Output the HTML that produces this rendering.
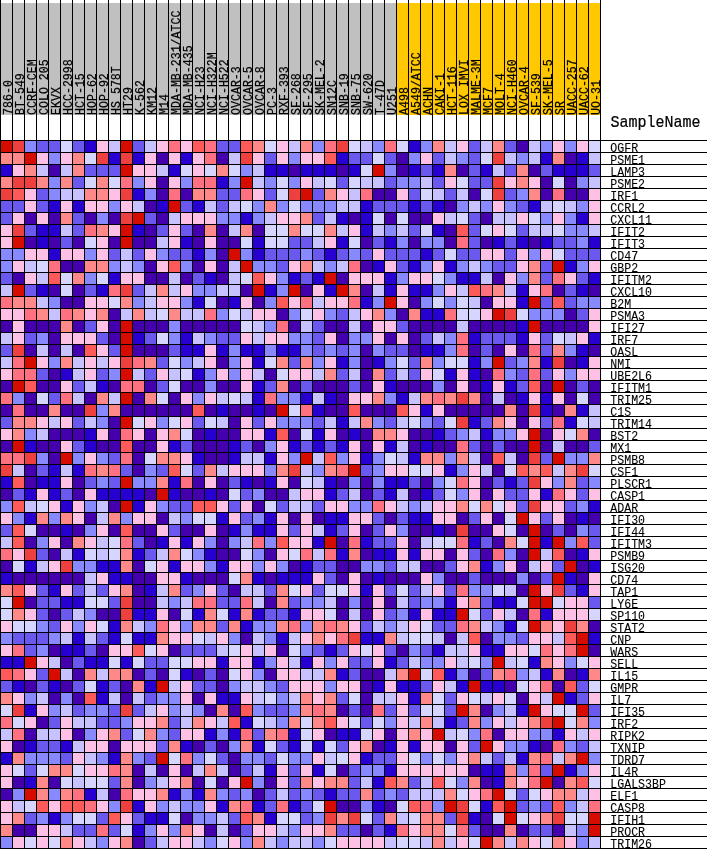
<!DOCTYPE html><html><head><meta charset="utf-8"><style>html,body{margin:0;padding:0;background:#fff;}svg{display:block;will-change:transform}text{font-family:"Liberation Mono",monospace;}</style></head><body>
<svg width="707" height="849" viewBox="0 0 707 849" shape-rendering="crispEdges">
<rect x="0" y="0" width="707" height="849" fill="#fff"/>
<rect x="0" y="3" width="396" height="112" fill="#C0C0C0"/>
<rect x="396" y="3" width="204" height="112" fill="#FFC800"/>
<rect x="1" y="141" width="11" height="11" fill="#D60C00"/>
<rect x="13" y="141" width="11" height="11" fill="#EF4040"/>
<rect x="25" y="141" width="11" height="11" fill="#8888FF"/>
<rect x="37" y="141" width="11" height="11" fill="#6B58EF"/>
<rect x="49" y="141" width="11" height="11" fill="#6B58EF"/>
<rect x="61" y="141" width="11" height="11" fill="#D5D5FF"/>
<rect x="73" y="141" width="11" height="11" fill="#6B58EF"/>
<rect x="85" y="141" width="11" height="11" fill="#2700D1"/>
<rect x="97" y="141" width="11" height="11" fill="#FFC0E5"/>
<rect x="109" y="141" width="11" height="11" fill="#C7C1FF"/>
<rect x="121" y="141" width="11" height="11" fill="#D60C00"/>
<rect x="133" y="141" width="11" height="11" fill="#6B58EF"/>
<rect x="145" y="141" width="11" height="11" fill="#C7C1FF"/>
<rect x="157" y="141" width="11" height="11" fill="#FFC0E5"/>
<rect x="169" y="141" width="11" height="11" fill="#FF7080"/>
<rect x="181" y="141" width="11" height="11" fill="#FFC0E5"/>
<rect x="193" y="141" width="11" height="11" fill="#FF5A5A"/>
<rect x="205" y="141" width="11" height="11" fill="#FF7080"/>
<rect x="217" y="141" width="11" height="11" fill="#6B58EF"/>
<rect x="229" y="141" width="11" height="11" fill="#6B58EF"/>
<rect x="241" y="141" width="11" height="11" fill="#FF5A5A"/>
<rect x="253" y="141" width="11" height="11" fill="#FF8888"/>
<rect x="265" y="141" width="11" height="11" fill="#D5D5FF"/>
<rect x="277" y="141" width="11" height="11" fill="#FFC0E5"/>
<rect x="289" y="141" width="11" height="11" fill="#C7C1FF"/>
<rect x="301" y="141" width="11" height="11" fill="#FF8888"/>
<rect x="313" y="141" width="11" height="11" fill="#8888FF"/>
<rect x="325" y="141" width="11" height="11" fill="#FF7080"/>
<rect x="337" y="141" width="11" height="11" fill="#EF4040"/>
<rect x="349" y="141" width="11" height="11" fill="#D5D5FF"/>
<rect x="361" y="141" width="11" height="11" fill="#C7C1FF"/>
<rect x="373" y="141" width="11" height="11" fill="#8888FF"/>
<rect x="385" y="141" width="11" height="11" fill="#FF7080"/>
<rect x="397" y="141" width="11" height="11" fill="#D5D5FF"/>
<rect x="409" y="141" width="11" height="11" fill="#2700D1"/>
<rect x="421" y="141" width="11" height="11" fill="#8888FF"/>
<rect x="433" y="141" width="11" height="11" fill="#FF8888"/>
<rect x="445" y="141" width="11" height="11" fill="#C7C1FF"/>
<rect x="457" y="141" width="11" height="11" fill="#FFC0E5"/>
<rect x="469" y="141" width="11" height="11" fill="#6B58EF"/>
<rect x="481" y="141" width="11" height="11" fill="#C7C1FF"/>
<rect x="493" y="141" width="11" height="11" fill="#FF8888"/>
<rect x="505" y="141" width="11" height="11" fill="#6B58EF"/>
<rect x="517" y="141" width="11" height="11" fill="#4500AD"/>
<rect x="529" y="141" width="11" height="11" fill="#C7C1FF"/>
<rect x="541" y="141" width="11" height="11" fill="#8888FF"/>
<rect x="553" y="141" width="11" height="11" fill="#FFC0E5"/>
<rect x="565" y="141" width="11" height="11" fill="#8888FF"/>
<rect x="577" y="141" width="11" height="11" fill="#FFC0E5"/>
<rect x="589" y="141" width="11" height="11" fill="#D5D5FF"/>
<rect x="1" y="153" width="11" height="11" fill="#FF8888"/>
<rect x="13" y="153" width="11" height="11" fill="#FF8888"/>
<rect x="25" y="153" width="11" height="11" fill="#D60C00"/>
<rect x="37" y="153" width="11" height="11" fill="#FFC0E5"/>
<rect x="49" y="153" width="11" height="11" fill="#8888FF"/>
<rect x="61" y="153" width="11" height="11" fill="#FFC0E5"/>
<rect x="73" y="153" width="11" height="11" fill="#FF8888"/>
<rect x="85" y="153" width="11" height="11" fill="#D5D5FF"/>
<rect x="97" y="153" width="11" height="11" fill="#EF4040"/>
<rect x="109" y="153" width="11" height="11" fill="#2700D1"/>
<rect x="121" y="153" width="11" height="11" fill="#EF4040"/>
<rect x="133" y="153" width="11" height="11" fill="#2700D1"/>
<rect x="145" y="153" width="11" height="11" fill="#FFC0E5"/>
<rect x="157" y="153" width="11" height="11" fill="#4500AD"/>
<rect x="169" y="153" width="11" height="11" fill="#FFC0E5"/>
<rect x="181" y="153" width="11" height="11" fill="#2700D1"/>
<rect x="193" y="153" width="11" height="11" fill="#FFC0E5"/>
<rect x="205" y="153" width="11" height="11" fill="#FF7080"/>
<rect x="217" y="153" width="11" height="11" fill="#4500AD"/>
<rect x="229" y="153" width="11" height="11" fill="#C7C1FF"/>
<rect x="241" y="153" width="11" height="11" fill="#EF4040"/>
<rect x="253" y="153" width="11" height="11" fill="#FFC0E5"/>
<rect x="265" y="153" width="11" height="11" fill="#6B58EF"/>
<rect x="277" y="153" width="11" height="11" fill="#FFC0E5"/>
<rect x="289" y="153" width="11" height="11" fill="#8888FF"/>
<rect x="301" y="153" width="11" height="11" fill="#FFC0E5"/>
<rect x="313" y="153" width="11" height="11" fill="#FFC0E5"/>
<rect x="325" y="153" width="11" height="11" fill="#FF5A5A"/>
<rect x="337" y="153" width="11" height="11" fill="#2700D1"/>
<rect x="349" y="153" width="11" height="11" fill="#6B58EF"/>
<rect x="361" y="153" width="11" height="11" fill="#6B58EF"/>
<rect x="373" y="153" width="11" height="11" fill="#D5D5FF"/>
<rect x="385" y="153" width="11" height="11" fill="#6B58EF"/>
<rect x="397" y="153" width="11" height="11" fill="#4500AD"/>
<rect x="409" y="153" width="11" height="11" fill="#8888FF"/>
<rect x="421" y="153" width="11" height="11" fill="#FFC0E5"/>
<rect x="433" y="153" width="11" height="11" fill="#6B58EF"/>
<rect x="445" y="153" width="11" height="11" fill="#C7C1FF"/>
<rect x="457" y="153" width="11" height="11" fill="#8888FF"/>
<rect x="469" y="153" width="11" height="11" fill="#6B58EF"/>
<rect x="481" y="153" width="11" height="11" fill="#D5D5FF"/>
<rect x="493" y="153" width="11" height="11" fill="#EF4040"/>
<rect x="505" y="153" width="11" height="11" fill="#C7C1FF"/>
<rect x="517" y="153" width="11" height="11" fill="#8888FF"/>
<rect x="529" y="153" width="11" height="11" fill="#C7C1FF"/>
<rect x="541" y="153" width="11" height="11" fill="#2700D1"/>
<rect x="553" y="153" width="11" height="11" fill="#FF8888"/>
<rect x="565" y="153" width="11" height="11" fill="#4500AD"/>
<rect x="577" y="153" width="11" height="11" fill="#2700D1"/>
<rect x="589" y="153" width="11" height="11" fill="#C7C1FF"/>
<rect x="1" y="165" width="11" height="11" fill="#2700D1"/>
<rect x="13" y="165" width="11" height="11" fill="#FFC0E5"/>
<rect x="25" y="165" width="11" height="11" fill="#FF8888"/>
<rect x="37" y="165" width="11" height="11" fill="#C7C1FF"/>
<rect x="49" y="165" width="11" height="11" fill="#4500AD"/>
<rect x="61" y="165" width="11" height="11" fill="#C7C1FF"/>
<rect x="73" y="165" width="11" height="11" fill="#FF8888"/>
<rect x="85" y="165" width="11" height="11" fill="#6B58EF"/>
<rect x="97" y="165" width="11" height="11" fill="#6B58EF"/>
<rect x="109" y="165" width="11" height="11" fill="#6B58EF"/>
<rect x="121" y="165" width="11" height="11" fill="#D60C00"/>
<rect x="133" y="165" width="11" height="11" fill="#FFC0E5"/>
<rect x="145" y="165" width="11" height="11" fill="#FFC0E5"/>
<rect x="157" y="165" width="11" height="11" fill="#C7C1FF"/>
<rect x="169" y="165" width="11" height="11" fill="#2700D1"/>
<rect x="181" y="165" width="11" height="11" fill="#D5D5FF"/>
<rect x="193" y="165" width="11" height="11" fill="#FFC0E5"/>
<rect x="205" y="165" width="11" height="11" fill="#D5D5FF"/>
<rect x="217" y="165" width="11" height="11" fill="#FF8888"/>
<rect x="229" y="165" width="11" height="11" fill="#D5D5FF"/>
<rect x="241" y="165" width="11" height="11" fill="#8888FF"/>
<rect x="253" y="165" width="11" height="11" fill="#C7C1FF"/>
<rect x="265" y="165" width="11" height="11" fill="#2700D1"/>
<rect x="277" y="165" width="11" height="11" fill="#2700D1"/>
<rect x="289" y="165" width="11" height="11" fill="#4500AD"/>
<rect x="301" y="165" width="11" height="11" fill="#2700D1"/>
<rect x="313" y="165" width="11" height="11" fill="#2700D1"/>
<rect x="325" y="165" width="11" height="11" fill="#2700D1"/>
<rect x="337" y="165" width="11" height="11" fill="#4500AD"/>
<rect x="349" y="165" width="11" height="11" fill="#2700D1"/>
<rect x="361" y="165" width="11" height="11" fill="#D5D5FF"/>
<rect x="373" y="165" width="11" height="11" fill="#D60C00"/>
<rect x="385" y="165" width="11" height="11" fill="#8888FF"/>
<rect x="397" y="165" width="11" height="11" fill="#4500AD"/>
<rect x="409" y="165" width="11" height="11" fill="#2700D1"/>
<rect x="421" y="165" width="11" height="11" fill="#6B58EF"/>
<rect x="433" y="165" width="11" height="11" fill="#2700D1"/>
<rect x="445" y="165" width="11" height="11" fill="#FF8888"/>
<rect x="457" y="165" width="11" height="11" fill="#4500AD"/>
<rect x="469" y="165" width="11" height="11" fill="#6B58EF"/>
<rect x="481" y="165" width="11" height="11" fill="#2700D1"/>
<rect x="493" y="165" width="11" height="11" fill="#C7C1FF"/>
<rect x="505" y="165" width="11" height="11" fill="#6B58EF"/>
<rect x="517" y="165" width="11" height="11" fill="#FF8888"/>
<rect x="529" y="165" width="11" height="11" fill="#4500AD"/>
<rect x="541" y="165" width="11" height="11" fill="#6B58EF"/>
<rect x="553" y="165" width="11" height="11" fill="#2700D1"/>
<rect x="565" y="165" width="11" height="11" fill="#2700D1"/>
<rect x="577" y="165" width="11" height="11" fill="#2700D1"/>
<rect x="589" y="165" width="11" height="11" fill="#6B58EF"/>
<rect x="1" y="177" width="11" height="11" fill="#FF8888"/>
<rect x="13" y="177" width="11" height="11" fill="#EF4040"/>
<rect x="25" y="177" width="11" height="11" fill="#EF4040"/>
<rect x="37" y="177" width="11" height="11" fill="#FF8888"/>
<rect x="49" y="177" width="11" height="11" fill="#8888FF"/>
<rect x="61" y="177" width="11" height="11" fill="#FF8888"/>
<rect x="73" y="177" width="11" height="11" fill="#6B58EF"/>
<rect x="85" y="177" width="11" height="11" fill="#D5D5FF"/>
<rect x="97" y="177" width="11" height="11" fill="#FF8888"/>
<rect x="109" y="177" width="11" height="11" fill="#D5D5FF"/>
<rect x="121" y="177" width="11" height="11" fill="#FF7080"/>
<rect x="133" y="177" width="11" height="11" fill="#8888FF"/>
<rect x="145" y="177" width="11" height="11" fill="#FFC0E5"/>
<rect x="157" y="177" width="11" height="11" fill="#4500AD"/>
<rect x="169" y="177" width="11" height="11" fill="#FFC0E5"/>
<rect x="181" y="177" width="11" height="11" fill="#8888FF"/>
<rect x="193" y="177" width="11" height="11" fill="#FF7080"/>
<rect x="205" y="177" width="11" height="11" fill="#FF7080"/>
<rect x="217" y="177" width="11" height="11" fill="#2700D1"/>
<rect x="229" y="177" width="11" height="11" fill="#8888FF"/>
<rect x="241" y="177" width="11" height="11" fill="#D60C00"/>
<rect x="253" y="177" width="11" height="11" fill="#C7C1FF"/>
<rect x="265" y="177" width="11" height="11" fill="#8888FF"/>
<rect x="277" y="177" width="11" height="11" fill="#D5D5FF"/>
<rect x="289" y="177" width="11" height="11" fill="#8888FF"/>
<rect x="301" y="177" width="11" height="11" fill="#FFC0E5"/>
<rect x="313" y="177" width="11" height="11" fill="#C7C1FF"/>
<rect x="325" y="177" width="11" height="11" fill="#D5D5FF"/>
<rect x="337" y="177" width="11" height="11" fill="#6B58EF"/>
<rect x="349" y="177" width="11" height="11" fill="#D5D5FF"/>
<rect x="361" y="177" width="11" height="11" fill="#C7C1FF"/>
<rect x="373" y="177" width="11" height="11" fill="#C7C1FF"/>
<rect x="385" y="177" width="11" height="11" fill="#6B58EF"/>
<rect x="397" y="177" width="11" height="11" fill="#8888FF"/>
<rect x="409" y="177" width="11" height="11" fill="#8888FF"/>
<rect x="421" y="177" width="11" height="11" fill="#C7C1FF"/>
<rect x="433" y="177" width="11" height="11" fill="#6B58EF"/>
<rect x="445" y="177" width="11" height="11" fill="#FFC0E5"/>
<rect x="457" y="177" width="11" height="11" fill="#D5D5FF"/>
<rect x="469" y="177" width="11" height="11" fill="#6B58EF"/>
<rect x="481" y="177" width="11" height="11" fill="#6B58EF"/>
<rect x="493" y="177" width="11" height="11" fill="#EF4040"/>
<rect x="505" y="177" width="11" height="11" fill="#FFC0E5"/>
<rect x="517" y="177" width="11" height="11" fill="#FF8888"/>
<rect x="529" y="177" width="11" height="11" fill="#FFC0E5"/>
<rect x="541" y="177" width="11" height="11" fill="#4500AD"/>
<rect x="553" y="177" width="11" height="11" fill="#D5D5FF"/>
<rect x="565" y="177" width="11" height="11" fill="#4500AD"/>
<rect x="577" y="177" width="11" height="11" fill="#8888FF"/>
<rect x="589" y="177" width="11" height="11" fill="#C7C1FF"/>
<rect x="1" y="189" width="11" height="11" fill="#EF4040"/>
<rect x="13" y="189" width="11" height="11" fill="#FF5A5A"/>
<rect x="25" y="189" width="11" height="11" fill="#FFC0E5"/>
<rect x="37" y="189" width="11" height="11" fill="#6B58EF"/>
<rect x="49" y="189" width="11" height="11" fill="#8888FF"/>
<rect x="61" y="189" width="11" height="11" fill="#C7C1FF"/>
<rect x="73" y="189" width="11" height="11" fill="#C7C1FF"/>
<rect x="85" y="189" width="11" height="11" fill="#FF8888"/>
<rect x="97" y="189" width="11" height="11" fill="#FF8888"/>
<rect x="109" y="189" width="11" height="11" fill="#FFC0E5"/>
<rect x="121" y="189" width="11" height="11" fill="#EF4040"/>
<rect x="133" y="189" width="11" height="11" fill="#2700D1"/>
<rect x="145" y="189" width="11" height="11" fill="#8888FF"/>
<rect x="157" y="189" width="11" height="11" fill="#4500AD"/>
<rect x="169" y="189" width="11" height="11" fill="#FF7080"/>
<rect x="181" y="189" width="11" height="11" fill="#4500AD"/>
<rect x="193" y="189" width="11" height="11" fill="#FF8888"/>
<rect x="205" y="189" width="11" height="11" fill="#FF8888"/>
<rect x="217" y="189" width="11" height="11" fill="#6B58EF"/>
<rect x="229" y="189" width="11" height="11" fill="#6B58EF"/>
<rect x="241" y="189" width="11" height="11" fill="#FF7080"/>
<rect x="253" y="189" width="11" height="11" fill="#FFC0E5"/>
<rect x="265" y="189" width="11" height="11" fill="#6B58EF"/>
<rect x="277" y="189" width="11" height="11" fill="#D5D5FF"/>
<rect x="289" y="189" width="11" height="11" fill="#EF4040"/>
<rect x="301" y="189" width="11" height="11" fill="#D60C00"/>
<rect x="313" y="189" width="11" height="11" fill="#6B58EF"/>
<rect x="325" y="189" width="11" height="11" fill="#FF8888"/>
<rect x="337" y="189" width="11" height="11" fill="#FFC0E5"/>
<rect x="349" y="189" width="11" height="11" fill="#C7C1FF"/>
<rect x="361" y="189" width="11" height="11" fill="#FF7080"/>
<rect x="373" y="189" width="11" height="11" fill="#4500AD"/>
<rect x="385" y="189" width="11" height="11" fill="#4500AD"/>
<rect x="397" y="189" width="11" height="11" fill="#FFC0E5"/>
<rect x="409" y="189" width="11" height="11" fill="#6B58EF"/>
<rect x="421" y="189" width="11" height="11" fill="#D5D5FF"/>
<rect x="433" y="189" width="11" height="11" fill="#C7C1FF"/>
<rect x="445" y="189" width="11" height="11" fill="#6B58EF"/>
<rect x="457" y="189" width="11" height="11" fill="#C7C1FF"/>
<rect x="469" y="189" width="11" height="11" fill="#4500AD"/>
<rect x="481" y="189" width="11" height="11" fill="#D5D5FF"/>
<rect x="493" y="189" width="11" height="11" fill="#EF4040"/>
<rect x="505" y="189" width="11" height="11" fill="#6B58EF"/>
<rect x="517" y="189" width="11" height="11" fill="#8888FF"/>
<rect x="529" y="189" width="11" height="11" fill="#FF8888"/>
<rect x="541" y="189" width="11" height="11" fill="#4500AD"/>
<rect x="553" y="189" width="11" height="11" fill="#FF7080"/>
<rect x="565" y="189" width="11" height="11" fill="#4500AD"/>
<rect x="577" y="189" width="11" height="11" fill="#4500AD"/>
<rect x="589" y="189" width="11" height="11" fill="#FFC0E5"/>
<rect x="1" y="201" width="11" height="11" fill="#6B58EF"/>
<rect x="13" y="201" width="11" height="11" fill="#6B58EF"/>
<rect x="25" y="201" width="11" height="11" fill="#FFC0E5"/>
<rect x="37" y="201" width="11" height="11" fill="#6B58EF"/>
<rect x="49" y="201" width="11" height="11" fill="#2700D1"/>
<rect x="61" y="201" width="11" height="11" fill="#FFC0E5"/>
<rect x="73" y="201" width="11" height="11" fill="#2700D1"/>
<rect x="85" y="201" width="11" height="11" fill="#FFC0E5"/>
<rect x="97" y="201" width="11" height="11" fill="#FFC0E5"/>
<rect x="109" y="201" width="11" height="11" fill="#8888FF"/>
<rect x="121" y="201" width="11" height="11" fill="#FFC0E5"/>
<rect x="133" y="201" width="11" height="11" fill="#C7C1FF"/>
<rect x="145" y="201" width="11" height="11" fill="#4500AD"/>
<rect x="157" y="201" width="11" height="11" fill="#2700D1"/>
<rect x="169" y="201" width="11" height="11" fill="#D60C00"/>
<rect x="181" y="201" width="11" height="11" fill="#6B58EF"/>
<rect x="193" y="201" width="11" height="11" fill="#2700D1"/>
<rect x="205" y="201" width="11" height="11" fill="#C7C1FF"/>
<rect x="217" y="201" width="11" height="11" fill="#6B58EF"/>
<rect x="229" y="201" width="11" height="11" fill="#C7C1FF"/>
<rect x="241" y="201" width="11" height="11" fill="#D5D5FF"/>
<rect x="253" y="201" width="11" height="11" fill="#8888FF"/>
<rect x="265" y="201" width="11" height="11" fill="#FF8888"/>
<rect x="277" y="201" width="11" height="11" fill="#8888FF"/>
<rect x="289" y="201" width="11" height="11" fill="#D5D5FF"/>
<rect x="301" y="201" width="11" height="11" fill="#8888FF"/>
<rect x="313" y="201" width="11" height="11" fill="#8888FF"/>
<rect x="325" y="201" width="11" height="11" fill="#8888FF"/>
<rect x="337" y="201" width="11" height="11" fill="#C7C1FF"/>
<rect x="349" y="201" width="11" height="11" fill="#C7C1FF"/>
<rect x="361" y="201" width="11" height="11" fill="#2700D1"/>
<rect x="373" y="201" width="11" height="11" fill="#6B58EF"/>
<rect x="385" y="201" width="11" height="11" fill="#6B58EF"/>
<rect x="397" y="201" width="11" height="11" fill="#6B58EF"/>
<rect x="409" y="201" width="11" height="11" fill="#2700D1"/>
<rect x="421" y="201" width="11" height="11" fill="#6B58EF"/>
<rect x="433" y="201" width="11" height="11" fill="#2700D1"/>
<rect x="445" y="201" width="11" height="11" fill="#4500AD"/>
<rect x="457" y="201" width="11" height="11" fill="#8888FF"/>
<rect x="469" y="201" width="11" height="11" fill="#C7C1FF"/>
<rect x="481" y="201" width="11" height="11" fill="#8888FF"/>
<rect x="493" y="201" width="11" height="11" fill="#FFC0E5"/>
<rect x="505" y="201" width="11" height="11" fill="#8888FF"/>
<rect x="517" y="201" width="11" height="11" fill="#6B58EF"/>
<rect x="529" y="201" width="11" height="11" fill="#2700D1"/>
<rect x="541" y="201" width="11" height="11" fill="#C7C1FF"/>
<rect x="553" y="201" width="11" height="11" fill="#D5D5FF"/>
<rect x="565" y="201" width="11" height="11" fill="#C7C1FF"/>
<rect x="577" y="201" width="11" height="11" fill="#8888FF"/>
<rect x="589" y="201" width="11" height="11" fill="#FFC0E5"/>
<rect x="1" y="213" width="11" height="11" fill="#6B58EF"/>
<rect x="13" y="213" width="11" height="11" fill="#FFC0E5"/>
<rect x="25" y="213" width="11" height="11" fill="#4500AD"/>
<rect x="37" y="213" width="11" height="11" fill="#FFC0E5"/>
<rect x="49" y="213" width="11" height="11" fill="#4500AD"/>
<rect x="61" y="213" width="11" height="11" fill="#FF8888"/>
<rect x="73" y="213" width="11" height="11" fill="#6B58EF"/>
<rect x="85" y="213" width="11" height="11" fill="#4500AD"/>
<rect x="97" y="213" width="11" height="11" fill="#8888FF"/>
<rect x="109" y="213" width="11" height="11" fill="#4500AD"/>
<rect x="121" y="213" width="11" height="11" fill="#EF4040"/>
<rect x="133" y="213" width="11" height="11" fill="#D60C00"/>
<rect x="145" y="213" width="11" height="11" fill="#6B58EF"/>
<rect x="157" y="213" width="11" height="11" fill="#4500AD"/>
<rect x="169" y="213" width="11" height="11" fill="#C7C1FF"/>
<rect x="181" y="213" width="11" height="11" fill="#FFC0E5"/>
<rect x="193" y="213" width="11" height="11" fill="#FFC0E5"/>
<rect x="205" y="213" width="11" height="11" fill="#FFC0E5"/>
<rect x="217" y="213" width="11" height="11" fill="#8888FF"/>
<rect x="229" y="213" width="11" height="11" fill="#8888FF"/>
<rect x="241" y="213" width="11" height="11" fill="#2700D1"/>
<rect x="253" y="213" width="11" height="11" fill="#8888FF"/>
<rect x="265" y="213" width="11" height="11" fill="#C7C1FF"/>
<rect x="277" y="213" width="11" height="11" fill="#FFC0E5"/>
<rect x="289" y="213" width="11" height="11" fill="#FFC0E5"/>
<rect x="301" y="213" width="11" height="11" fill="#FF8888"/>
<rect x="313" y="213" width="11" height="11" fill="#6B58EF"/>
<rect x="325" y="213" width="11" height="11" fill="#C7C1FF"/>
<rect x="337" y="213" width="11" height="11" fill="#2700D1"/>
<rect x="349" y="213" width="11" height="11" fill="#4500AD"/>
<rect x="361" y="213" width="11" height="11" fill="#2700D1"/>
<rect x="373" y="213" width="11" height="11" fill="#D5D5FF"/>
<rect x="385" y="213" width="11" height="11" fill="#4500AD"/>
<rect x="397" y="213" width="11" height="11" fill="#D5D5FF"/>
<rect x="409" y="213" width="11" height="11" fill="#4500AD"/>
<rect x="421" y="213" width="11" height="11" fill="#4500AD"/>
<rect x="433" y="213" width="11" height="11" fill="#FFC0E5"/>
<rect x="445" y="213" width="11" height="11" fill="#C7C1FF"/>
<rect x="457" y="213" width="11" height="11" fill="#D5D5FF"/>
<rect x="469" y="213" width="11" height="11" fill="#6B58EF"/>
<rect x="481" y="213" width="11" height="11" fill="#4500AD"/>
<rect x="493" y="213" width="11" height="11" fill="#C7C1FF"/>
<rect x="505" y="213" width="11" height="11" fill="#C7C1FF"/>
<rect x="517" y="213" width="11" height="11" fill="#FFC0E5"/>
<rect x="529" y="213" width="11" height="11" fill="#D5D5FF"/>
<rect x="541" y="213" width="11" height="11" fill="#8888FF"/>
<rect x="553" y="213" width="11" height="11" fill="#FFC0E5"/>
<rect x="565" y="213" width="11" height="11" fill="#8888FF"/>
<rect x="577" y="213" width="11" height="11" fill="#2700D1"/>
<rect x="589" y="213" width="11" height="11" fill="#FFC0E5"/>
<rect x="1" y="225" width="11" height="11" fill="#FFC0E5"/>
<rect x="13" y="225" width="11" height="11" fill="#EF4040"/>
<rect x="25" y="225" width="11" height="11" fill="#6B58EF"/>
<rect x="37" y="225" width="11" height="11" fill="#2700D1"/>
<rect x="49" y="225" width="11" height="11" fill="#2700D1"/>
<rect x="61" y="225" width="11" height="11" fill="#C7C1FF"/>
<rect x="73" y="225" width="11" height="11" fill="#6B58EF"/>
<rect x="85" y="225" width="11" height="11" fill="#FF7080"/>
<rect x="97" y="225" width="11" height="11" fill="#FF8888"/>
<rect x="109" y="225" width="11" height="11" fill="#FFC0E5"/>
<rect x="121" y="225" width="11" height="11" fill="#D60C00"/>
<rect x="133" y="225" width="11" height="11" fill="#2700D1"/>
<rect x="145" y="225" width="11" height="11" fill="#4500AD"/>
<rect x="157" y="225" width="11" height="11" fill="#6B58EF"/>
<rect x="169" y="225" width="11" height="11" fill="#FFC0E5"/>
<rect x="181" y="225" width="11" height="11" fill="#6B58EF"/>
<rect x="193" y="225" width="11" height="11" fill="#4500AD"/>
<rect x="205" y="225" width="11" height="11" fill="#FF8888"/>
<rect x="217" y="225" width="11" height="11" fill="#4500AD"/>
<rect x="229" y="225" width="11" height="11" fill="#C7C1FF"/>
<rect x="241" y="225" width="11" height="11" fill="#FF8888"/>
<rect x="253" y="225" width="11" height="11" fill="#4500AD"/>
<rect x="265" y="225" width="11" height="11" fill="#D5D5FF"/>
<rect x="277" y="225" width="11" height="11" fill="#D5D5FF"/>
<rect x="289" y="225" width="11" height="11" fill="#FF8888"/>
<rect x="301" y="225" width="11" height="11" fill="#D5D5FF"/>
<rect x="313" y="225" width="11" height="11" fill="#D5D5FF"/>
<rect x="325" y="225" width="11" height="11" fill="#FF8888"/>
<rect x="337" y="225" width="11" height="11" fill="#C7C1FF"/>
<rect x="349" y="225" width="11" height="11" fill="#FFC0E5"/>
<rect x="361" y="225" width="11" height="11" fill="#2700D1"/>
<rect x="373" y="225" width="11" height="11" fill="#C7C1FF"/>
<rect x="385" y="225" width="11" height="11" fill="#8888FF"/>
<rect x="397" y="225" width="11" height="11" fill="#C7C1FF"/>
<rect x="409" y="225" width="11" height="11" fill="#6B58EF"/>
<rect x="421" y="225" width="11" height="11" fill="#D5D5FF"/>
<rect x="433" y="225" width="11" height="11" fill="#2700D1"/>
<rect x="445" y="225" width="11" height="11" fill="#4500AD"/>
<rect x="457" y="225" width="11" height="11" fill="#FF5A5A"/>
<rect x="469" y="225" width="11" height="11" fill="#6B58EF"/>
<rect x="481" y="225" width="11" height="11" fill="#D5D5FF"/>
<rect x="493" y="225" width="11" height="11" fill="#FFC0E5"/>
<rect x="505" y="225" width="11" height="11" fill="#D5D5FF"/>
<rect x="517" y="225" width="11" height="11" fill="#6B58EF"/>
<rect x="529" y="225" width="11" height="11" fill="#C7C1FF"/>
<rect x="541" y="225" width="11" height="11" fill="#C7C1FF"/>
<rect x="553" y="225" width="11" height="11" fill="#D5D5FF"/>
<rect x="565" y="225" width="11" height="11" fill="#8888FF"/>
<rect x="577" y="225" width="11" height="11" fill="#8888FF"/>
<rect x="589" y="225" width="11" height="11" fill="#C7C1FF"/>
<rect x="1" y="237" width="11" height="11" fill="#FFC0E5"/>
<rect x="13" y="237" width="11" height="11" fill="#D60C00"/>
<rect x="25" y="237" width="11" height="11" fill="#4500AD"/>
<rect x="37" y="237" width="11" height="11" fill="#2700D1"/>
<rect x="49" y="237" width="11" height="11" fill="#4500AD"/>
<rect x="61" y="237" width="11" height="11" fill="#6B58EF"/>
<rect x="73" y="237" width="11" height="11" fill="#4500AD"/>
<rect x="85" y="237" width="11" height="11" fill="#D5D5FF"/>
<rect x="97" y="237" width="11" height="11" fill="#FFC0E5"/>
<rect x="109" y="237" width="11" height="11" fill="#4500AD"/>
<rect x="121" y="237" width="11" height="11" fill="#D60C00"/>
<rect x="133" y="237" width="11" height="11" fill="#4500AD"/>
<rect x="145" y="237" width="11" height="11" fill="#4500AD"/>
<rect x="157" y="237" width="11" height="11" fill="#C7C1FF"/>
<rect x="169" y="237" width="11" height="11" fill="#FFC0E5"/>
<rect x="181" y="237" width="11" height="11" fill="#2700D1"/>
<rect x="193" y="237" width="11" height="11" fill="#4500AD"/>
<rect x="205" y="237" width="11" height="11" fill="#FFC0E5"/>
<rect x="217" y="237" width="11" height="11" fill="#4500AD"/>
<rect x="229" y="237" width="11" height="11" fill="#4500AD"/>
<rect x="241" y="237" width="11" height="11" fill="#D5D5FF"/>
<rect x="253" y="237" width="11" height="11" fill="#2700D1"/>
<rect x="265" y="237" width="11" height="11" fill="#D5D5FF"/>
<rect x="277" y="237" width="11" height="11" fill="#D5D5FF"/>
<rect x="289" y="237" width="11" height="11" fill="#6B58EF"/>
<rect x="301" y="237" width="11" height="11" fill="#6B58EF"/>
<rect x="313" y="237" width="11" height="11" fill="#C7C1FF"/>
<rect x="325" y="237" width="11" height="11" fill="#FFC0E5"/>
<rect x="337" y="237" width="11" height="11" fill="#2700D1"/>
<rect x="349" y="237" width="11" height="11" fill="#D5D5FF"/>
<rect x="361" y="237" width="11" height="11" fill="#4500AD"/>
<rect x="373" y="237" width="11" height="11" fill="#6B58EF"/>
<rect x="385" y="237" width="11" height="11" fill="#2700D1"/>
<rect x="397" y="237" width="11" height="11" fill="#8888FF"/>
<rect x="409" y="237" width="11" height="11" fill="#4500AD"/>
<rect x="421" y="237" width="11" height="11" fill="#8888FF"/>
<rect x="433" y="237" width="11" height="11" fill="#8888FF"/>
<rect x="445" y="237" width="11" height="11" fill="#4500AD"/>
<rect x="457" y="237" width="11" height="11" fill="#FF7080"/>
<rect x="469" y="237" width="11" height="11" fill="#6B58EF"/>
<rect x="481" y="237" width="11" height="11" fill="#4500AD"/>
<rect x="493" y="237" width="11" height="11" fill="#2700D1"/>
<rect x="505" y="237" width="11" height="11" fill="#6B58EF"/>
<rect x="517" y="237" width="11" height="11" fill="#2700D1"/>
<rect x="529" y="237" width="11" height="11" fill="#4500AD"/>
<rect x="541" y="237" width="11" height="11" fill="#2700D1"/>
<rect x="553" y="237" width="11" height="11" fill="#6B58EF"/>
<rect x="565" y="237" width="11" height="11" fill="#6B58EF"/>
<rect x="577" y="237" width="11" height="11" fill="#8888FF"/>
<rect x="589" y="237" width="11" height="11" fill="#2700D1"/>
<rect x="1" y="249" width="11" height="11" fill="#8888FF"/>
<rect x="13" y="249" width="11" height="11" fill="#8888FF"/>
<rect x="25" y="249" width="11" height="11" fill="#FFC0E5"/>
<rect x="37" y="249" width="11" height="11" fill="#FFC0E5"/>
<rect x="49" y="249" width="11" height="11" fill="#2700D1"/>
<rect x="61" y="249" width="11" height="11" fill="#FFC0E5"/>
<rect x="73" y="249" width="11" height="11" fill="#FFC0E5"/>
<rect x="85" y="249" width="11" height="11" fill="#8888FF"/>
<rect x="97" y="249" width="11" height="11" fill="#FFC0E5"/>
<rect x="109" y="249" width="11" height="11" fill="#6B58EF"/>
<rect x="121" y="249" width="11" height="11" fill="#C7C1FF"/>
<rect x="133" y="249" width="11" height="11" fill="#6B58EF"/>
<rect x="145" y="249" width="11" height="11" fill="#FFC0E5"/>
<rect x="157" y="249" width="11" height="11" fill="#8888FF"/>
<rect x="169" y="249" width="11" height="11" fill="#6B58EF"/>
<rect x="181" y="249" width="11" height="11" fill="#6B58EF"/>
<rect x="193" y="249" width="11" height="11" fill="#2700D1"/>
<rect x="205" y="249" width="11" height="11" fill="#8888FF"/>
<rect x="217" y="249" width="11" height="11" fill="#4500AD"/>
<rect x="229" y="249" width="11" height="11" fill="#D60C00"/>
<rect x="241" y="249" width="11" height="11" fill="#8888FF"/>
<rect x="253" y="249" width="11" height="11" fill="#2700D1"/>
<rect x="265" y="249" width="11" height="11" fill="#6B58EF"/>
<rect x="277" y="249" width="11" height="11" fill="#6B58EF"/>
<rect x="289" y="249" width="11" height="11" fill="#6B58EF"/>
<rect x="301" y="249" width="11" height="11" fill="#8888FF"/>
<rect x="313" y="249" width="11" height="11" fill="#6B58EF"/>
<rect x="325" y="249" width="11" height="11" fill="#2700D1"/>
<rect x="337" y="249" width="11" height="11" fill="#6B58EF"/>
<rect x="349" y="249" width="11" height="11" fill="#8888FF"/>
<rect x="361" y="249" width="11" height="11" fill="#6B58EF"/>
<rect x="373" y="249" width="11" height="11" fill="#FFC0E5"/>
<rect x="385" y="249" width="11" height="11" fill="#6B58EF"/>
<rect x="397" y="249" width="11" height="11" fill="#6B58EF"/>
<rect x="409" y="249" width="11" height="11" fill="#6B58EF"/>
<rect x="421" y="249" width="11" height="11" fill="#2700D1"/>
<rect x="433" y="249" width="11" height="11" fill="#6B58EF"/>
<rect x="445" y="249" width="11" height="11" fill="#D5D5FF"/>
<rect x="457" y="249" width="11" height="11" fill="#6B58EF"/>
<rect x="469" y="249" width="11" height="11" fill="#6B58EF"/>
<rect x="481" y="249" width="11" height="11" fill="#FFC0E5"/>
<rect x="493" y="249" width="11" height="11" fill="#FFC0E5"/>
<rect x="505" y="249" width="11" height="11" fill="#6B58EF"/>
<rect x="517" y="249" width="11" height="11" fill="#FFC0E5"/>
<rect x="529" y="249" width="11" height="11" fill="#8888FF"/>
<rect x="541" y="249" width="11" height="11" fill="#FFC0E5"/>
<rect x="553" y="249" width="11" height="11" fill="#D5D5FF"/>
<rect x="565" y="249" width="11" height="11" fill="#6B58EF"/>
<rect x="577" y="249" width="11" height="11" fill="#6B58EF"/>
<rect x="589" y="249" width="11" height="11" fill="#6B58EF"/>
<rect x="1" y="261" width="11" height="11" fill="#8888FF"/>
<rect x="13" y="261" width="11" height="11" fill="#FFC0E5"/>
<rect x="25" y="261" width="11" height="11" fill="#C7C1FF"/>
<rect x="37" y="261" width="11" height="11" fill="#D5D5FF"/>
<rect x="49" y="261" width="11" height="11" fill="#FF7080"/>
<rect x="61" y="261" width="11" height="11" fill="#4500AD"/>
<rect x="73" y="261" width="11" height="11" fill="#4500AD"/>
<rect x="85" y="261" width="11" height="11" fill="#FF8888"/>
<rect x="97" y="261" width="11" height="11" fill="#FF8888"/>
<rect x="109" y="261" width="11" height="11" fill="#8888FF"/>
<rect x="121" y="261" width="11" height="11" fill="#C7C1FF"/>
<rect x="133" y="261" width="11" height="11" fill="#8888FF"/>
<rect x="145" y="261" width="11" height="11" fill="#4500AD"/>
<rect x="157" y="261" width="11" height="11" fill="#FFC0E5"/>
<rect x="169" y="261" width="11" height="11" fill="#FF5A5A"/>
<rect x="181" y="261" width="11" height="11" fill="#8888FF"/>
<rect x="193" y="261" width="11" height="11" fill="#4500AD"/>
<rect x="205" y="261" width="11" height="11" fill="#FFC0E5"/>
<rect x="217" y="261" width="11" height="11" fill="#4500AD"/>
<rect x="229" y="261" width="11" height="11" fill="#C7C1FF"/>
<rect x="241" y="261" width="11" height="11" fill="#D60C00"/>
<rect x="253" y="261" width="11" height="11" fill="#8888FF"/>
<rect x="265" y="261" width="11" height="11" fill="#8888FF"/>
<rect x="277" y="261" width="11" height="11" fill="#6B58EF"/>
<rect x="289" y="261" width="11" height="11" fill="#FFC0E5"/>
<rect x="301" y="261" width="11" height="11" fill="#FF8888"/>
<rect x="313" y="261" width="11" height="11" fill="#C7C1FF"/>
<rect x="325" y="261" width="11" height="11" fill="#8888FF"/>
<rect x="337" y="261" width="11" height="11" fill="#C7C1FF"/>
<rect x="349" y="261" width="11" height="11" fill="#FF7080"/>
<rect x="361" y="261" width="11" height="11" fill="#4500AD"/>
<rect x="373" y="261" width="11" height="11" fill="#2700D1"/>
<rect x="385" y="261" width="11" height="11" fill="#FFC0E5"/>
<rect x="397" y="261" width="11" height="11" fill="#6B58EF"/>
<rect x="409" y="261" width="11" height="11" fill="#2700D1"/>
<rect x="421" y="261" width="11" height="11" fill="#8888FF"/>
<rect x="433" y="261" width="11" height="11" fill="#FFC0E5"/>
<rect x="445" y="261" width="11" height="11" fill="#2700D1"/>
<rect x="457" y="261" width="11" height="11" fill="#8888FF"/>
<rect x="469" y="261" width="11" height="11" fill="#C7C1FF"/>
<rect x="481" y="261" width="11" height="11" fill="#8888FF"/>
<rect x="493" y="261" width="11" height="11" fill="#6B58EF"/>
<rect x="505" y="261" width="11" height="11" fill="#6B58EF"/>
<rect x="517" y="261" width="11" height="11" fill="#FFC0E5"/>
<rect x="529" y="261" width="11" height="11" fill="#FF8888"/>
<rect x="541" y="261" width="11" height="11" fill="#6B58EF"/>
<rect x="553" y="261" width="11" height="11" fill="#D60C00"/>
<rect x="565" y="261" width="11" height="11" fill="#2700D1"/>
<rect x="577" y="261" width="11" height="11" fill="#8888FF"/>
<rect x="589" y="261" width="11" height="11" fill="#FFC0E5"/>
<rect x="1" y="273" width="11" height="11" fill="#6B58EF"/>
<rect x="13" y="273" width="11" height="11" fill="#4500AD"/>
<rect x="25" y="273" width="11" height="11" fill="#FFC0E5"/>
<rect x="37" y="273" width="11" height="11" fill="#C7C1FF"/>
<rect x="49" y="273" width="11" height="11" fill="#FF5A5A"/>
<rect x="61" y="273" width="11" height="11" fill="#D5D5FF"/>
<rect x="73" y="273" width="11" height="11" fill="#FF8888"/>
<rect x="85" y="273" width="11" height="11" fill="#8888FF"/>
<rect x="97" y="273" width="11" height="11" fill="#D5D5FF"/>
<rect x="109" y="273" width="11" height="11" fill="#2700D1"/>
<rect x="121" y="273" width="11" height="11" fill="#FFC0E5"/>
<rect x="133" y="273" width="11" height="11" fill="#FFC0E5"/>
<rect x="145" y="273" width="11" height="11" fill="#4500AD"/>
<rect x="157" y="273" width="11" height="11" fill="#4500AD"/>
<rect x="169" y="273" width="11" height="11" fill="#C7C1FF"/>
<rect x="181" y="273" width="11" height="11" fill="#4500AD"/>
<rect x="193" y="273" width="11" height="11" fill="#6B58EF"/>
<rect x="205" y="273" width="11" height="11" fill="#2700D1"/>
<rect x="217" y="273" width="11" height="11" fill="#4500AD"/>
<rect x="229" y="273" width="11" height="11" fill="#C7C1FF"/>
<rect x="241" y="273" width="11" height="11" fill="#D5D5FF"/>
<rect x="253" y="273" width="11" height="11" fill="#FF5A5A"/>
<rect x="265" y="273" width="11" height="11" fill="#FFC0E5"/>
<rect x="277" y="273" width="11" height="11" fill="#8888FF"/>
<rect x="289" y="273" width="11" height="11" fill="#2700D1"/>
<rect x="301" y="273" width="11" height="11" fill="#6B58EF"/>
<rect x="313" y="273" width="11" height="11" fill="#2700D1"/>
<rect x="325" y="273" width="11" height="11" fill="#D60C00"/>
<rect x="337" y="273" width="11" height="11" fill="#4500AD"/>
<rect x="349" y="273" width="11" height="11" fill="#FFC0E5"/>
<rect x="361" y="273" width="11" height="11" fill="#FFC0E5"/>
<rect x="373" y="273" width="11" height="11" fill="#FFC0E5"/>
<rect x="385" y="273" width="11" height="11" fill="#2700D1"/>
<rect x="397" y="273" width="11" height="11" fill="#8888FF"/>
<rect x="409" y="273" width="11" height="11" fill="#FFC0E5"/>
<rect x="421" y="273" width="11" height="11" fill="#FFC0E5"/>
<rect x="433" y="273" width="11" height="11" fill="#D5D5FF"/>
<rect x="445" y="273" width="11" height="11" fill="#8888FF"/>
<rect x="457" y="273" width="11" height="11" fill="#2700D1"/>
<rect x="469" y="273" width="11" height="11" fill="#2700D1"/>
<rect x="481" y="273" width="11" height="11" fill="#C7C1FF"/>
<rect x="493" y="273" width="11" height="11" fill="#4500AD"/>
<rect x="505" y="273" width="11" height="11" fill="#FFC0E5"/>
<rect x="517" y="273" width="11" height="11" fill="#8888FF"/>
<rect x="529" y="273" width="11" height="11" fill="#FF8888"/>
<rect x="541" y="273" width="11" height="11" fill="#6B58EF"/>
<rect x="553" y="273" width="11" height="11" fill="#FF7080"/>
<rect x="565" y="273" width="11" height="11" fill="#FFC0E5"/>
<rect x="577" y="273" width="11" height="11" fill="#6B58EF"/>
<rect x="589" y="273" width="11" height="11" fill="#2700D1"/>
<rect x="1" y="285" width="11" height="11" fill="#C7C1FF"/>
<rect x="13" y="285" width="11" height="11" fill="#D60C00"/>
<rect x="25" y="285" width="11" height="11" fill="#6B58EF"/>
<rect x="37" y="285" width="11" height="11" fill="#2700D1"/>
<rect x="49" y="285" width="11" height="11" fill="#4500AD"/>
<rect x="61" y="285" width="11" height="11" fill="#D5D5FF"/>
<rect x="73" y="285" width="11" height="11" fill="#4500AD"/>
<rect x="85" y="285" width="11" height="11" fill="#6B58EF"/>
<rect x="97" y="285" width="11" height="11" fill="#2700D1"/>
<rect x="109" y="285" width="11" height="11" fill="#FF7080"/>
<rect x="121" y="285" width="11" height="11" fill="#EF4040"/>
<rect x="133" y="285" width="11" height="11" fill="#6B58EF"/>
<rect x="145" y="285" width="11" height="11" fill="#C7C1FF"/>
<rect x="157" y="285" width="11" height="11" fill="#FF8888"/>
<rect x="169" y="285" width="11" height="11" fill="#C7C1FF"/>
<rect x="181" y="285" width="11" height="11" fill="#FFC0E5"/>
<rect x="193" y="285" width="11" height="11" fill="#8888FF"/>
<rect x="205" y="285" width="11" height="11" fill="#8888FF"/>
<rect x="217" y="285" width="11" height="11" fill="#C7C1FF"/>
<rect x="229" y="285" width="11" height="11" fill="#C7C1FF"/>
<rect x="241" y="285" width="11" height="11" fill="#4500AD"/>
<rect x="253" y="285" width="11" height="11" fill="#D60C00"/>
<rect x="265" y="285" width="11" height="11" fill="#2700D1"/>
<rect x="277" y="285" width="11" height="11" fill="#8888FF"/>
<rect x="289" y="285" width="11" height="11" fill="#D60C00"/>
<rect x="301" y="285" width="11" height="11" fill="#4500AD"/>
<rect x="313" y="285" width="11" height="11" fill="#FFC0E5"/>
<rect x="325" y="285" width="11" height="11" fill="#2700D1"/>
<rect x="337" y="285" width="11" height="11" fill="#D60C00"/>
<rect x="349" y="285" width="11" height="11" fill="#FF8888"/>
<rect x="361" y="285" width="11" height="11" fill="#4500AD"/>
<rect x="373" y="285" width="11" height="11" fill="#C7C1FF"/>
<rect x="385" y="285" width="11" height="11" fill="#2700D1"/>
<rect x="397" y="285" width="11" height="11" fill="#FFC0E5"/>
<rect x="409" y="285" width="11" height="11" fill="#2700D1"/>
<rect x="421" y="285" width="11" height="11" fill="#2700D1"/>
<rect x="433" y="285" width="11" height="11" fill="#8888FF"/>
<rect x="445" y="285" width="11" height="11" fill="#FFC0E5"/>
<rect x="457" y="285" width="11" height="11" fill="#C7C1FF"/>
<rect x="469" y="285" width="11" height="11" fill="#FF5A5A"/>
<rect x="481" y="285" width="11" height="11" fill="#FF7080"/>
<rect x="493" y="285" width="11" height="11" fill="#FF8888"/>
<rect x="505" y="285" width="11" height="11" fill="#C7C1FF"/>
<rect x="517" y="285" width="11" height="11" fill="#2700D1"/>
<rect x="529" y="285" width="11" height="11" fill="#FFC0E5"/>
<rect x="541" y="285" width="11" height="11" fill="#FF7080"/>
<rect x="553" y="285" width="11" height="11" fill="#4500AD"/>
<rect x="565" y="285" width="11" height="11" fill="#6B58EF"/>
<rect x="577" y="285" width="11" height="11" fill="#2700D1"/>
<rect x="589" y="285" width="11" height="11" fill="#4500AD"/>
<rect x="1" y="297" width="11" height="11" fill="#FF7080"/>
<rect x="13" y="297" width="11" height="11" fill="#FF8888"/>
<rect x="25" y="297" width="11" height="11" fill="#FF8888"/>
<rect x="37" y="297" width="11" height="11" fill="#C7C1FF"/>
<rect x="49" y="297" width="11" height="11" fill="#8888FF"/>
<rect x="61" y="297" width="11" height="11" fill="#4500AD"/>
<rect x="73" y="297" width="11" height="11" fill="#4500AD"/>
<rect x="85" y="297" width="11" height="11" fill="#FFC0E5"/>
<rect x="97" y="297" width="11" height="11" fill="#FFC0E5"/>
<rect x="109" y="297" width="11" height="11" fill="#D5D5FF"/>
<rect x="121" y="297" width="11" height="11" fill="#FF8888"/>
<rect x="133" y="297" width="11" height="11" fill="#8888FF"/>
<rect x="145" y="297" width="11" height="11" fill="#C7C1FF"/>
<rect x="157" y="297" width="11" height="11" fill="#FFC0E5"/>
<rect x="169" y="297" width="11" height="11" fill="#FFC0E5"/>
<rect x="181" y="297" width="11" height="11" fill="#8888FF"/>
<rect x="193" y="297" width="11" height="11" fill="#2700D1"/>
<rect x="205" y="297" width="11" height="11" fill="#D5D5FF"/>
<rect x="217" y="297" width="11" height="11" fill="#4500AD"/>
<rect x="229" y="297" width="11" height="11" fill="#2700D1"/>
<rect x="241" y="297" width="11" height="11" fill="#FFC0E5"/>
<rect x="253" y="297" width="11" height="11" fill="#4500AD"/>
<rect x="265" y="297" width="11" height="11" fill="#8888FF"/>
<rect x="277" y="297" width="11" height="11" fill="#FF5A5A"/>
<rect x="289" y="297" width="11" height="11" fill="#FFC0E5"/>
<rect x="301" y="297" width="11" height="11" fill="#FF7080"/>
<rect x="313" y="297" width="11" height="11" fill="#C7C1FF"/>
<rect x="325" y="297" width="11" height="11" fill="#FFC0E5"/>
<rect x="337" y="297" width="11" height="11" fill="#FFC0E5"/>
<rect x="349" y="297" width="11" height="11" fill="#FF7080"/>
<rect x="361" y="297" width="11" height="11" fill="#2700D1"/>
<rect x="373" y="297" width="11" height="11" fill="#8888FF"/>
<rect x="385" y="297" width="11" height="11" fill="#D60C00"/>
<rect x="397" y="297" width="11" height="11" fill="#FFC0E5"/>
<rect x="409" y="297" width="11" height="11" fill="#4500AD"/>
<rect x="421" y="297" width="11" height="11" fill="#8888FF"/>
<rect x="433" y="297" width="11" height="11" fill="#D5D5FF"/>
<rect x="445" y="297" width="11" height="11" fill="#8888FF"/>
<rect x="457" y="297" width="11" height="11" fill="#D5D5FF"/>
<rect x="469" y="297" width="11" height="11" fill="#C7C1FF"/>
<rect x="481" y="297" width="11" height="11" fill="#4500AD"/>
<rect x="493" y="297" width="11" height="11" fill="#FFC0E5"/>
<rect x="505" y="297" width="11" height="11" fill="#FFC0E5"/>
<rect x="517" y="297" width="11" height="11" fill="#2700D1"/>
<rect x="529" y="297" width="11" height="11" fill="#D60C00"/>
<rect x="541" y="297" width="11" height="11" fill="#6B58EF"/>
<rect x="553" y="297" width="11" height="11" fill="#FF5A5A"/>
<rect x="565" y="297" width="11" height="11" fill="#6B58EF"/>
<rect x="577" y="297" width="11" height="11" fill="#8888FF"/>
<rect x="589" y="297" width="11" height="11" fill="#8888FF"/>
<rect x="1" y="309" width="11" height="11" fill="#FFC0E5"/>
<rect x="13" y="309" width="11" height="11" fill="#FFC0E5"/>
<rect x="25" y="309" width="11" height="11" fill="#FF7080"/>
<rect x="37" y="309" width="11" height="11" fill="#FF8888"/>
<rect x="49" y="309" width="11" height="11" fill="#C7C1FF"/>
<rect x="61" y="309" width="11" height="11" fill="#FF7080"/>
<rect x="73" y="309" width="11" height="11" fill="#FF8888"/>
<rect x="85" y="309" width="11" height="11" fill="#FFC0E5"/>
<rect x="97" y="309" width="11" height="11" fill="#FF8888"/>
<rect x="109" y="309" width="11" height="11" fill="#4500AD"/>
<rect x="121" y="309" width="11" height="11" fill="#C7C1FF"/>
<rect x="133" y="309" width="11" height="11" fill="#FF8888"/>
<rect x="145" y="309" width="11" height="11" fill="#C7C1FF"/>
<rect x="157" y="309" width="11" height="11" fill="#D5D5FF"/>
<rect x="169" y="309" width="11" height="11" fill="#FF8888"/>
<rect x="181" y="309" width="11" height="11" fill="#C7C1FF"/>
<rect x="193" y="309" width="11" height="11" fill="#C7C1FF"/>
<rect x="205" y="309" width="11" height="11" fill="#FF7080"/>
<rect x="217" y="309" width="11" height="11" fill="#8888FF"/>
<rect x="229" y="309" width="11" height="11" fill="#D5D5FF"/>
<rect x="241" y="309" width="11" height="11" fill="#C7C1FF"/>
<rect x="253" y="309" width="11" height="11" fill="#FFC0E5"/>
<rect x="265" y="309" width="11" height="11" fill="#FFC0E5"/>
<rect x="277" y="309" width="11" height="11" fill="#4500AD"/>
<rect x="289" y="309" width="11" height="11" fill="#8888FF"/>
<rect x="301" y="309" width="11" height="11" fill="#D5D5FF"/>
<rect x="313" y="309" width="11" height="11" fill="#FFC0E5"/>
<rect x="325" y="309" width="11" height="11" fill="#8888FF"/>
<rect x="337" y="309" width="11" height="11" fill="#6B58EF"/>
<rect x="349" y="309" width="11" height="11" fill="#C7C1FF"/>
<rect x="361" y="309" width="11" height="11" fill="#FFC0E5"/>
<rect x="373" y="309" width="11" height="11" fill="#FF8888"/>
<rect x="385" y="309" width="11" height="11" fill="#8888FF"/>
<rect x="397" y="309" width="11" height="11" fill="#4500AD"/>
<rect x="409" y="309" width="11" height="11" fill="#FF8888"/>
<rect x="421" y="309" width="11" height="11" fill="#2700D1"/>
<rect x="433" y="309" width="11" height="11" fill="#2700D1"/>
<rect x="445" y="309" width="11" height="11" fill="#FF7080"/>
<rect x="457" y="309" width="11" height="11" fill="#D5D5FF"/>
<rect x="469" y="309" width="11" height="11" fill="#D5D5FF"/>
<rect x="481" y="309" width="11" height="11" fill="#FFC0E5"/>
<rect x="493" y="309" width="11" height="11" fill="#D60C00"/>
<rect x="505" y="309" width="11" height="11" fill="#EF4040"/>
<rect x="517" y="309" width="11" height="11" fill="#D5D5FF"/>
<rect x="529" y="309" width="11" height="11" fill="#8888FF"/>
<rect x="541" y="309" width="11" height="11" fill="#8888FF"/>
<rect x="553" y="309" width="11" height="11" fill="#8888FF"/>
<rect x="565" y="309" width="11" height="11" fill="#4500AD"/>
<rect x="577" y="309" width="11" height="11" fill="#6B58EF"/>
<rect x="589" y="309" width="11" height="11" fill="#FFC0E5"/>
<rect x="1" y="321" width="11" height="11" fill="#4500AD"/>
<rect x="13" y="321" width="11" height="11" fill="#FFC0E5"/>
<rect x="25" y="321" width="11" height="11" fill="#4500AD"/>
<rect x="37" y="321" width="11" height="11" fill="#4500AD"/>
<rect x="49" y="321" width="11" height="11" fill="#4500AD"/>
<rect x="61" y="321" width="11" height="11" fill="#FF8888"/>
<rect x="73" y="321" width="11" height="11" fill="#4500AD"/>
<rect x="85" y="321" width="11" height="11" fill="#6B58EF"/>
<rect x="97" y="321" width="11" height="11" fill="#FFC0E5"/>
<rect x="109" y="321" width="11" height="11" fill="#4500AD"/>
<rect x="121" y="321" width="11" height="11" fill="#D60C00"/>
<rect x="133" y="321" width="11" height="11" fill="#4500AD"/>
<rect x="145" y="321" width="11" height="11" fill="#4500AD"/>
<rect x="157" y="321" width="11" height="11" fill="#4500AD"/>
<rect x="169" y="321" width="11" height="11" fill="#8888FF"/>
<rect x="181" y="321" width="11" height="11" fill="#4500AD"/>
<rect x="193" y="321" width="11" height="11" fill="#4500AD"/>
<rect x="205" y="321" width="11" height="11" fill="#4500AD"/>
<rect x="217" y="321" width="11" height="11" fill="#4500AD"/>
<rect x="229" y="321" width="11" height="11" fill="#4500AD"/>
<rect x="241" y="321" width="11" height="11" fill="#D5D5FF"/>
<rect x="253" y="321" width="11" height="11" fill="#C7C1FF"/>
<rect x="265" y="321" width="11" height="11" fill="#8888FF"/>
<rect x="277" y="321" width="11" height="11" fill="#FF7080"/>
<rect x="289" y="321" width="11" height="11" fill="#4500AD"/>
<rect x="301" y="321" width="11" height="11" fill="#C7C1FF"/>
<rect x="313" y="321" width="11" height="11" fill="#6B58EF"/>
<rect x="325" y="321" width="11" height="11" fill="#4500AD"/>
<rect x="337" y="321" width="11" height="11" fill="#4500AD"/>
<rect x="349" y="321" width="11" height="11" fill="#C7C1FF"/>
<rect x="361" y="321" width="11" height="11" fill="#4500AD"/>
<rect x="373" y="321" width="11" height="11" fill="#FFC0E5"/>
<rect x="385" y="321" width="11" height="11" fill="#FFC0E5"/>
<rect x="397" y="321" width="11" height="11" fill="#6B58EF"/>
<rect x="409" y="321" width="11" height="11" fill="#4500AD"/>
<rect x="421" y="321" width="11" height="11" fill="#4500AD"/>
<rect x="433" y="321" width="11" height="11" fill="#4500AD"/>
<rect x="445" y="321" width="11" height="11" fill="#4500AD"/>
<rect x="457" y="321" width="11" height="11" fill="#C7C1FF"/>
<rect x="469" y="321" width="11" height="11" fill="#4500AD"/>
<rect x="481" y="321" width="11" height="11" fill="#4500AD"/>
<rect x="493" y="321" width="11" height="11" fill="#4500AD"/>
<rect x="505" y="321" width="11" height="11" fill="#4500AD"/>
<rect x="517" y="321" width="11" height="11" fill="#2700D1"/>
<rect x="529" y="321" width="11" height="11" fill="#D60C00"/>
<rect x="541" y="321" width="11" height="11" fill="#4500AD"/>
<rect x="553" y="321" width="11" height="11" fill="#4500AD"/>
<rect x="565" y="321" width="11" height="11" fill="#4500AD"/>
<rect x="577" y="321" width="11" height="11" fill="#4500AD"/>
<rect x="589" y="321" width="11" height="11" fill="#FFC0E5"/>
<rect x="1" y="333" width="11" height="11" fill="#C7C1FF"/>
<rect x="13" y="333" width="11" height="11" fill="#FFC0E5"/>
<rect x="25" y="333" width="11" height="11" fill="#6B58EF"/>
<rect x="37" y="333" width="11" height="11" fill="#8888FF"/>
<rect x="49" y="333" width="11" height="11" fill="#4500AD"/>
<rect x="61" y="333" width="11" height="11" fill="#FFC0E5"/>
<rect x="73" y="333" width="11" height="11" fill="#FFC0E5"/>
<rect x="85" y="333" width="11" height="11" fill="#FFC0E5"/>
<rect x="97" y="333" width="11" height="11" fill="#6B58EF"/>
<rect x="109" y="333" width="11" height="11" fill="#4500AD"/>
<rect x="121" y="333" width="11" height="11" fill="#D60C00"/>
<rect x="133" y="333" width="11" height="11" fill="#2700D1"/>
<rect x="145" y="333" width="11" height="11" fill="#6B58EF"/>
<rect x="157" y="333" width="11" height="11" fill="#D5D5FF"/>
<rect x="169" y="333" width="11" height="11" fill="#8888FF"/>
<rect x="181" y="333" width="11" height="11" fill="#2700D1"/>
<rect x="193" y="333" width="11" height="11" fill="#C7C1FF"/>
<rect x="205" y="333" width="11" height="11" fill="#8888FF"/>
<rect x="217" y="333" width="11" height="11" fill="#6B58EF"/>
<rect x="229" y="333" width="11" height="11" fill="#6B58EF"/>
<rect x="241" y="333" width="11" height="11" fill="#FFC0E5"/>
<rect x="253" y="333" width="11" height="11" fill="#C7C1FF"/>
<rect x="265" y="333" width="11" height="11" fill="#FFC0E5"/>
<rect x="277" y="333" width="11" height="11" fill="#FFC0E5"/>
<rect x="289" y="333" width="11" height="11" fill="#8888FF"/>
<rect x="301" y="333" width="11" height="11" fill="#8888FF"/>
<rect x="313" y="333" width="11" height="11" fill="#6B58EF"/>
<rect x="325" y="333" width="11" height="11" fill="#FFC0E5"/>
<rect x="337" y="333" width="11" height="11" fill="#4500AD"/>
<rect x="349" y="333" width="11" height="11" fill="#8888FF"/>
<rect x="361" y="333" width="11" height="11" fill="#8888FF"/>
<rect x="373" y="333" width="11" height="11" fill="#FFC0E5"/>
<rect x="385" y="333" width="11" height="11" fill="#4500AD"/>
<rect x="397" y="333" width="11" height="11" fill="#FFC0E5"/>
<rect x="409" y="333" width="11" height="11" fill="#4500AD"/>
<rect x="421" y="333" width="11" height="11" fill="#6B58EF"/>
<rect x="433" y="333" width="11" height="11" fill="#C7C1FF"/>
<rect x="445" y="333" width="11" height="11" fill="#8888FF"/>
<rect x="457" y="333" width="11" height="11" fill="#FF7080"/>
<rect x="469" y="333" width="11" height="11" fill="#2700D1"/>
<rect x="481" y="333" width="11" height="11" fill="#6B58EF"/>
<rect x="493" y="333" width="11" height="11" fill="#6B58EF"/>
<rect x="505" y="333" width="11" height="11" fill="#6B58EF"/>
<rect x="517" y="333" width="11" height="11" fill="#2700D1"/>
<rect x="529" y="333" width="11" height="11" fill="#FFC0E5"/>
<rect x="541" y="333" width="11" height="11" fill="#6B58EF"/>
<rect x="553" y="333" width="11" height="11" fill="#D5D5FF"/>
<rect x="565" y="333" width="11" height="11" fill="#C7C1FF"/>
<rect x="577" y="333" width="11" height="11" fill="#FFC0E5"/>
<rect x="589" y="333" width="11" height="11" fill="#2700D1"/>
<rect x="1" y="345" width="11" height="11" fill="#6B58EF"/>
<rect x="13" y="345" width="11" height="11" fill="#EF4040"/>
<rect x="25" y="345" width="11" height="11" fill="#4500AD"/>
<rect x="37" y="345" width="11" height="11" fill="#C7C1FF"/>
<rect x="49" y="345" width="11" height="11" fill="#4500AD"/>
<rect x="61" y="345" width="11" height="11" fill="#C7C1FF"/>
<rect x="73" y="345" width="11" height="11" fill="#4500AD"/>
<rect x="85" y="345" width="11" height="11" fill="#FF5A5A"/>
<rect x="97" y="345" width="11" height="11" fill="#FFC0E5"/>
<rect x="109" y="345" width="11" height="11" fill="#6B58EF"/>
<rect x="121" y="345" width="11" height="11" fill="#D60C00"/>
<rect x="133" y="345" width="11" height="11" fill="#4500AD"/>
<rect x="145" y="345" width="11" height="11" fill="#4500AD"/>
<rect x="157" y="345" width="11" height="11" fill="#4500AD"/>
<rect x="169" y="345" width="11" height="11" fill="#6B58EF"/>
<rect x="181" y="345" width="11" height="11" fill="#2700D1"/>
<rect x="193" y="345" width="11" height="11" fill="#2700D1"/>
<rect x="205" y="345" width="11" height="11" fill="#FFC0E5"/>
<rect x="217" y="345" width="11" height="11" fill="#2700D1"/>
<rect x="229" y="345" width="11" height="11" fill="#8888FF"/>
<rect x="241" y="345" width="11" height="11" fill="#2700D1"/>
<rect x="253" y="345" width="11" height="11" fill="#2700D1"/>
<rect x="265" y="345" width="11" height="11" fill="#8888FF"/>
<rect x="277" y="345" width="11" height="11" fill="#2700D1"/>
<rect x="289" y="345" width="11" height="11" fill="#2700D1"/>
<rect x="301" y="345" width="11" height="11" fill="#8888FF"/>
<rect x="313" y="345" width="11" height="11" fill="#6B58EF"/>
<rect x="325" y="345" width="11" height="11" fill="#8888FF"/>
<rect x="337" y="345" width="11" height="11" fill="#6B58EF"/>
<rect x="349" y="345" width="11" height="11" fill="#8888FF"/>
<rect x="361" y="345" width="11" height="11" fill="#4500AD"/>
<rect x="373" y="345" width="11" height="11" fill="#8888FF"/>
<rect x="385" y="345" width="11" height="11" fill="#6B58EF"/>
<rect x="397" y="345" width="11" height="11" fill="#6B58EF"/>
<rect x="409" y="345" width="11" height="11" fill="#4500AD"/>
<rect x="421" y="345" width="11" height="11" fill="#2700D1"/>
<rect x="433" y="345" width="11" height="11" fill="#2700D1"/>
<rect x="445" y="345" width="11" height="11" fill="#8888FF"/>
<rect x="457" y="345" width="11" height="11" fill="#FF7080"/>
<rect x="469" y="345" width="11" height="11" fill="#4500AD"/>
<rect x="481" y="345" width="11" height="11" fill="#6B58EF"/>
<rect x="493" y="345" width="11" height="11" fill="#4500AD"/>
<rect x="505" y="345" width="11" height="11" fill="#FFC0E5"/>
<rect x="517" y="345" width="11" height="11" fill="#4500AD"/>
<rect x="529" y="345" width="11" height="11" fill="#FF7080"/>
<rect x="541" y="345" width="11" height="11" fill="#6B58EF"/>
<rect x="553" y="345" width="11" height="11" fill="#FF8888"/>
<rect x="565" y="345" width="11" height="11" fill="#8888FF"/>
<rect x="577" y="345" width="11" height="11" fill="#2700D1"/>
<rect x="589" y="345" width="11" height="11" fill="#4500AD"/>
<rect x="1" y="357" width="11" height="11" fill="#C7C1FF"/>
<rect x="13" y="357" width="11" height="11" fill="#FF7080"/>
<rect x="25" y="357" width="11" height="11" fill="#D60C00"/>
<rect x="37" y="357" width="11" height="11" fill="#FFC0E5"/>
<rect x="49" y="357" width="11" height="11" fill="#8888FF"/>
<rect x="61" y="357" width="11" height="11" fill="#FF8888"/>
<rect x="73" y="357" width="11" height="11" fill="#C7C1FF"/>
<rect x="85" y="357" width="11" height="11" fill="#FFC0E5"/>
<rect x="97" y="357" width="11" height="11" fill="#C7C1FF"/>
<rect x="109" y="357" width="11" height="11" fill="#FFC0E5"/>
<rect x="121" y="357" width="11" height="11" fill="#EF4040"/>
<rect x="133" y="357" width="11" height="11" fill="#FF7080"/>
<rect x="145" y="357" width="11" height="11" fill="#FF8888"/>
<rect x="157" y="357" width="11" height="11" fill="#6B58EF"/>
<rect x="169" y="357" width="11" height="11" fill="#D5D5FF"/>
<rect x="181" y="357" width="11" height="11" fill="#8888FF"/>
<rect x="193" y="357" width="11" height="11" fill="#C7C1FF"/>
<rect x="205" y="357" width="11" height="11" fill="#FFC0E5"/>
<rect x="217" y="357" width="11" height="11" fill="#4500AD"/>
<rect x="229" y="357" width="11" height="11" fill="#8888FF"/>
<rect x="241" y="357" width="11" height="11" fill="#FFC0E5"/>
<rect x="253" y="357" width="11" height="11" fill="#2700D1"/>
<rect x="265" y="357" width="11" height="11" fill="#D5D5FF"/>
<rect x="277" y="357" width="11" height="11" fill="#FF8888"/>
<rect x="289" y="357" width="11" height="11" fill="#6B58EF"/>
<rect x="301" y="357" width="11" height="11" fill="#FF8888"/>
<rect x="313" y="357" width="11" height="11" fill="#8888FF"/>
<rect x="325" y="357" width="11" height="11" fill="#FFC0E5"/>
<rect x="337" y="357" width="11" height="11" fill="#2700D1"/>
<rect x="349" y="357" width="11" height="11" fill="#8888FF"/>
<rect x="361" y="357" width="11" height="11" fill="#4500AD"/>
<rect x="373" y="357" width="11" height="11" fill="#2700D1"/>
<rect x="385" y="357" width="11" height="11" fill="#8888FF"/>
<rect x="397" y="357" width="11" height="11" fill="#D5D5FF"/>
<rect x="409" y="357" width="11" height="11" fill="#6B58EF"/>
<rect x="421" y="357" width="11" height="11" fill="#FF8888"/>
<rect x="433" y="357" width="11" height="11" fill="#8888FF"/>
<rect x="445" y="357" width="11" height="11" fill="#D5D5FF"/>
<rect x="457" y="357" width="11" height="11" fill="#D5D5FF"/>
<rect x="469" y="357" width="11" height="11" fill="#2700D1"/>
<rect x="481" y="357" width="11" height="11" fill="#8888FF"/>
<rect x="493" y="357" width="11" height="11" fill="#D60C00"/>
<rect x="505" y="357" width="11" height="11" fill="#6B58EF"/>
<rect x="517" y="357" width="11" height="11" fill="#8888FF"/>
<rect x="529" y="357" width="11" height="11" fill="#FF8888"/>
<rect x="541" y="357" width="11" height="11" fill="#2700D1"/>
<rect x="553" y="357" width="11" height="11" fill="#EF4040"/>
<rect x="565" y="357" width="11" height="11" fill="#4500AD"/>
<rect x="577" y="357" width="11" height="11" fill="#2700D1"/>
<rect x="589" y="357" width="11" height="11" fill="#FFC0E5"/>
<rect x="1" y="369" width="11" height="11" fill="#FFC0E5"/>
<rect x="13" y="369" width="11" height="11" fill="#FF7080"/>
<rect x="25" y="369" width="11" height="11" fill="#FF7080"/>
<rect x="37" y="369" width="11" height="11" fill="#6B58EF"/>
<rect x="49" y="369" width="11" height="11" fill="#4500AD"/>
<rect x="61" y="369" width="11" height="11" fill="#2700D1"/>
<rect x="73" y="369" width="11" height="11" fill="#C7C1FF"/>
<rect x="85" y="369" width="11" height="11" fill="#FFC0E5"/>
<rect x="97" y="369" width="11" height="11" fill="#6B58EF"/>
<rect x="109" y="369" width="11" height="11" fill="#8888FF"/>
<rect x="121" y="369" width="11" height="11" fill="#D60C00"/>
<rect x="133" y="369" width="11" height="11" fill="#C7C1FF"/>
<rect x="145" y="369" width="11" height="11" fill="#6B58EF"/>
<rect x="157" y="369" width="11" height="11" fill="#FFC0E5"/>
<rect x="169" y="369" width="11" height="11" fill="#C7C1FF"/>
<rect x="181" y="369" width="11" height="11" fill="#D5D5FF"/>
<rect x="193" y="369" width="11" height="11" fill="#2700D1"/>
<rect x="205" y="369" width="11" height="11" fill="#8888FF"/>
<rect x="217" y="369" width="11" height="11" fill="#FFC0E5"/>
<rect x="229" y="369" width="11" height="11" fill="#8888FF"/>
<rect x="241" y="369" width="11" height="11" fill="#FFC0E5"/>
<rect x="253" y="369" width="11" height="11" fill="#C7C1FF"/>
<rect x="265" y="369" width="11" height="11" fill="#4500AD"/>
<rect x="277" y="369" width="11" height="11" fill="#D5D5FF"/>
<rect x="289" y="369" width="11" height="11" fill="#FFC0E5"/>
<rect x="301" y="369" width="11" height="11" fill="#FFC0E5"/>
<rect x="313" y="369" width="11" height="11" fill="#C7C1FF"/>
<rect x="325" y="369" width="11" height="11" fill="#FF8888"/>
<rect x="337" y="369" width="11" height="11" fill="#6B58EF"/>
<rect x="349" y="369" width="11" height="11" fill="#C7C1FF"/>
<rect x="361" y="369" width="11" height="11" fill="#4500AD"/>
<rect x="373" y="369" width="11" height="11" fill="#FF8888"/>
<rect x="385" y="369" width="11" height="11" fill="#6B58EF"/>
<rect x="397" y="369" width="11" height="11" fill="#C7C1FF"/>
<rect x="409" y="369" width="11" height="11" fill="#6B58EF"/>
<rect x="421" y="369" width="11" height="11" fill="#FFC0E5"/>
<rect x="433" y="369" width="11" height="11" fill="#D5D5FF"/>
<rect x="445" y="369" width="11" height="11" fill="#2700D1"/>
<rect x="457" y="369" width="11" height="11" fill="#FFC0E5"/>
<rect x="469" y="369" width="11" height="11" fill="#2700D1"/>
<rect x="481" y="369" width="11" height="11" fill="#4500AD"/>
<rect x="493" y="369" width="11" height="11" fill="#FF7080"/>
<rect x="505" y="369" width="11" height="11" fill="#8888FF"/>
<rect x="517" y="369" width="11" height="11" fill="#6B58EF"/>
<rect x="529" y="369" width="11" height="11" fill="#FF7080"/>
<rect x="541" y="369" width="11" height="11" fill="#6B58EF"/>
<rect x="553" y="369" width="11" height="11" fill="#FFC0E5"/>
<rect x="565" y="369" width="11" height="11" fill="#8888FF"/>
<rect x="577" y="369" width="11" height="11" fill="#FFC0E5"/>
<rect x="589" y="369" width="11" height="11" fill="#FFC0E5"/>
<rect x="1" y="381" width="11" height="11" fill="#4500AD"/>
<rect x="13" y="381" width="11" height="11" fill="#D60C00"/>
<rect x="25" y="381" width="11" height="11" fill="#FF5A5A"/>
<rect x="37" y="381" width="11" height="11" fill="#4500AD"/>
<rect x="49" y="381" width="11" height="11" fill="#4500AD"/>
<rect x="61" y="381" width="11" height="11" fill="#FFC0E5"/>
<rect x="73" y="381" width="11" height="11" fill="#6B58EF"/>
<rect x="85" y="381" width="11" height="11" fill="#C7C1FF"/>
<rect x="97" y="381" width="11" height="11" fill="#2700D1"/>
<rect x="109" y="381" width="11" height="11" fill="#4500AD"/>
<rect x="121" y="381" width="11" height="11" fill="#FF7080"/>
<rect x="133" y="381" width="11" height="11" fill="#FF7080"/>
<rect x="145" y="381" width="11" height="11" fill="#4500AD"/>
<rect x="157" y="381" width="11" height="11" fill="#6B58EF"/>
<rect x="169" y="381" width="11" height="11" fill="#D5D5FF"/>
<rect x="181" y="381" width="11" height="11" fill="#4500AD"/>
<rect x="193" y="381" width="11" height="11" fill="#4500AD"/>
<rect x="205" y="381" width="11" height="11" fill="#8888FF"/>
<rect x="217" y="381" width="11" height="11" fill="#4500AD"/>
<rect x="229" y="381" width="11" height="11" fill="#4500AD"/>
<rect x="241" y="381" width="11" height="11" fill="#FFC0E5"/>
<rect x="253" y="381" width="11" height="11" fill="#2700D1"/>
<rect x="265" y="381" width="11" height="11" fill="#6B58EF"/>
<rect x="277" y="381" width="11" height="11" fill="#FF8888"/>
<rect x="289" y="381" width="11" height="11" fill="#4500AD"/>
<rect x="301" y="381" width="11" height="11" fill="#6B58EF"/>
<rect x="313" y="381" width="11" height="11" fill="#4500AD"/>
<rect x="325" y="381" width="11" height="11" fill="#4500AD"/>
<rect x="337" y="381" width="11" height="11" fill="#4500AD"/>
<rect x="349" y="381" width="11" height="11" fill="#6B58EF"/>
<rect x="361" y="381" width="11" height="11" fill="#4500AD"/>
<rect x="373" y="381" width="11" height="11" fill="#FFC0E5"/>
<rect x="385" y="381" width="11" height="11" fill="#2700D1"/>
<rect x="397" y="381" width="11" height="11" fill="#4500AD"/>
<rect x="409" y="381" width="11" height="11" fill="#4500AD"/>
<rect x="421" y="381" width="11" height="11" fill="#4500AD"/>
<rect x="433" y="381" width="11" height="11" fill="#8888FF"/>
<rect x="445" y="381" width="11" height="11" fill="#4500AD"/>
<rect x="457" y="381" width="11" height="11" fill="#FFC0E5"/>
<rect x="469" y="381" width="11" height="11" fill="#4500AD"/>
<rect x="481" y="381" width="11" height="11" fill="#2700D1"/>
<rect x="493" y="381" width="11" height="11" fill="#FFC0E5"/>
<rect x="505" y="381" width="11" height="11" fill="#2700D1"/>
<rect x="517" y="381" width="11" height="11" fill="#6B58EF"/>
<rect x="529" y="381" width="11" height="11" fill="#FF5A5A"/>
<rect x="541" y="381" width="11" height="11" fill="#4500AD"/>
<rect x="553" y="381" width="11" height="11" fill="#D60C00"/>
<rect x="565" y="381" width="11" height="11" fill="#4500AD"/>
<rect x="577" y="381" width="11" height="11" fill="#6B58EF"/>
<rect x="589" y="381" width="11" height="11" fill="#4500AD"/>
<rect x="1" y="393" width="11" height="11" fill="#FF7080"/>
<rect x="13" y="393" width="11" height="11" fill="#8888FF"/>
<rect x="25" y="393" width="11" height="11" fill="#4500AD"/>
<rect x="37" y="393" width="11" height="11" fill="#D5D5FF"/>
<rect x="49" y="393" width="11" height="11" fill="#6B58EF"/>
<rect x="61" y="393" width="11" height="11" fill="#FF7080"/>
<rect x="73" y="393" width="11" height="11" fill="#C7C1FF"/>
<rect x="85" y="393" width="11" height="11" fill="#4500AD"/>
<rect x="97" y="393" width="11" height="11" fill="#FF8888"/>
<rect x="109" y="393" width="11" height="11" fill="#C7C1FF"/>
<rect x="121" y="393" width="11" height="11" fill="#D60C00"/>
<rect x="133" y="393" width="11" height="11" fill="#4500AD"/>
<rect x="145" y="393" width="11" height="11" fill="#FF8888"/>
<rect x="157" y="393" width="11" height="11" fill="#D5D5FF"/>
<rect x="169" y="393" width="11" height="11" fill="#4500AD"/>
<rect x="181" y="393" width="11" height="11" fill="#FFC0E5"/>
<rect x="193" y="393" width="11" height="11" fill="#8888FF"/>
<rect x="205" y="393" width="11" height="11" fill="#FFC0E5"/>
<rect x="217" y="393" width="11" height="11" fill="#C7C1FF"/>
<rect x="229" y="393" width="11" height="11" fill="#D5D5FF"/>
<rect x="241" y="393" width="11" height="11" fill="#C7C1FF"/>
<rect x="253" y="393" width="11" height="11" fill="#2700D1"/>
<rect x="265" y="393" width="11" height="11" fill="#FF7080"/>
<rect x="277" y="393" width="11" height="11" fill="#8888FF"/>
<rect x="289" y="393" width="11" height="11" fill="#8888FF"/>
<rect x="301" y="393" width="11" height="11" fill="#2700D1"/>
<rect x="313" y="393" width="11" height="11" fill="#C7C1FF"/>
<rect x="325" y="393" width="11" height="11" fill="#2700D1"/>
<rect x="337" y="393" width="11" height="11" fill="#4500AD"/>
<rect x="349" y="393" width="11" height="11" fill="#FFC0E5"/>
<rect x="361" y="393" width="11" height="11" fill="#FFC0E5"/>
<rect x="373" y="393" width="11" height="11" fill="#FF8888"/>
<rect x="385" y="393" width="11" height="11" fill="#8888FF"/>
<rect x="397" y="393" width="11" height="11" fill="#2700D1"/>
<rect x="409" y="393" width="11" height="11" fill="#C7C1FF"/>
<rect x="421" y="393" width="11" height="11" fill="#FF8888"/>
<rect x="433" y="393" width="11" height="11" fill="#FF7080"/>
<rect x="445" y="393" width="11" height="11" fill="#FF8888"/>
<rect x="457" y="393" width="11" height="11" fill="#EF4040"/>
<rect x="469" y="393" width="11" height="11" fill="#FF8888"/>
<rect x="481" y="393" width="11" height="11" fill="#4500AD"/>
<rect x="493" y="393" width="11" height="11" fill="#C7C1FF"/>
<rect x="505" y="393" width="11" height="11" fill="#4500AD"/>
<rect x="517" y="393" width="11" height="11" fill="#2700D1"/>
<rect x="529" y="393" width="11" height="11" fill="#FFC0E5"/>
<rect x="541" y="393" width="11" height="11" fill="#2700D1"/>
<rect x="553" y="393" width="11" height="11" fill="#FFC0E5"/>
<rect x="565" y="393" width="11" height="11" fill="#4500AD"/>
<rect x="577" y="393" width="11" height="11" fill="#D5D5FF"/>
<rect x="589" y="393" width="11" height="11" fill="#4500AD"/>
<rect x="1" y="405" width="11" height="11" fill="#4500AD"/>
<rect x="13" y="405" width="11" height="11" fill="#FF7080"/>
<rect x="25" y="405" width="11" height="11" fill="#4500AD"/>
<rect x="37" y="405" width="11" height="11" fill="#4500AD"/>
<rect x="49" y="405" width="11" height="11" fill="#FF8888"/>
<rect x="61" y="405" width="11" height="11" fill="#4500AD"/>
<rect x="73" y="405" width="11" height="11" fill="#4500AD"/>
<rect x="85" y="405" width="11" height="11" fill="#EF4040"/>
<rect x="97" y="405" width="11" height="11" fill="#8888FF"/>
<rect x="109" y="405" width="11" height="11" fill="#FF8888"/>
<rect x="121" y="405" width="11" height="11" fill="#4500AD"/>
<rect x="133" y="405" width="11" height="11" fill="#4500AD"/>
<rect x="145" y="405" width="11" height="11" fill="#4500AD"/>
<rect x="157" y="405" width="11" height="11" fill="#4500AD"/>
<rect x="169" y="405" width="11" height="11" fill="#4500AD"/>
<rect x="181" y="405" width="11" height="11" fill="#4500AD"/>
<rect x="193" y="405" width="11" height="11" fill="#FF5A5A"/>
<rect x="205" y="405" width="11" height="11" fill="#4500AD"/>
<rect x="217" y="405" width="11" height="11" fill="#2700D1"/>
<rect x="229" y="405" width="11" height="11" fill="#4500AD"/>
<rect x="241" y="405" width="11" height="11" fill="#4500AD"/>
<rect x="253" y="405" width="11" height="11" fill="#2700D1"/>
<rect x="265" y="405" width="11" height="11" fill="#4500AD"/>
<rect x="277" y="405" width="11" height="11" fill="#D60C00"/>
<rect x="289" y="405" width="11" height="11" fill="#D5D5FF"/>
<rect x="301" y="405" width="11" height="11" fill="#FF7080"/>
<rect x="313" y="405" width="11" height="11" fill="#2700D1"/>
<rect x="325" y="405" width="11" height="11" fill="#4500AD"/>
<rect x="337" y="405" width="11" height="11" fill="#4500AD"/>
<rect x="349" y="405" width="11" height="11" fill="#FF5A5A"/>
<rect x="361" y="405" width="11" height="11" fill="#4500AD"/>
<rect x="373" y="405" width="11" height="11" fill="#4500AD"/>
<rect x="385" y="405" width="11" height="11" fill="#4500AD"/>
<rect x="397" y="405" width="11" height="11" fill="#FF5A5A"/>
<rect x="409" y="405" width="11" height="11" fill="#FFC0E5"/>
<rect x="421" y="405" width="11" height="11" fill="#2700D1"/>
<rect x="433" y="405" width="11" height="11" fill="#FFC0E5"/>
<rect x="445" y="405" width="11" height="11" fill="#4500AD"/>
<rect x="457" y="405" width="11" height="11" fill="#4500AD"/>
<rect x="469" y="405" width="11" height="11" fill="#4500AD"/>
<rect x="481" y="405" width="11" height="11" fill="#4500AD"/>
<rect x="493" y="405" width="11" height="11" fill="#4500AD"/>
<rect x="505" y="405" width="11" height="11" fill="#FF8888"/>
<rect x="517" y="405" width="11" height="11" fill="#4500AD"/>
<rect x="529" y="405" width="11" height="11" fill="#EF4040"/>
<rect x="541" y="405" width="11" height="11" fill="#2700D1"/>
<rect x="553" y="405" width="11" height="11" fill="#4500AD"/>
<rect x="565" y="405" width="11" height="11" fill="#FF8888"/>
<rect x="577" y="405" width="11" height="11" fill="#2700D1"/>
<rect x="589" y="405" width="11" height="11" fill="#C7C1FF"/>
<rect x="1" y="417" width="11" height="11" fill="#6B58EF"/>
<rect x="13" y="417" width="11" height="11" fill="#FF8888"/>
<rect x="25" y="417" width="11" height="11" fill="#FF8888"/>
<rect x="37" y="417" width="11" height="11" fill="#FFC0E5"/>
<rect x="49" y="417" width="11" height="11" fill="#C7C1FF"/>
<rect x="61" y="417" width="11" height="11" fill="#FFC0E5"/>
<rect x="73" y="417" width="11" height="11" fill="#6B58EF"/>
<rect x="85" y="417" width="11" height="11" fill="#C7C1FF"/>
<rect x="97" y="417" width="11" height="11" fill="#8888FF"/>
<rect x="109" y="417" width="11" height="11" fill="#4500AD"/>
<rect x="121" y="417" width="11" height="11" fill="#D60C00"/>
<rect x="133" y="417" width="11" height="11" fill="#D5D5FF"/>
<rect x="145" y="417" width="11" height="11" fill="#FFC0E5"/>
<rect x="157" y="417" width="11" height="11" fill="#8888FF"/>
<rect x="169" y="417" width="11" height="11" fill="#D5D5FF"/>
<rect x="181" y="417" width="11" height="11" fill="#FFC0E5"/>
<rect x="193" y="417" width="11" height="11" fill="#6B58EF"/>
<rect x="205" y="417" width="11" height="11" fill="#D5D5FF"/>
<rect x="217" y="417" width="11" height="11" fill="#C7C1FF"/>
<rect x="229" y="417" width="11" height="11" fill="#4500AD"/>
<rect x="241" y="417" width="11" height="11" fill="#FFC0E5"/>
<rect x="253" y="417" width="11" height="11" fill="#6B58EF"/>
<rect x="265" y="417" width="11" height="11" fill="#FFC0E5"/>
<rect x="277" y="417" width="11" height="11" fill="#8888FF"/>
<rect x="289" y="417" width="11" height="11" fill="#8888FF"/>
<rect x="301" y="417" width="11" height="11" fill="#8888FF"/>
<rect x="313" y="417" width="11" height="11" fill="#6B58EF"/>
<rect x="325" y="417" width="11" height="11" fill="#C7C1FF"/>
<rect x="337" y="417" width="11" height="11" fill="#2700D1"/>
<rect x="349" y="417" width="11" height="11" fill="#C7C1FF"/>
<rect x="361" y="417" width="11" height="11" fill="#FF8888"/>
<rect x="373" y="417" width="11" height="11" fill="#8888FF"/>
<rect x="385" y="417" width="11" height="11" fill="#6B58EF"/>
<rect x="397" y="417" width="11" height="11" fill="#C7C1FF"/>
<rect x="409" y="417" width="11" height="11" fill="#D5D5FF"/>
<rect x="421" y="417" width="11" height="11" fill="#8888FF"/>
<rect x="433" y="417" width="11" height="11" fill="#6B58EF"/>
<rect x="445" y="417" width="11" height="11" fill="#D5D5FF"/>
<rect x="457" y="417" width="11" height="11" fill="#EF4040"/>
<rect x="469" y="417" width="11" height="11" fill="#2700D1"/>
<rect x="481" y="417" width="11" height="11" fill="#6B58EF"/>
<rect x="493" y="417" width="11" height="11" fill="#FF8888"/>
<rect x="505" y="417" width="11" height="11" fill="#FFC0E5"/>
<rect x="517" y="417" width="11" height="11" fill="#4500AD"/>
<rect x="529" y="417" width="11" height="11" fill="#FFC0E5"/>
<rect x="541" y="417" width="11" height="11" fill="#6B58EF"/>
<rect x="553" y="417" width="11" height="11" fill="#FF7080"/>
<rect x="565" y="417" width="11" height="11" fill="#2700D1"/>
<rect x="577" y="417" width="11" height="11" fill="#D5D5FF"/>
<rect x="589" y="417" width="11" height="11" fill="#C7C1FF"/>
<rect x="1" y="429" width="11" height="11" fill="#FFC0E5"/>
<rect x="13" y="429" width="11" height="11" fill="#FF8888"/>
<rect x="25" y="429" width="11" height="11" fill="#8888FF"/>
<rect x="37" y="429" width="11" height="11" fill="#C7C1FF"/>
<rect x="49" y="429" width="11" height="11" fill="#4500AD"/>
<rect x="61" y="429" width="11" height="11" fill="#4500AD"/>
<rect x="73" y="429" width="11" height="11" fill="#4500AD"/>
<rect x="85" y="429" width="11" height="11" fill="#2700D1"/>
<rect x="97" y="429" width="11" height="11" fill="#FFC0E5"/>
<rect x="109" y="429" width="11" height="11" fill="#4500AD"/>
<rect x="121" y="429" width="11" height="11" fill="#FF7080"/>
<rect x="133" y="429" width="11" height="11" fill="#FFC0E5"/>
<rect x="145" y="429" width="11" height="11" fill="#4500AD"/>
<rect x="157" y="429" width="11" height="11" fill="#FFC0E5"/>
<rect x="169" y="429" width="11" height="11" fill="#FF8888"/>
<rect x="181" y="429" width="11" height="11" fill="#D5D5FF"/>
<rect x="193" y="429" width="11" height="11" fill="#4500AD"/>
<rect x="205" y="429" width="11" height="11" fill="#2700D1"/>
<rect x="217" y="429" width="11" height="11" fill="#4500AD"/>
<rect x="229" y="429" width="11" height="11" fill="#4500AD"/>
<rect x="241" y="429" width="11" height="11" fill="#FFC0E5"/>
<rect x="253" y="429" width="11" height="11" fill="#FFC0E5"/>
<rect x="265" y="429" width="11" height="11" fill="#2700D1"/>
<rect x="277" y="429" width="11" height="11" fill="#FF5A5A"/>
<rect x="289" y="429" width="11" height="11" fill="#4500AD"/>
<rect x="301" y="429" width="11" height="11" fill="#D5D5FF"/>
<rect x="313" y="429" width="11" height="11" fill="#2700D1"/>
<rect x="325" y="429" width="11" height="11" fill="#FFC0E5"/>
<rect x="337" y="429" width="11" height="11" fill="#4500AD"/>
<rect x="349" y="429" width="11" height="11" fill="#2700D1"/>
<rect x="361" y="429" width="11" height="11" fill="#4500AD"/>
<rect x="373" y="429" width="11" height="11" fill="#FF8888"/>
<rect x="385" y="429" width="11" height="11" fill="#FF8888"/>
<rect x="397" y="429" width="11" height="11" fill="#FFC0E5"/>
<rect x="409" y="429" width="11" height="11" fill="#4500AD"/>
<rect x="421" y="429" width="11" height="11" fill="#4500AD"/>
<rect x="433" y="429" width="11" height="11" fill="#2700D1"/>
<rect x="445" y="429" width="11" height="11" fill="#6B58EF"/>
<rect x="457" y="429" width="11" height="11" fill="#8888FF"/>
<rect x="469" y="429" width="11" height="11" fill="#C7C1FF"/>
<rect x="481" y="429" width="11" height="11" fill="#2700D1"/>
<rect x="493" y="429" width="11" height="11" fill="#8888FF"/>
<rect x="505" y="429" width="11" height="11" fill="#8888FF"/>
<rect x="517" y="429" width="11" height="11" fill="#FFC0E5"/>
<rect x="529" y="429" width="11" height="11" fill="#D60C00"/>
<rect x="541" y="429" width="11" height="11" fill="#4500AD"/>
<rect x="553" y="429" width="11" height="11" fill="#FFC0E5"/>
<rect x="565" y="429" width="11" height="11" fill="#D5D5FF"/>
<rect x="577" y="429" width="11" height="11" fill="#FF8888"/>
<rect x="589" y="429" width="11" height="11" fill="#4500AD"/>
<rect x="1" y="441" width="11" height="11" fill="#4500AD"/>
<rect x="13" y="441" width="11" height="11" fill="#D60C00"/>
<rect x="25" y="441" width="11" height="11" fill="#2700D1"/>
<rect x="37" y="441" width="11" height="11" fill="#4500AD"/>
<rect x="49" y="441" width="11" height="11" fill="#4500AD"/>
<rect x="61" y="441" width="11" height="11" fill="#FFC0E5"/>
<rect x="73" y="441" width="11" height="11" fill="#6B58EF"/>
<rect x="85" y="441" width="11" height="11" fill="#2700D1"/>
<rect x="97" y="441" width="11" height="11" fill="#4500AD"/>
<rect x="109" y="441" width="11" height="11" fill="#4500AD"/>
<rect x="121" y="441" width="11" height="11" fill="#FF5A5A"/>
<rect x="133" y="441" width="11" height="11" fill="#4500AD"/>
<rect x="145" y="441" width="11" height="11" fill="#4500AD"/>
<rect x="157" y="441" width="11" height="11" fill="#FFC0E5"/>
<rect x="169" y="441" width="11" height="11" fill="#2700D1"/>
<rect x="181" y="441" width="11" height="11" fill="#6B58EF"/>
<rect x="193" y="441" width="11" height="11" fill="#4500AD"/>
<rect x="205" y="441" width="11" height="11" fill="#4500AD"/>
<rect x="217" y="441" width="11" height="11" fill="#4500AD"/>
<rect x="229" y="441" width="11" height="11" fill="#2700D1"/>
<rect x="241" y="441" width="11" height="11" fill="#6B58EF"/>
<rect x="253" y="441" width="11" height="11" fill="#4500AD"/>
<rect x="265" y="441" width="11" height="11" fill="#8888FF"/>
<rect x="277" y="441" width="11" height="11" fill="#FFC0E5"/>
<rect x="289" y="441" width="11" height="11" fill="#2700D1"/>
<rect x="301" y="441" width="11" height="11" fill="#6B58EF"/>
<rect x="313" y="441" width="11" height="11" fill="#2700D1"/>
<rect x="325" y="441" width="11" height="11" fill="#6B58EF"/>
<rect x="337" y="441" width="11" height="11" fill="#2700D1"/>
<rect x="349" y="441" width="11" height="11" fill="#FFC0E5"/>
<rect x="361" y="441" width="11" height="11" fill="#4500AD"/>
<rect x="373" y="441" width="11" height="11" fill="#FFC0E5"/>
<rect x="385" y="441" width="11" height="11" fill="#2700D1"/>
<rect x="397" y="441" width="11" height="11" fill="#C7C1FF"/>
<rect x="409" y="441" width="11" height="11" fill="#4500AD"/>
<rect x="421" y="441" width="11" height="11" fill="#2700D1"/>
<rect x="433" y="441" width="11" height="11" fill="#4500AD"/>
<rect x="445" y="441" width="11" height="11" fill="#4500AD"/>
<rect x="457" y="441" width="11" height="11" fill="#FF7080"/>
<rect x="469" y="441" width="11" height="11" fill="#6B58EF"/>
<rect x="481" y="441" width="11" height="11" fill="#4500AD"/>
<rect x="493" y="441" width="11" height="11" fill="#6B58EF"/>
<rect x="505" y="441" width="11" height="11" fill="#4500AD"/>
<rect x="517" y="441" width="11" height="11" fill="#4500AD"/>
<rect x="529" y="441" width="11" height="11" fill="#D60C00"/>
<rect x="541" y="441" width="11" height="11" fill="#4500AD"/>
<rect x="553" y="441" width="11" height="11" fill="#C7C1FF"/>
<rect x="565" y="441" width="11" height="11" fill="#4500AD"/>
<rect x="577" y="441" width="11" height="11" fill="#4500AD"/>
<rect x="589" y="441" width="11" height="11" fill="#6B58EF"/>
<rect x="1" y="453" width="11" height="11" fill="#FF7080"/>
<rect x="13" y="453" width="11" height="11" fill="#FF7080"/>
<rect x="25" y="453" width="11" height="11" fill="#EF4040"/>
<rect x="37" y="453" width="11" height="11" fill="#8888FF"/>
<rect x="49" y="453" width="11" height="11" fill="#4500AD"/>
<rect x="61" y="453" width="11" height="11" fill="#D60C00"/>
<rect x="73" y="453" width="11" height="11" fill="#8888FF"/>
<rect x="85" y="453" width="11" height="11" fill="#FFC0E5"/>
<rect x="97" y="453" width="11" height="11" fill="#8888FF"/>
<rect x="109" y="453" width="11" height="11" fill="#6B58EF"/>
<rect x="121" y="453" width="11" height="11" fill="#FF7080"/>
<rect x="133" y="453" width="11" height="11" fill="#4500AD"/>
<rect x="145" y="453" width="11" height="11" fill="#D5D5FF"/>
<rect x="157" y="453" width="11" height="11" fill="#FF8888"/>
<rect x="169" y="453" width="11" height="11" fill="#FF8888"/>
<rect x="181" y="453" width="11" height="11" fill="#FFC0E5"/>
<rect x="193" y="453" width="11" height="11" fill="#2700D1"/>
<rect x="205" y="453" width="11" height="11" fill="#4500AD"/>
<rect x="217" y="453" width="11" height="11" fill="#4500AD"/>
<rect x="229" y="453" width="11" height="11" fill="#2700D1"/>
<rect x="241" y="453" width="11" height="11" fill="#C7C1FF"/>
<rect x="253" y="453" width="11" height="11" fill="#C7C1FF"/>
<rect x="265" y="453" width="11" height="11" fill="#2700D1"/>
<rect x="277" y="453" width="11" height="11" fill="#FFC0E5"/>
<rect x="289" y="453" width="11" height="11" fill="#8888FF"/>
<rect x="301" y="453" width="11" height="11" fill="#D60C00"/>
<rect x="313" y="453" width="11" height="11" fill="#C7C1FF"/>
<rect x="325" y="453" width="11" height="11" fill="#FF5A5A"/>
<rect x="337" y="453" width="11" height="11" fill="#8888FF"/>
<rect x="349" y="453" width="11" height="11" fill="#FFC0E5"/>
<rect x="361" y="453" width="11" height="11" fill="#2700D1"/>
<rect x="373" y="453" width="11" height="11" fill="#8888FF"/>
<rect x="385" y="453" width="11" height="11" fill="#D5D5FF"/>
<rect x="397" y="453" width="11" height="11" fill="#C7C1FF"/>
<rect x="409" y="453" width="11" height="11" fill="#2700D1"/>
<rect x="421" y="453" width="11" height="11" fill="#FF8888"/>
<rect x="433" y="453" width="11" height="11" fill="#FF8888"/>
<rect x="445" y="453" width="11" height="11" fill="#8888FF"/>
<rect x="457" y="453" width="11" height="11" fill="#FF8888"/>
<rect x="469" y="453" width="11" height="11" fill="#C7C1FF"/>
<rect x="481" y="453" width="11" height="11" fill="#4500AD"/>
<rect x="493" y="453" width="11" height="11" fill="#FF5A5A"/>
<rect x="505" y="453" width="11" height="11" fill="#C7C1FF"/>
<rect x="517" y="453" width="11" height="11" fill="#4500AD"/>
<rect x="529" y="453" width="11" height="11" fill="#EF4040"/>
<rect x="541" y="453" width="11" height="11" fill="#6B58EF"/>
<rect x="553" y="453" width="11" height="11" fill="#D60C00"/>
<rect x="565" y="453" width="11" height="11" fill="#8888FF"/>
<rect x="577" y="453" width="11" height="11" fill="#8888FF"/>
<rect x="589" y="453" width="11" height="11" fill="#FF8888"/>
<rect x="1" y="465" width="11" height="11" fill="#EF4040"/>
<rect x="13" y="465" width="11" height="11" fill="#C7C1FF"/>
<rect x="25" y="465" width="11" height="11" fill="#4500AD"/>
<rect x="37" y="465" width="11" height="11" fill="#6B58EF"/>
<rect x="49" y="465" width="11" height="11" fill="#2700D1"/>
<rect x="61" y="465" width="11" height="11" fill="#C7C1FF"/>
<rect x="73" y="465" width="11" height="11" fill="#2700D1"/>
<rect x="85" y="465" width="11" height="11" fill="#FF7080"/>
<rect x="97" y="465" width="11" height="11" fill="#FF8888"/>
<rect x="109" y="465" width="11" height="11" fill="#FF7080"/>
<rect x="121" y="465" width="11" height="11" fill="#6B58EF"/>
<rect x="133" y="465" width="11" height="11" fill="#4500AD"/>
<rect x="145" y="465" width="11" height="11" fill="#8888FF"/>
<rect x="157" y="465" width="11" height="11" fill="#6B58EF"/>
<rect x="169" y="465" width="11" height="11" fill="#FF5A5A"/>
<rect x="181" y="465" width="11" height="11" fill="#D5D5FF"/>
<rect x="193" y="465" width="11" height="11" fill="#6B58EF"/>
<rect x="205" y="465" width="11" height="11" fill="#FF8888"/>
<rect x="217" y="465" width="11" height="11" fill="#C7C1FF"/>
<rect x="229" y="465" width="11" height="11" fill="#FFC0E5"/>
<rect x="241" y="465" width="11" height="11" fill="#FFC0E5"/>
<rect x="253" y="465" width="11" height="11" fill="#FFC0E5"/>
<rect x="265" y="465" width="11" height="11" fill="#8888FF"/>
<rect x="277" y="465" width="11" height="11" fill="#FF8888"/>
<rect x="289" y="465" width="11" height="11" fill="#EF4040"/>
<rect x="301" y="465" width="11" height="11" fill="#C7C1FF"/>
<rect x="313" y="465" width="11" height="11" fill="#8888FF"/>
<rect x="325" y="465" width="11" height="11" fill="#FF8888"/>
<rect x="337" y="465" width="11" height="11" fill="#FF7080"/>
<rect x="349" y="465" width="11" height="11" fill="#D60C00"/>
<rect x="361" y="465" width="11" height="11" fill="#6B58EF"/>
<rect x="373" y="465" width="11" height="11" fill="#8888FF"/>
<rect x="385" y="465" width="11" height="11" fill="#FFC0E5"/>
<rect x="397" y="465" width="11" height="11" fill="#FFC0E5"/>
<rect x="409" y="465" width="11" height="11" fill="#D5D5FF"/>
<rect x="421" y="465" width="11" height="11" fill="#D5D5FF"/>
<rect x="433" y="465" width="11" height="11" fill="#FFC0E5"/>
<rect x="445" y="465" width="11" height="11" fill="#2700D1"/>
<rect x="457" y="465" width="11" height="11" fill="#8888FF"/>
<rect x="469" y="465" width="11" height="11" fill="#FFC0E5"/>
<rect x="481" y="465" width="11" height="11" fill="#C7C1FF"/>
<rect x="493" y="465" width="11" height="11" fill="#4500AD"/>
<rect x="505" y="465" width="11" height="11" fill="#D5D5FF"/>
<rect x="517" y="465" width="11" height="11" fill="#FF5A5A"/>
<rect x="529" y="465" width="11" height="11" fill="#FF8888"/>
<rect x="541" y="465" width="11" height="11" fill="#FF5A5A"/>
<rect x="553" y="465" width="11" height="11" fill="#C7C1FF"/>
<rect x="565" y="465" width="11" height="11" fill="#FF8888"/>
<rect x="577" y="465" width="11" height="11" fill="#EF4040"/>
<rect x="589" y="465" width="11" height="11" fill="#D5D5FF"/>
<rect x="1" y="477" width="11" height="11" fill="#2700D1"/>
<rect x="13" y="477" width="11" height="11" fill="#FF5A5A"/>
<rect x="25" y="477" width="11" height="11" fill="#4500AD"/>
<rect x="37" y="477" width="11" height="11" fill="#2700D1"/>
<rect x="49" y="477" width="11" height="11" fill="#2700D1"/>
<rect x="61" y="477" width="11" height="11" fill="#FFC0E5"/>
<rect x="73" y="477" width="11" height="11" fill="#4500AD"/>
<rect x="85" y="477" width="11" height="11" fill="#6B58EF"/>
<rect x="97" y="477" width="11" height="11" fill="#8888FF"/>
<rect x="109" y="477" width="11" height="11" fill="#6B58EF"/>
<rect x="121" y="477" width="11" height="11" fill="#D60C00"/>
<rect x="133" y="477" width="11" height="11" fill="#8888FF"/>
<rect x="145" y="477" width="11" height="11" fill="#8888FF"/>
<rect x="157" y="477" width="11" height="11" fill="#FF8888"/>
<rect x="169" y="477" width="11" height="11" fill="#2700D1"/>
<rect x="181" y="477" width="11" height="11" fill="#FF7080"/>
<rect x="193" y="477" width="11" height="11" fill="#4500AD"/>
<rect x="205" y="477" width="11" height="11" fill="#FFC0E5"/>
<rect x="217" y="477" width="11" height="11" fill="#4500AD"/>
<rect x="229" y="477" width="11" height="11" fill="#6B58EF"/>
<rect x="241" y="477" width="11" height="11" fill="#2700D1"/>
<rect x="253" y="477" width="11" height="11" fill="#4500AD"/>
<rect x="265" y="477" width="11" height="11" fill="#2700D1"/>
<rect x="277" y="477" width="11" height="11" fill="#FFC0E5"/>
<rect x="289" y="477" width="11" height="11" fill="#4500AD"/>
<rect x="301" y="477" width="11" height="11" fill="#D5D5FF"/>
<rect x="313" y="477" width="11" height="11" fill="#C7C1FF"/>
<rect x="325" y="477" width="11" height="11" fill="#2700D1"/>
<rect x="337" y="477" width="11" height="11" fill="#4500AD"/>
<rect x="349" y="477" width="11" height="11" fill="#8888FF"/>
<rect x="361" y="477" width="11" height="11" fill="#4500AD"/>
<rect x="373" y="477" width="11" height="11" fill="#8888FF"/>
<rect x="385" y="477" width="11" height="11" fill="#2700D1"/>
<rect x="397" y="477" width="11" height="11" fill="#2700D1"/>
<rect x="409" y="477" width="11" height="11" fill="#6B58EF"/>
<rect x="421" y="477" width="11" height="11" fill="#4500AD"/>
<rect x="433" y="477" width="11" height="11" fill="#8888FF"/>
<rect x="445" y="477" width="11" height="11" fill="#D5D5FF"/>
<rect x="457" y="477" width="11" height="11" fill="#FF7080"/>
<rect x="469" y="477" width="11" height="11" fill="#FFC0E5"/>
<rect x="481" y="477" width="11" height="11" fill="#4500AD"/>
<rect x="493" y="477" width="11" height="11" fill="#6B58EF"/>
<rect x="505" y="477" width="11" height="11" fill="#2700D1"/>
<rect x="517" y="477" width="11" height="11" fill="#6B58EF"/>
<rect x="529" y="477" width="11" height="11" fill="#EF4040"/>
<rect x="541" y="477" width="11" height="11" fill="#FFC0E5"/>
<rect x="553" y="477" width="11" height="11" fill="#8888FF"/>
<rect x="565" y="477" width="11" height="11" fill="#FF8888"/>
<rect x="577" y="477" width="11" height="11" fill="#6B58EF"/>
<rect x="589" y="477" width="11" height="11" fill="#8888FF"/>
<rect x="1" y="489" width="11" height="11" fill="#4500AD"/>
<rect x="13" y="489" width="11" height="11" fill="#6B58EF"/>
<rect x="25" y="489" width="11" height="11" fill="#2700D1"/>
<rect x="37" y="489" width="11" height="11" fill="#FFC0E5"/>
<rect x="49" y="489" width="11" height="11" fill="#2700D1"/>
<rect x="61" y="489" width="11" height="11" fill="#6B58EF"/>
<rect x="73" y="489" width="11" height="11" fill="#4500AD"/>
<rect x="85" y="489" width="11" height="11" fill="#FFC0E5"/>
<rect x="97" y="489" width="11" height="11" fill="#2700D1"/>
<rect x="109" y="489" width="11" height="11" fill="#2700D1"/>
<rect x="121" y="489" width="11" height="11" fill="#2700D1"/>
<rect x="133" y="489" width="11" height="11" fill="#2700D1"/>
<rect x="145" y="489" width="11" height="11" fill="#4500AD"/>
<rect x="157" y="489" width="11" height="11" fill="#D60C00"/>
<rect x="169" y="489" width="11" height="11" fill="#2700D1"/>
<rect x="181" y="489" width="11" height="11" fill="#4500AD"/>
<rect x="193" y="489" width="11" height="11" fill="#4500AD"/>
<rect x="205" y="489" width="11" height="11" fill="#2700D1"/>
<rect x="217" y="489" width="11" height="11" fill="#4500AD"/>
<rect x="229" y="489" width="11" height="11" fill="#D5D5FF"/>
<rect x="241" y="489" width="11" height="11" fill="#6B58EF"/>
<rect x="253" y="489" width="11" height="11" fill="#8888FF"/>
<rect x="265" y="489" width="11" height="11" fill="#4500AD"/>
<rect x="277" y="489" width="11" height="11" fill="#4500AD"/>
<rect x="289" y="489" width="11" height="11" fill="#C7C1FF"/>
<rect x="301" y="489" width="11" height="11" fill="#FFC0E5"/>
<rect x="313" y="489" width="11" height="11" fill="#FFC0E5"/>
<rect x="325" y="489" width="11" height="11" fill="#2700D1"/>
<rect x="337" y="489" width="11" height="11" fill="#6B58EF"/>
<rect x="349" y="489" width="11" height="11" fill="#C7C1FF"/>
<rect x="361" y="489" width="11" height="11" fill="#4500AD"/>
<rect x="373" y="489" width="11" height="11" fill="#6B58EF"/>
<rect x="385" y="489" width="11" height="11" fill="#2700D1"/>
<rect x="397" y="489" width="11" height="11" fill="#C7C1FF"/>
<rect x="409" y="489" width="11" height="11" fill="#4500AD"/>
<rect x="421" y="489" width="11" height="11" fill="#2700D1"/>
<rect x="433" y="489" width="11" height="11" fill="#6B58EF"/>
<rect x="445" y="489" width="11" height="11" fill="#D5D5FF"/>
<rect x="457" y="489" width="11" height="11" fill="#8888FF"/>
<rect x="469" y="489" width="11" height="11" fill="#FFC0E5"/>
<rect x="481" y="489" width="11" height="11" fill="#4500AD"/>
<rect x="493" y="489" width="11" height="11" fill="#FFC0E5"/>
<rect x="505" y="489" width="11" height="11" fill="#6B58EF"/>
<rect x="517" y="489" width="11" height="11" fill="#6B58EF"/>
<rect x="529" y="489" width="11" height="11" fill="#FFC0E5"/>
<rect x="541" y="489" width="11" height="11" fill="#2700D1"/>
<rect x="553" y="489" width="11" height="11" fill="#FF7080"/>
<rect x="565" y="489" width="11" height="11" fill="#FFC0E5"/>
<rect x="577" y="489" width="11" height="11" fill="#6B58EF"/>
<rect x="589" y="489" width="11" height="11" fill="#FFC0E5"/>
<rect x="1" y="501" width="11" height="11" fill="#8888FF"/>
<rect x="13" y="501" width="11" height="11" fill="#FF5A5A"/>
<rect x="25" y="501" width="11" height="11" fill="#C7C1FF"/>
<rect x="37" y="501" width="11" height="11" fill="#D5D5FF"/>
<rect x="49" y="501" width="11" height="11" fill="#FFC0E5"/>
<rect x="61" y="501" width="11" height="11" fill="#2700D1"/>
<rect x="73" y="501" width="11" height="11" fill="#FFC0E5"/>
<rect x="85" y="501" width="11" height="11" fill="#8888FF"/>
<rect x="97" y="501" width="11" height="11" fill="#C7C1FF"/>
<rect x="109" y="501" width="11" height="11" fill="#4500AD"/>
<rect x="121" y="501" width="11" height="11" fill="#D60C00"/>
<rect x="133" y="501" width="11" height="11" fill="#2700D1"/>
<rect x="145" y="501" width="11" height="11" fill="#FFC0E5"/>
<rect x="157" y="501" width="11" height="11" fill="#8888FF"/>
<rect x="169" y="501" width="11" height="11" fill="#6B58EF"/>
<rect x="181" y="501" width="11" height="11" fill="#6B58EF"/>
<rect x="193" y="501" width="11" height="11" fill="#FF5A5A"/>
<rect x="205" y="501" width="11" height="11" fill="#FF5A5A"/>
<rect x="217" y="501" width="11" height="11" fill="#FFC0E5"/>
<rect x="229" y="501" width="11" height="11" fill="#6B58EF"/>
<rect x="241" y="501" width="11" height="11" fill="#FFC0E5"/>
<rect x="253" y="501" width="11" height="11" fill="#4500AD"/>
<rect x="265" y="501" width="11" height="11" fill="#D5D5FF"/>
<rect x="277" y="501" width="11" height="11" fill="#6B58EF"/>
<rect x="289" y="501" width="11" height="11" fill="#C7C1FF"/>
<rect x="301" y="501" width="11" height="11" fill="#C7C1FF"/>
<rect x="313" y="501" width="11" height="11" fill="#6B58EF"/>
<rect x="325" y="501" width="11" height="11" fill="#FFC0E5"/>
<rect x="337" y="501" width="11" height="11" fill="#FFC0E5"/>
<rect x="349" y="501" width="11" height="11" fill="#8888FF"/>
<rect x="361" y="501" width="11" height="11" fill="#8888FF"/>
<rect x="373" y="501" width="11" height="11" fill="#FF7080"/>
<rect x="385" y="501" width="11" height="11" fill="#FFC0E5"/>
<rect x="397" y="501" width="11" height="11" fill="#C7C1FF"/>
<rect x="409" y="501" width="11" height="11" fill="#8888FF"/>
<rect x="421" y="501" width="11" height="11" fill="#C7C1FF"/>
<rect x="433" y="501" width="11" height="11" fill="#FFC0E5"/>
<rect x="445" y="501" width="11" height="11" fill="#FFC0E5"/>
<rect x="457" y="501" width="11" height="11" fill="#FF8888"/>
<rect x="469" y="501" width="11" height="11" fill="#D5D5FF"/>
<rect x="481" y="501" width="11" height="11" fill="#FF8888"/>
<rect x="493" y="501" width="11" height="11" fill="#D5D5FF"/>
<rect x="505" y="501" width="11" height="11" fill="#FFC0E5"/>
<rect x="517" y="501" width="11" height="11" fill="#6B58EF"/>
<rect x="529" y="501" width="11" height="11" fill="#EF4040"/>
<rect x="541" y="501" width="11" height="11" fill="#FFC0E5"/>
<rect x="553" y="501" width="11" height="11" fill="#FFC0E5"/>
<rect x="565" y="501" width="11" height="11" fill="#6B58EF"/>
<rect x="577" y="501" width="11" height="11" fill="#8888FF"/>
<rect x="589" y="501" width="11" height="11" fill="#2700D1"/>
<rect x="1" y="513" width="11" height="11" fill="#FFC0E5"/>
<rect x="13" y="513" width="11" height="11" fill="#8888FF"/>
<rect x="25" y="513" width="11" height="11" fill="#2700D1"/>
<rect x="37" y="513" width="11" height="11" fill="#FF8888"/>
<rect x="49" y="513" width="11" height="11" fill="#8888FF"/>
<rect x="61" y="513" width="11" height="11" fill="#FF8888"/>
<rect x="73" y="513" width="11" height="11" fill="#FFC0E5"/>
<rect x="85" y="513" width="11" height="11" fill="#4500AD"/>
<rect x="97" y="513" width="11" height="11" fill="#C7C1FF"/>
<rect x="109" y="513" width="11" height="11" fill="#FF8888"/>
<rect x="121" y="513" width="11" height="11" fill="#8888FF"/>
<rect x="133" y="513" width="11" height="11" fill="#FFC0E5"/>
<rect x="145" y="513" width="11" height="11" fill="#FFC0E5"/>
<rect x="157" y="513" width="11" height="11" fill="#4500AD"/>
<rect x="169" y="513" width="11" height="11" fill="#C7C1FF"/>
<rect x="181" y="513" width="11" height="11" fill="#8888FF"/>
<rect x="193" y="513" width="11" height="11" fill="#D5D5FF"/>
<rect x="205" y="513" width="11" height="11" fill="#D5D5FF"/>
<rect x="217" y="513" width="11" height="11" fill="#2700D1"/>
<rect x="229" y="513" width="11" height="11" fill="#FFC0E5"/>
<rect x="241" y="513" width="11" height="11" fill="#6B58EF"/>
<rect x="253" y="513" width="11" height="11" fill="#8888FF"/>
<rect x="265" y="513" width="11" height="11" fill="#2700D1"/>
<rect x="277" y="513" width="11" height="11" fill="#FFC0E5"/>
<rect x="289" y="513" width="11" height="11" fill="#4500AD"/>
<rect x="301" y="513" width="11" height="11" fill="#FFC0E5"/>
<rect x="313" y="513" width="11" height="11" fill="#4500AD"/>
<rect x="325" y="513" width="11" height="11" fill="#2700D1"/>
<rect x="337" y="513" width="11" height="11" fill="#2700D1"/>
<rect x="349" y="513" width="11" height="11" fill="#FFC0E5"/>
<rect x="361" y="513" width="11" height="11" fill="#FFC0E5"/>
<rect x="373" y="513" width="11" height="11" fill="#6B58EF"/>
<rect x="385" y="513" width="11" height="11" fill="#4500AD"/>
<rect x="397" y="513" width="11" height="11" fill="#6B58EF"/>
<rect x="409" y="513" width="11" height="11" fill="#2700D1"/>
<rect x="421" y="513" width="11" height="11" fill="#2700D1"/>
<rect x="433" y="513" width="11" height="11" fill="#FFC0E5"/>
<rect x="445" y="513" width="11" height="11" fill="#FFC0E5"/>
<rect x="457" y="513" width="11" height="11" fill="#4500AD"/>
<rect x="469" y="513" width="11" height="11" fill="#6B58EF"/>
<rect x="481" y="513" width="11" height="11" fill="#FFC0E5"/>
<rect x="493" y="513" width="11" height="11" fill="#4500AD"/>
<rect x="505" y="513" width="11" height="11" fill="#D5D5FF"/>
<rect x="517" y="513" width="11" height="11" fill="#D60C00"/>
<rect x="529" y="513" width="11" height="11" fill="#FFC0E5"/>
<rect x="541" y="513" width="11" height="11" fill="#6B58EF"/>
<rect x="553" y="513" width="11" height="11" fill="#FFC0E5"/>
<rect x="565" y="513" width="11" height="11" fill="#4500AD"/>
<rect x="577" y="513" width="11" height="11" fill="#2700D1"/>
<rect x="589" y="513" width="11" height="11" fill="#4500AD"/>
<rect x="1" y="525" width="11" height="11" fill="#6B58EF"/>
<rect x="13" y="525" width="11" height="11" fill="#FF5A5A"/>
<rect x="25" y="525" width="11" height="11" fill="#D5D5FF"/>
<rect x="37" y="525" width="11" height="11" fill="#4500AD"/>
<rect x="49" y="525" width="11" height="11" fill="#4500AD"/>
<rect x="61" y="525" width="11" height="11" fill="#2700D1"/>
<rect x="73" y="525" width="11" height="11" fill="#4500AD"/>
<rect x="85" y="525" width="11" height="11" fill="#8888FF"/>
<rect x="97" y="525" width="11" height="11" fill="#FFC0E5"/>
<rect x="109" y="525" width="11" height="11" fill="#4500AD"/>
<rect x="121" y="525" width="11" height="11" fill="#FF5A5A"/>
<rect x="133" y="525" width="11" height="11" fill="#4500AD"/>
<rect x="145" y="525" width="11" height="11" fill="#4500AD"/>
<rect x="157" y="525" width="11" height="11" fill="#FFC0E5"/>
<rect x="169" y="525" width="11" height="11" fill="#6B58EF"/>
<rect x="181" y="525" width="11" height="11" fill="#4500AD"/>
<rect x="193" y="525" width="11" height="11" fill="#4500AD"/>
<rect x="205" y="525" width="11" height="11" fill="#FFC0E5"/>
<rect x="217" y="525" width="11" height="11" fill="#4500AD"/>
<rect x="229" y="525" width="11" height="11" fill="#2700D1"/>
<rect x="241" y="525" width="11" height="11" fill="#8888FF"/>
<rect x="253" y="525" width="11" height="11" fill="#2700D1"/>
<rect x="265" y="525" width="11" height="11" fill="#2700D1"/>
<rect x="277" y="525" width="11" height="11" fill="#FFC0E5"/>
<rect x="289" y="525" width="11" height="11" fill="#6B58EF"/>
<rect x="301" y="525" width="11" height="11" fill="#FFC0E5"/>
<rect x="313" y="525" width="11" height="11" fill="#C7C1FF"/>
<rect x="325" y="525" width="11" height="11" fill="#2700D1"/>
<rect x="337" y="525" width="11" height="11" fill="#6B58EF"/>
<rect x="349" y="525" width="11" height="11" fill="#FFC0E5"/>
<rect x="361" y="525" width="11" height="11" fill="#4500AD"/>
<rect x="373" y="525" width="11" height="11" fill="#6B58EF"/>
<rect x="385" y="525" width="11" height="11" fill="#FFC0E5"/>
<rect x="397" y="525" width="11" height="11" fill="#8888FF"/>
<rect x="409" y="525" width="11" height="11" fill="#4500AD"/>
<rect x="421" y="525" width="11" height="11" fill="#4500AD"/>
<rect x="433" y="525" width="11" height="11" fill="#2700D1"/>
<rect x="445" y="525" width="11" height="11" fill="#4500AD"/>
<rect x="457" y="525" width="11" height="11" fill="#EF4040"/>
<rect x="469" y="525" width="11" height="11" fill="#4500AD"/>
<rect x="481" y="525" width="11" height="11" fill="#4500AD"/>
<rect x="493" y="525" width="11" height="11" fill="#FFC0E5"/>
<rect x="505" y="525" width="11" height="11" fill="#D5D5FF"/>
<rect x="517" y="525" width="11" height="11" fill="#4500AD"/>
<rect x="529" y="525" width="11" height="11" fill="#D60C00"/>
<rect x="541" y="525" width="11" height="11" fill="#4500AD"/>
<rect x="553" y="525" width="11" height="11" fill="#6B58EF"/>
<rect x="565" y="525" width="11" height="11" fill="#4500AD"/>
<rect x="577" y="525" width="11" height="11" fill="#8888FF"/>
<rect x="589" y="525" width="11" height="11" fill="#6B58EF"/>
<rect x="1" y="537" width="11" height="11" fill="#C7C1FF"/>
<rect x="13" y="537" width="11" height="11" fill="#FF5A5A"/>
<rect x="25" y="537" width="11" height="11" fill="#4500AD"/>
<rect x="37" y="537" width="11" height="11" fill="#8888FF"/>
<rect x="49" y="537" width="11" height="11" fill="#FFC0E5"/>
<rect x="61" y="537" width="11" height="11" fill="#4500AD"/>
<rect x="73" y="537" width="11" height="11" fill="#FF8888"/>
<rect x="85" y="537" width="11" height="11" fill="#FFC0E5"/>
<rect x="97" y="537" width="11" height="11" fill="#C7C1FF"/>
<rect x="109" y="537" width="11" height="11" fill="#D5D5FF"/>
<rect x="121" y="537" width="11" height="11" fill="#FF7080"/>
<rect x="133" y="537" width="11" height="11" fill="#6B58EF"/>
<rect x="145" y="537" width="11" height="11" fill="#4500AD"/>
<rect x="157" y="537" width="11" height="11" fill="#2700D1"/>
<rect x="169" y="537" width="11" height="11" fill="#FFC0E5"/>
<rect x="181" y="537" width="11" height="11" fill="#2700D1"/>
<rect x="193" y="537" width="11" height="11" fill="#FFC0E5"/>
<rect x="205" y="537" width="11" height="11" fill="#8888FF"/>
<rect x="217" y="537" width="11" height="11" fill="#4500AD"/>
<rect x="229" y="537" width="11" height="11" fill="#8888FF"/>
<rect x="241" y="537" width="11" height="11" fill="#C7C1FF"/>
<rect x="253" y="537" width="11" height="11" fill="#FF7080"/>
<rect x="265" y="537" width="11" height="11" fill="#8888FF"/>
<rect x="277" y="537" width="11" height="11" fill="#FF5A5A"/>
<rect x="289" y="537" width="11" height="11" fill="#FFC0E5"/>
<rect x="301" y="537" width="11" height="11" fill="#FFC0E5"/>
<rect x="313" y="537" width="11" height="11" fill="#2700D1"/>
<rect x="325" y="537" width="11" height="11" fill="#D60C00"/>
<rect x="337" y="537" width="11" height="11" fill="#4500AD"/>
<rect x="349" y="537" width="11" height="11" fill="#FF7080"/>
<rect x="361" y="537" width="11" height="11" fill="#2700D1"/>
<rect x="373" y="537" width="11" height="11" fill="#6B58EF"/>
<rect x="385" y="537" width="11" height="11" fill="#6B58EF"/>
<rect x="397" y="537" width="11" height="11" fill="#FFC0E5"/>
<rect x="409" y="537" width="11" height="11" fill="#4500AD"/>
<rect x="421" y="537" width="11" height="11" fill="#C7C1FF"/>
<rect x="433" y="537" width="11" height="11" fill="#D5D5FF"/>
<rect x="445" y="537" width="11" height="11" fill="#D5D5FF"/>
<rect x="457" y="537" width="11" height="11" fill="#FF7080"/>
<rect x="469" y="537" width="11" height="11" fill="#2700D1"/>
<rect x="481" y="537" width="11" height="11" fill="#6B58EF"/>
<rect x="493" y="537" width="11" height="11" fill="#4500AD"/>
<rect x="505" y="537" width="11" height="11" fill="#FF8888"/>
<rect x="517" y="537" width="11" height="11" fill="#D5D5FF"/>
<rect x="529" y="537" width="11" height="11" fill="#D60C00"/>
<rect x="541" y="537" width="11" height="11" fill="#2700D1"/>
<rect x="553" y="537" width="11" height="11" fill="#D60C00"/>
<rect x="565" y="537" width="11" height="11" fill="#8888FF"/>
<rect x="577" y="537" width="11" height="11" fill="#FF5A5A"/>
<rect x="589" y="537" width="11" height="11" fill="#6B58EF"/>
<rect x="1" y="549" width="11" height="11" fill="#FF7080"/>
<rect x="13" y="549" width="11" height="11" fill="#FFC0E5"/>
<rect x="25" y="549" width="11" height="11" fill="#EF4040"/>
<rect x="37" y="549" width="11" height="11" fill="#6B58EF"/>
<rect x="49" y="549" width="11" height="11" fill="#4500AD"/>
<rect x="61" y="549" width="11" height="11" fill="#C7C1FF"/>
<rect x="73" y="549" width="11" height="11" fill="#2700D1"/>
<rect x="85" y="549" width="11" height="11" fill="#D5D5FF"/>
<rect x="97" y="549" width="11" height="11" fill="#C7C1FF"/>
<rect x="109" y="549" width="11" height="11" fill="#D5D5FF"/>
<rect x="121" y="549" width="11" height="11" fill="#FF8888"/>
<rect x="133" y="549" width="11" height="11" fill="#2700D1"/>
<rect x="145" y="549" width="11" height="11" fill="#6B58EF"/>
<rect x="157" y="549" width="11" height="11" fill="#C7C1FF"/>
<rect x="169" y="549" width="11" height="11" fill="#FF8888"/>
<rect x="181" y="549" width="11" height="11" fill="#D5D5FF"/>
<rect x="193" y="549" width="11" height="11" fill="#8888FF"/>
<rect x="205" y="549" width="11" height="11" fill="#2700D1"/>
<rect x="217" y="549" width="11" height="11" fill="#4500AD"/>
<rect x="229" y="549" width="11" height="11" fill="#4500AD"/>
<rect x="241" y="549" width="11" height="11" fill="#D5D5FF"/>
<rect x="253" y="549" width="11" height="11" fill="#8888FF"/>
<rect x="265" y="549" width="11" height="11" fill="#4500AD"/>
<rect x="277" y="549" width="11" height="11" fill="#FFC0E5"/>
<rect x="289" y="549" width="11" height="11" fill="#D5D5FF"/>
<rect x="301" y="549" width="11" height="11" fill="#FF7080"/>
<rect x="313" y="549" width="11" height="11" fill="#C7C1FF"/>
<rect x="325" y="549" width="11" height="11" fill="#FF7080"/>
<rect x="337" y="549" width="11" height="11" fill="#2700D1"/>
<rect x="349" y="549" width="11" height="11" fill="#FF8888"/>
<rect x="361" y="549" width="11" height="11" fill="#4500AD"/>
<rect x="373" y="549" width="11" height="11" fill="#2700D1"/>
<rect x="385" y="549" width="11" height="11" fill="#2700D1"/>
<rect x="397" y="549" width="11" height="11" fill="#FFC0E5"/>
<rect x="409" y="549" width="11" height="11" fill="#2700D1"/>
<rect x="421" y="549" width="11" height="11" fill="#FFC0E5"/>
<rect x="433" y="549" width="11" height="11" fill="#FFC0E5"/>
<rect x="445" y="549" width="11" height="11" fill="#4500AD"/>
<rect x="457" y="549" width="11" height="11" fill="#FFC0E5"/>
<rect x="469" y="549" width="11" height="11" fill="#6B58EF"/>
<rect x="481" y="549" width="11" height="11" fill="#4500AD"/>
<rect x="493" y="549" width="11" height="11" fill="#FF7080"/>
<rect x="505" y="549" width="11" height="11" fill="#8888FF"/>
<rect x="517" y="549" width="11" height="11" fill="#4500AD"/>
<rect x="529" y="549" width="11" height="11" fill="#D60C00"/>
<rect x="541" y="549" width="11" height="11" fill="#C7C1FF"/>
<rect x="553" y="549" width="11" height="11" fill="#FF5A5A"/>
<rect x="565" y="549" width="11" height="11" fill="#4500AD"/>
<rect x="577" y="549" width="11" height="11" fill="#2700D1"/>
<rect x="589" y="549" width="11" height="11" fill="#FFC0E5"/>
<rect x="1" y="561" width="11" height="11" fill="#4500AD"/>
<rect x="13" y="561" width="11" height="11" fill="#D5D5FF"/>
<rect x="25" y="561" width="11" height="11" fill="#2700D1"/>
<rect x="37" y="561" width="11" height="11" fill="#C7C1FF"/>
<rect x="49" y="561" width="11" height="11" fill="#FFC0E5"/>
<rect x="61" y="561" width="11" height="11" fill="#EF4040"/>
<rect x="73" y="561" width="11" height="11" fill="#8888FF"/>
<rect x="85" y="561" width="11" height="11" fill="#8888FF"/>
<rect x="97" y="561" width="11" height="11" fill="#2700D1"/>
<rect x="109" y="561" width="11" height="11" fill="#2700D1"/>
<rect x="121" y="561" width="11" height="11" fill="#FF8888"/>
<rect x="133" y="561" width="11" height="11" fill="#4500AD"/>
<rect x="145" y="561" width="11" height="11" fill="#D5D5FF"/>
<rect x="157" y="561" width="11" height="11" fill="#FFC0E5"/>
<rect x="169" y="561" width="11" height="11" fill="#2700D1"/>
<rect x="181" y="561" width="11" height="11" fill="#FFC0E5"/>
<rect x="193" y="561" width="11" height="11" fill="#FFC0E5"/>
<rect x="205" y="561" width="11" height="11" fill="#8888FF"/>
<rect x="217" y="561" width="11" height="11" fill="#2700D1"/>
<rect x="229" y="561" width="11" height="11" fill="#FFC0E5"/>
<rect x="241" y="561" width="11" height="11" fill="#FFC0E5"/>
<rect x="253" y="561" width="11" height="11" fill="#8888FF"/>
<rect x="265" y="561" width="11" height="11" fill="#FFC0E5"/>
<rect x="277" y="561" width="11" height="11" fill="#8888FF"/>
<rect x="289" y="561" width="11" height="11" fill="#4500AD"/>
<rect x="301" y="561" width="11" height="11" fill="#2700D1"/>
<rect x="313" y="561" width="11" height="11" fill="#6B58EF"/>
<rect x="325" y="561" width="11" height="11" fill="#6B58EF"/>
<rect x="337" y="561" width="11" height="11" fill="#4500AD"/>
<rect x="349" y="561" width="11" height="11" fill="#4500AD"/>
<rect x="361" y="561" width="11" height="11" fill="#8888FF"/>
<rect x="373" y="561" width="11" height="11" fill="#8888FF"/>
<rect x="385" y="561" width="11" height="11" fill="#6B58EF"/>
<rect x="397" y="561" width="11" height="11" fill="#C7C1FF"/>
<rect x="409" y="561" width="11" height="11" fill="#C7C1FF"/>
<rect x="421" y="561" width="11" height="11" fill="#4500AD"/>
<rect x="433" y="561" width="11" height="11" fill="#4500AD"/>
<rect x="445" y="561" width="11" height="11" fill="#6B58EF"/>
<rect x="457" y="561" width="11" height="11" fill="#FFC0E5"/>
<rect x="469" y="561" width="11" height="11" fill="#FF8888"/>
<rect x="481" y="561" width="11" height="11" fill="#2700D1"/>
<rect x="493" y="561" width="11" height="11" fill="#8888FF"/>
<rect x="505" y="561" width="11" height="11" fill="#FFC0E5"/>
<rect x="517" y="561" width="11" height="11" fill="#4500AD"/>
<rect x="529" y="561" width="11" height="11" fill="#C7C1FF"/>
<rect x="541" y="561" width="11" height="11" fill="#FFC0E5"/>
<rect x="553" y="561" width="11" height="11" fill="#6B58EF"/>
<rect x="565" y="561" width="11" height="11" fill="#D60C00"/>
<rect x="577" y="561" width="11" height="11" fill="#4500AD"/>
<rect x="589" y="561" width="11" height="11" fill="#2700D1"/>
<rect x="1" y="573" width="11" height="11" fill="#2700D1"/>
<rect x="13" y="573" width="11" height="11" fill="#4500AD"/>
<rect x="25" y="573" width="11" height="11" fill="#4500AD"/>
<rect x="37" y="573" width="11" height="11" fill="#4500AD"/>
<rect x="49" y="573" width="11" height="11" fill="#4500AD"/>
<rect x="61" y="573" width="11" height="11" fill="#4500AD"/>
<rect x="73" y="573" width="11" height="11" fill="#4500AD"/>
<rect x="85" y="573" width="11" height="11" fill="#C7C1FF"/>
<rect x="97" y="573" width="11" height="11" fill="#FFC0E5"/>
<rect x="109" y="573" width="11" height="11" fill="#2700D1"/>
<rect x="121" y="573" width="11" height="11" fill="#2700D1"/>
<rect x="133" y="573" width="11" height="11" fill="#4500AD"/>
<rect x="145" y="573" width="11" height="11" fill="#4500AD"/>
<rect x="157" y="573" width="11" height="11" fill="#FFC0E5"/>
<rect x="169" y="573" width="11" height="11" fill="#FFC0E5"/>
<rect x="181" y="573" width="11" height="11" fill="#2700D1"/>
<rect x="193" y="573" width="11" height="11" fill="#4500AD"/>
<rect x="205" y="573" width="11" height="11" fill="#4500AD"/>
<rect x="217" y="573" width="11" height="11" fill="#4500AD"/>
<rect x="229" y="573" width="11" height="11" fill="#D5D5FF"/>
<rect x="241" y="573" width="11" height="11" fill="#FF8888"/>
<rect x="253" y="573" width="11" height="11" fill="#2700D1"/>
<rect x="265" y="573" width="11" height="11" fill="#4500AD"/>
<rect x="277" y="573" width="11" height="11" fill="#2700D1"/>
<rect x="289" y="573" width="11" height="11" fill="#2700D1"/>
<rect x="301" y="573" width="11" height="11" fill="#2700D1"/>
<rect x="313" y="573" width="11" height="11" fill="#FFC0E5"/>
<rect x="325" y="573" width="11" height="11" fill="#6B58EF"/>
<rect x="337" y="573" width="11" height="11" fill="#4500AD"/>
<rect x="349" y="573" width="11" height="11" fill="#FFC0E5"/>
<rect x="361" y="573" width="11" height="11" fill="#4500AD"/>
<rect x="373" y="573" width="11" height="11" fill="#2700D1"/>
<rect x="385" y="573" width="11" height="11" fill="#4500AD"/>
<rect x="397" y="573" width="11" height="11" fill="#4500AD"/>
<rect x="409" y="573" width="11" height="11" fill="#4500AD"/>
<rect x="421" y="573" width="11" height="11" fill="#FFC0E5"/>
<rect x="433" y="573" width="11" height="11" fill="#8888FF"/>
<rect x="445" y="573" width="11" height="11" fill="#4500AD"/>
<rect x="457" y="573" width="11" height="11" fill="#4500AD"/>
<rect x="469" y="573" width="11" height="11" fill="#6B58EF"/>
<rect x="481" y="573" width="11" height="11" fill="#4500AD"/>
<rect x="493" y="573" width="11" height="11" fill="#4500AD"/>
<rect x="505" y="573" width="11" height="11" fill="#4500AD"/>
<rect x="517" y="573" width="11" height="11" fill="#8888FF"/>
<rect x="529" y="573" width="11" height="11" fill="#4500AD"/>
<rect x="541" y="573" width="11" height="11" fill="#6B58EF"/>
<rect x="553" y="573" width="11" height="11" fill="#D60C00"/>
<rect x="565" y="573" width="11" height="11" fill="#2700D1"/>
<rect x="577" y="573" width="11" height="11" fill="#4500AD"/>
<rect x="589" y="573" width="11" height="11" fill="#FFC0E5"/>
<rect x="1" y="585" width="11" height="11" fill="#FF8888"/>
<rect x="13" y="585" width="11" height="11" fill="#FF5A5A"/>
<rect x="25" y="585" width="11" height="11" fill="#FFC0E5"/>
<rect x="37" y="585" width="11" height="11" fill="#6B58EF"/>
<rect x="49" y="585" width="11" height="11" fill="#2700D1"/>
<rect x="61" y="585" width="11" height="11" fill="#FFC0E5"/>
<rect x="73" y="585" width="11" height="11" fill="#6B58EF"/>
<rect x="85" y="585" width="11" height="11" fill="#C7C1FF"/>
<rect x="97" y="585" width="11" height="11" fill="#6B58EF"/>
<rect x="109" y="585" width="11" height="11" fill="#FFC0E5"/>
<rect x="121" y="585" width="11" height="11" fill="#FF8888"/>
<rect x="133" y="585" width="11" height="11" fill="#4500AD"/>
<rect x="145" y="585" width="11" height="11" fill="#2700D1"/>
<rect x="157" y="585" width="11" height="11" fill="#C7C1FF"/>
<rect x="169" y="585" width="11" height="11" fill="#FF8888"/>
<rect x="181" y="585" width="11" height="11" fill="#6B58EF"/>
<rect x="193" y="585" width="11" height="11" fill="#8888FF"/>
<rect x="205" y="585" width="11" height="11" fill="#FFC0E5"/>
<rect x="217" y="585" width="11" height="11" fill="#6B58EF"/>
<rect x="229" y="585" width="11" height="11" fill="#4500AD"/>
<rect x="241" y="585" width="11" height="11" fill="#C7C1FF"/>
<rect x="253" y="585" width="11" height="11" fill="#C7C1FF"/>
<rect x="265" y="585" width="11" height="11" fill="#6B58EF"/>
<rect x="277" y="585" width="11" height="11" fill="#FF8888"/>
<rect x="289" y="585" width="11" height="11" fill="#D5D5FF"/>
<rect x="301" y="585" width="11" height="11" fill="#FFC0E5"/>
<rect x="313" y="585" width="11" height="11" fill="#6B58EF"/>
<rect x="325" y="585" width="11" height="11" fill="#D5D5FF"/>
<rect x="337" y="585" width="11" height="11" fill="#D5D5FF"/>
<rect x="349" y="585" width="11" height="11" fill="#FFC0E5"/>
<rect x="361" y="585" width="11" height="11" fill="#2700D1"/>
<rect x="373" y="585" width="11" height="11" fill="#FFC0E5"/>
<rect x="385" y="585" width="11" height="11" fill="#6B58EF"/>
<rect x="397" y="585" width="11" height="11" fill="#D5D5FF"/>
<rect x="409" y="585" width="11" height="11" fill="#6B58EF"/>
<rect x="421" y="585" width="11" height="11" fill="#C7C1FF"/>
<rect x="433" y="585" width="11" height="11" fill="#FFC0E5"/>
<rect x="445" y="585" width="11" height="11" fill="#6B58EF"/>
<rect x="457" y="585" width="11" height="11" fill="#FF7080"/>
<rect x="469" y="585" width="11" height="11" fill="#8888FF"/>
<rect x="481" y="585" width="11" height="11" fill="#8888FF"/>
<rect x="493" y="585" width="11" height="11" fill="#D5D5FF"/>
<rect x="505" y="585" width="11" height="11" fill="#C7C1FF"/>
<rect x="517" y="585" width="11" height="11" fill="#4500AD"/>
<rect x="529" y="585" width="11" height="11" fill="#D60C00"/>
<rect x="541" y="585" width="11" height="11" fill="#FFC0E5"/>
<rect x="553" y="585" width="11" height="11" fill="#EF4040"/>
<rect x="565" y="585" width="11" height="11" fill="#6B58EF"/>
<rect x="577" y="585" width="11" height="11" fill="#2700D1"/>
<rect x="589" y="585" width="11" height="11" fill="#FFC0E5"/>
<rect x="1" y="597" width="11" height="11" fill="#D5D5FF"/>
<rect x="13" y="597" width="11" height="11" fill="#D60C00"/>
<rect x="25" y="597" width="11" height="11" fill="#4500AD"/>
<rect x="37" y="597" width="11" height="11" fill="#6B58EF"/>
<rect x="49" y="597" width="11" height="11" fill="#6B58EF"/>
<rect x="61" y="597" width="11" height="11" fill="#2700D1"/>
<rect x="73" y="597" width="11" height="11" fill="#2700D1"/>
<rect x="85" y="597" width="11" height="11" fill="#D5D5FF"/>
<rect x="97" y="597" width="11" height="11" fill="#D5D5FF"/>
<rect x="109" y="597" width="11" height="11" fill="#6B58EF"/>
<rect x="121" y="597" width="11" height="11" fill="#EF4040"/>
<rect x="133" y="597" width="11" height="11" fill="#4500AD"/>
<rect x="145" y="597" width="11" height="11" fill="#4500AD"/>
<rect x="157" y="597" width="11" height="11" fill="#C7C1FF"/>
<rect x="169" y="597" width="11" height="11" fill="#8888FF"/>
<rect x="181" y="597" width="11" height="11" fill="#C7C1FF"/>
<rect x="193" y="597" width="11" height="11" fill="#FF7080"/>
<rect x="205" y="597" width="11" height="11" fill="#FF7080"/>
<rect x="217" y="597" width="11" height="11" fill="#6B58EF"/>
<rect x="229" y="597" width="11" height="11" fill="#6B58EF"/>
<rect x="241" y="597" width="11" height="11" fill="#FF7080"/>
<rect x="253" y="597" width="11" height="11" fill="#C7C1FF"/>
<rect x="265" y="597" width="11" height="11" fill="#4500AD"/>
<rect x="277" y="597" width="11" height="11" fill="#FF8888"/>
<rect x="289" y="597" width="11" height="11" fill="#6B58EF"/>
<rect x="301" y="597" width="11" height="11" fill="#8888FF"/>
<rect x="313" y="597" width="11" height="11" fill="#8888FF"/>
<rect x="325" y="597" width="11" height="11" fill="#C7C1FF"/>
<rect x="337" y="597" width="11" height="11" fill="#4500AD"/>
<rect x="349" y="597" width="11" height="11" fill="#8888FF"/>
<rect x="361" y="597" width="11" height="11" fill="#4500AD"/>
<rect x="373" y="597" width="11" height="11" fill="#FFC0E5"/>
<rect x="385" y="597" width="11" height="11" fill="#4500AD"/>
<rect x="397" y="597" width="11" height="11" fill="#C7C1FF"/>
<rect x="409" y="597" width="11" height="11" fill="#6B58EF"/>
<rect x="421" y="597" width="11" height="11" fill="#8888FF"/>
<rect x="433" y="597" width="11" height="11" fill="#8888FF"/>
<rect x="445" y="597" width="11" height="11" fill="#2700D1"/>
<rect x="457" y="597" width="11" height="11" fill="#FFC0E5"/>
<rect x="469" y="597" width="11" height="11" fill="#FF8888"/>
<rect x="481" y="597" width="11" height="11" fill="#6B58EF"/>
<rect x="493" y="597" width="11" height="11" fill="#2700D1"/>
<rect x="505" y="597" width="11" height="11" fill="#2700D1"/>
<rect x="517" y="597" width="11" height="11" fill="#D5D5FF"/>
<rect x="529" y="597" width="11" height="11" fill="#D60C00"/>
<rect x="541" y="597" width="11" height="11" fill="#D60C00"/>
<rect x="553" y="597" width="11" height="11" fill="#D5D5FF"/>
<rect x="565" y="597" width="11" height="11" fill="#FFC0E5"/>
<rect x="577" y="597" width="11" height="11" fill="#FFC0E5"/>
<rect x="589" y="597" width="11" height="11" fill="#6B58EF"/>
<rect x="1" y="609" width="11" height="11" fill="#D5D5FF"/>
<rect x="13" y="609" width="11" height="11" fill="#FF8888"/>
<rect x="25" y="609" width="11" height="11" fill="#FFC0E5"/>
<rect x="37" y="609" width="11" height="11" fill="#6B58EF"/>
<rect x="49" y="609" width="11" height="11" fill="#4500AD"/>
<rect x="61" y="609" width="11" height="11" fill="#6B58EF"/>
<rect x="73" y="609" width="11" height="11" fill="#C7C1FF"/>
<rect x="85" y="609" width="11" height="11" fill="#8888FF"/>
<rect x="97" y="609" width="11" height="11" fill="#4500AD"/>
<rect x="109" y="609" width="11" height="11" fill="#4500AD"/>
<rect x="121" y="609" width="11" height="11" fill="#EF4040"/>
<rect x="133" y="609" width="11" height="11" fill="#2700D1"/>
<rect x="145" y="609" width="11" height="11" fill="#2700D1"/>
<rect x="157" y="609" width="11" height="11" fill="#FFC0E5"/>
<rect x="169" y="609" width="11" height="11" fill="#4500AD"/>
<rect x="181" y="609" width="11" height="11" fill="#D5D5FF"/>
<rect x="193" y="609" width="11" height="11" fill="#2700D1"/>
<rect x="205" y="609" width="11" height="11" fill="#FF8888"/>
<rect x="217" y="609" width="11" height="11" fill="#D5D5FF"/>
<rect x="229" y="609" width="11" height="11" fill="#2700D1"/>
<rect x="241" y="609" width="11" height="11" fill="#FF8888"/>
<rect x="253" y="609" width="11" height="11" fill="#2700D1"/>
<rect x="265" y="609" width="11" height="11" fill="#6B58EF"/>
<rect x="277" y="609" width="11" height="11" fill="#6B58EF"/>
<rect x="289" y="609" width="11" height="11" fill="#2700D1"/>
<rect x="301" y="609" width="11" height="11" fill="#FFC0E5"/>
<rect x="313" y="609" width="11" height="11" fill="#FFC0E5"/>
<rect x="325" y="609" width="11" height="11" fill="#D5D5FF"/>
<rect x="337" y="609" width="11" height="11" fill="#4500AD"/>
<rect x="349" y="609" width="11" height="11" fill="#C7C1FF"/>
<rect x="361" y="609" width="11" height="11" fill="#4500AD"/>
<rect x="373" y="609" width="11" height="11" fill="#FFC0E5"/>
<rect x="385" y="609" width="11" height="11" fill="#6B58EF"/>
<rect x="397" y="609" width="11" height="11" fill="#8888FF"/>
<rect x="409" y="609" width="11" height="11" fill="#2700D1"/>
<rect x="421" y="609" width="11" height="11" fill="#FFC0E5"/>
<rect x="433" y="609" width="11" height="11" fill="#2700D1"/>
<rect x="445" y="609" width="11" height="11" fill="#2700D1"/>
<rect x="457" y="609" width="11" height="11" fill="#D60C00"/>
<rect x="469" y="609" width="11" height="11" fill="#D5D5FF"/>
<rect x="481" y="609" width="11" height="11" fill="#6B58EF"/>
<rect x="493" y="609" width="11" height="11" fill="#FFC0E5"/>
<rect x="505" y="609" width="11" height="11" fill="#C7C1FF"/>
<rect x="517" y="609" width="11" height="11" fill="#4500AD"/>
<rect x="529" y="609" width="11" height="11" fill="#FF7080"/>
<rect x="541" y="609" width="11" height="11" fill="#2700D1"/>
<rect x="553" y="609" width="11" height="11" fill="#FFC0E5"/>
<rect x="565" y="609" width="11" height="11" fill="#FFC0E5"/>
<rect x="577" y="609" width="11" height="11" fill="#FFC0E5"/>
<rect x="589" y="609" width="11" height="11" fill="#D5D5FF"/>
<rect x="1" y="621" width="11" height="11" fill="#FFC0E5"/>
<rect x="13" y="621" width="11" height="11" fill="#D5D5FF"/>
<rect x="25" y="621" width="11" height="11" fill="#D5D5FF"/>
<rect x="37" y="621" width="11" height="11" fill="#8888FF"/>
<rect x="49" y="621" width="11" height="11" fill="#6B58EF"/>
<rect x="61" y="621" width="11" height="11" fill="#FFC0E5"/>
<rect x="73" y="621" width="11" height="11" fill="#8888FF"/>
<rect x="85" y="621" width="11" height="11" fill="#FFC0E5"/>
<rect x="97" y="621" width="11" height="11" fill="#D5D5FF"/>
<rect x="109" y="621" width="11" height="11" fill="#2700D1"/>
<rect x="121" y="621" width="11" height="11" fill="#FF8888"/>
<rect x="133" y="621" width="11" height="11" fill="#C7C1FF"/>
<rect x="145" y="621" width="11" height="11" fill="#8888FF"/>
<rect x="157" y="621" width="11" height="11" fill="#FF7080"/>
<rect x="169" y="621" width="11" height="11" fill="#FFC0E5"/>
<rect x="181" y="621" width="11" height="11" fill="#8888FF"/>
<rect x="193" y="621" width="11" height="11" fill="#FF8888"/>
<rect x="205" y="621" width="11" height="11" fill="#FF8888"/>
<rect x="217" y="621" width="11" height="11" fill="#6B58EF"/>
<rect x="229" y="621" width="11" height="11" fill="#FF8888"/>
<rect x="241" y="621" width="11" height="11" fill="#2700D1"/>
<rect x="253" y="621" width="11" height="11" fill="#8888FF"/>
<rect x="265" y="621" width="11" height="11" fill="#8888FF"/>
<rect x="277" y="621" width="11" height="11" fill="#FF8888"/>
<rect x="289" y="621" width="11" height="11" fill="#FF7080"/>
<rect x="301" y="621" width="11" height="11" fill="#8888FF"/>
<rect x="313" y="621" width="11" height="11" fill="#FF8888"/>
<rect x="325" y="621" width="11" height="11" fill="#FF7080"/>
<rect x="337" y="621" width="11" height="11" fill="#FF8888"/>
<rect x="349" y="621" width="11" height="11" fill="#FFC0E5"/>
<rect x="361" y="621" width="11" height="11" fill="#6B58EF"/>
<rect x="373" y="621" width="11" height="11" fill="#C7C1FF"/>
<rect x="385" y="621" width="11" height="11" fill="#8888FF"/>
<rect x="397" y="621" width="11" height="11" fill="#C7C1FF"/>
<rect x="409" y="621" width="11" height="11" fill="#FFC0E5"/>
<rect x="421" y="621" width="11" height="11" fill="#D5D5FF"/>
<rect x="433" y="621" width="11" height="11" fill="#6B58EF"/>
<rect x="445" y="621" width="11" height="11" fill="#6B58EF"/>
<rect x="457" y="621" width="11" height="11" fill="#FF7080"/>
<rect x="469" y="621" width="11" height="11" fill="#FF8888"/>
<rect x="481" y="621" width="11" height="11" fill="#C7C1FF"/>
<rect x="493" y="621" width="11" height="11" fill="#8888FF"/>
<rect x="505" y="621" width="11" height="11" fill="#2700D1"/>
<rect x="517" y="621" width="11" height="11" fill="#D5D5FF"/>
<rect x="529" y="621" width="11" height="11" fill="#D60C00"/>
<rect x="541" y="621" width="11" height="11" fill="#FF8888"/>
<rect x="553" y="621" width="11" height="11" fill="#FFC0E5"/>
<rect x="565" y="621" width="11" height="11" fill="#EF4040"/>
<rect x="577" y="621" width="11" height="11" fill="#FF8888"/>
<rect x="589" y="621" width="11" height="11" fill="#4500AD"/>
<rect x="1" y="633" width="11" height="11" fill="#8888FF"/>
<rect x="13" y="633" width="11" height="11" fill="#6B58EF"/>
<rect x="25" y="633" width="11" height="11" fill="#6B58EF"/>
<rect x="37" y="633" width="11" height="11" fill="#6B58EF"/>
<rect x="49" y="633" width="11" height="11" fill="#8888FF"/>
<rect x="61" y="633" width="11" height="11" fill="#C7C1FF"/>
<rect x="73" y="633" width="11" height="11" fill="#2700D1"/>
<rect x="85" y="633" width="11" height="11" fill="#C7C1FF"/>
<rect x="97" y="633" width="11" height="11" fill="#6B58EF"/>
<rect x="109" y="633" width="11" height="11" fill="#2700D1"/>
<rect x="121" y="633" width="11" height="11" fill="#D5D5FF"/>
<rect x="133" y="633" width="11" height="11" fill="#2700D1"/>
<rect x="145" y="633" width="11" height="11" fill="#2700D1"/>
<rect x="157" y="633" width="11" height="11" fill="#FF8888"/>
<rect x="169" y="633" width="11" height="11" fill="#FFC0E5"/>
<rect x="181" y="633" width="11" height="11" fill="#FFC0E5"/>
<rect x="193" y="633" width="11" height="11" fill="#D5D5FF"/>
<rect x="205" y="633" width="11" height="11" fill="#C7C1FF"/>
<rect x="217" y="633" width="11" height="11" fill="#FFC0E5"/>
<rect x="229" y="633" width="11" height="11" fill="#8888FF"/>
<rect x="241" y="633" width="11" height="11" fill="#4500AD"/>
<rect x="253" y="633" width="11" height="11" fill="#C7C1FF"/>
<rect x="265" y="633" width="11" height="11" fill="#8888FF"/>
<rect x="277" y="633" width="11" height="11" fill="#2700D1"/>
<rect x="289" y="633" width="11" height="11" fill="#C7C1FF"/>
<rect x="301" y="633" width="11" height="11" fill="#FFC0E5"/>
<rect x="313" y="633" width="11" height="11" fill="#FF8888"/>
<rect x="325" y="633" width="11" height="11" fill="#FFC0E5"/>
<rect x="337" y="633" width="11" height="11" fill="#FF7080"/>
<rect x="349" y="633" width="11" height="11" fill="#EF4040"/>
<rect x="361" y="633" width="11" height="11" fill="#2700D1"/>
<rect x="373" y="633" width="11" height="11" fill="#2700D1"/>
<rect x="385" y="633" width="11" height="11" fill="#FF8888"/>
<rect x="397" y="633" width="11" height="11" fill="#C7C1FF"/>
<rect x="409" y="633" width="11" height="11" fill="#D5D5FF"/>
<rect x="421" y="633" width="11" height="11" fill="#D5D5FF"/>
<rect x="433" y="633" width="11" height="11" fill="#C7C1FF"/>
<rect x="445" y="633" width="11" height="11" fill="#4500AD"/>
<rect x="457" y="633" width="11" height="11" fill="#C7C1FF"/>
<rect x="469" y="633" width="11" height="11" fill="#FF5A5A"/>
<rect x="481" y="633" width="11" height="11" fill="#4500AD"/>
<rect x="493" y="633" width="11" height="11" fill="#8888FF"/>
<rect x="505" y="633" width="11" height="11" fill="#8888FF"/>
<rect x="517" y="633" width="11" height="11" fill="#6B58EF"/>
<rect x="529" y="633" width="11" height="11" fill="#FFC0E5"/>
<rect x="541" y="633" width="11" height="11" fill="#FFC0E5"/>
<rect x="553" y="633" width="11" height="11" fill="#C7C1FF"/>
<rect x="565" y="633" width="11" height="11" fill="#FF5A5A"/>
<rect x="577" y="633" width="11" height="11" fill="#D60C00"/>
<rect x="589" y="633" width="11" height="11" fill="#2700D1"/>
<rect x="1" y="645" width="11" height="11" fill="#FFC0E5"/>
<rect x="13" y="645" width="11" height="11" fill="#FF7080"/>
<rect x="25" y="645" width="11" height="11" fill="#6B58EF"/>
<rect x="37" y="645" width="11" height="11" fill="#8888FF"/>
<rect x="49" y="645" width="11" height="11" fill="#4500AD"/>
<rect x="61" y="645" width="11" height="11" fill="#2700D1"/>
<rect x="73" y="645" width="11" height="11" fill="#2700D1"/>
<rect x="85" y="645" width="11" height="11" fill="#6B58EF"/>
<rect x="97" y="645" width="11" height="11" fill="#4500AD"/>
<rect x="109" y="645" width="11" height="11" fill="#FFC0E5"/>
<rect x="121" y="645" width="11" height="11" fill="#FFC0E5"/>
<rect x="133" y="645" width="11" height="11" fill="#FF5A5A"/>
<rect x="145" y="645" width="11" height="11" fill="#D5D5FF"/>
<rect x="157" y="645" width="11" height="11" fill="#FFC0E5"/>
<rect x="169" y="645" width="11" height="11" fill="#4500AD"/>
<rect x="181" y="645" width="11" height="11" fill="#6B58EF"/>
<rect x="193" y="645" width="11" height="11" fill="#6B58EF"/>
<rect x="205" y="645" width="11" height="11" fill="#6B58EF"/>
<rect x="217" y="645" width="11" height="11" fill="#C7C1FF"/>
<rect x="229" y="645" width="11" height="11" fill="#D5D5FF"/>
<rect x="241" y="645" width="11" height="11" fill="#FFC0E5"/>
<rect x="253" y="645" width="11" height="11" fill="#C7C1FF"/>
<rect x="265" y="645" width="11" height="11" fill="#FFC0E5"/>
<rect x="277" y="645" width="11" height="11" fill="#4500AD"/>
<rect x="289" y="645" width="11" height="11" fill="#D5D5FF"/>
<rect x="301" y="645" width="11" height="11" fill="#8888FF"/>
<rect x="313" y="645" width="11" height="11" fill="#6B58EF"/>
<rect x="325" y="645" width="11" height="11" fill="#2700D1"/>
<rect x="337" y="645" width="11" height="11" fill="#6B58EF"/>
<rect x="349" y="645" width="11" height="11" fill="#FFC0E5"/>
<rect x="361" y="645" width="11" height="11" fill="#D5D5FF"/>
<rect x="373" y="645" width="11" height="11" fill="#FFC0E5"/>
<rect x="385" y="645" width="11" height="11" fill="#6B58EF"/>
<rect x="397" y="645" width="11" height="11" fill="#4500AD"/>
<rect x="409" y="645" width="11" height="11" fill="#8888FF"/>
<rect x="421" y="645" width="11" height="11" fill="#6B58EF"/>
<rect x="433" y="645" width="11" height="11" fill="#2700D1"/>
<rect x="445" y="645" width="11" height="11" fill="#C7C1FF"/>
<rect x="457" y="645" width="11" height="11" fill="#C7C1FF"/>
<rect x="469" y="645" width="11" height="11" fill="#FFC0E5"/>
<rect x="481" y="645" width="11" height="11" fill="#2700D1"/>
<rect x="493" y="645" width="11" height="11" fill="#2700D1"/>
<rect x="505" y="645" width="11" height="11" fill="#FFC0E5"/>
<rect x="517" y="645" width="11" height="11" fill="#FFC0E5"/>
<rect x="529" y="645" width="11" height="11" fill="#D5D5FF"/>
<rect x="541" y="645" width="11" height="11" fill="#FF7080"/>
<rect x="553" y="645" width="11" height="11" fill="#FFC0E5"/>
<rect x="565" y="645" width="11" height="11" fill="#FF7080"/>
<rect x="577" y="645" width="11" height="11" fill="#D60C00"/>
<rect x="589" y="645" width="11" height="11" fill="#4500AD"/>
<rect x="1" y="657" width="11" height="11" fill="#2700D1"/>
<rect x="13" y="657" width="11" height="11" fill="#2700D1"/>
<rect x="25" y="657" width="11" height="11" fill="#D60C00"/>
<rect x="37" y="657" width="11" height="11" fill="#FFC0E5"/>
<rect x="49" y="657" width="11" height="11" fill="#C7C1FF"/>
<rect x="61" y="657" width="11" height="11" fill="#4500AD"/>
<rect x="73" y="657" width="11" height="11" fill="#6B58EF"/>
<rect x="85" y="657" width="11" height="11" fill="#2700D1"/>
<rect x="97" y="657" width="11" height="11" fill="#2700D1"/>
<rect x="109" y="657" width="11" height="11" fill="#D5D5FF"/>
<rect x="121" y="657" width="11" height="11" fill="#2700D1"/>
<rect x="133" y="657" width="11" height="11" fill="#D5D5FF"/>
<rect x="145" y="657" width="11" height="11" fill="#6B58EF"/>
<rect x="157" y="657" width="11" height="11" fill="#6B58EF"/>
<rect x="169" y="657" width="11" height="11" fill="#D5D5FF"/>
<rect x="181" y="657" width="11" height="11" fill="#D5D5FF"/>
<rect x="193" y="657" width="11" height="11" fill="#FFC0E5"/>
<rect x="205" y="657" width="11" height="11" fill="#FFC0E5"/>
<rect x="217" y="657" width="11" height="11" fill="#2700D1"/>
<rect x="229" y="657" width="11" height="11" fill="#FFC0E5"/>
<rect x="241" y="657" width="11" height="11" fill="#FFC0E5"/>
<rect x="253" y="657" width="11" height="11" fill="#2700D1"/>
<rect x="265" y="657" width="11" height="11" fill="#8888FF"/>
<rect x="277" y="657" width="11" height="11" fill="#FFC0E5"/>
<rect x="289" y="657" width="11" height="11" fill="#C7C1FF"/>
<rect x="301" y="657" width="11" height="11" fill="#2700D1"/>
<rect x="313" y="657" width="11" height="11" fill="#FFC0E5"/>
<rect x="325" y="657" width="11" height="11" fill="#8888FF"/>
<rect x="337" y="657" width="11" height="11" fill="#FFC0E5"/>
<rect x="349" y="657" width="11" height="11" fill="#6B58EF"/>
<rect x="361" y="657" width="11" height="11" fill="#6B58EF"/>
<rect x="373" y="657" width="11" height="11" fill="#FFC0E5"/>
<rect x="385" y="657" width="11" height="11" fill="#2700D1"/>
<rect x="397" y="657" width="11" height="11" fill="#6B58EF"/>
<rect x="409" y="657" width="11" height="11" fill="#C7C1FF"/>
<rect x="421" y="657" width="11" height="11" fill="#8888FF"/>
<rect x="433" y="657" width="11" height="11" fill="#8888FF"/>
<rect x="445" y="657" width="11" height="11" fill="#FFC0E5"/>
<rect x="457" y="657" width="11" height="11" fill="#C7C1FF"/>
<rect x="469" y="657" width="11" height="11" fill="#D5D5FF"/>
<rect x="481" y="657" width="11" height="11" fill="#8888FF"/>
<rect x="493" y="657" width="11" height="11" fill="#D60C00"/>
<rect x="505" y="657" width="11" height="11" fill="#C7C1FF"/>
<rect x="517" y="657" width="11" height="11" fill="#D5D5FF"/>
<rect x="529" y="657" width="11" height="11" fill="#2700D1"/>
<rect x="541" y="657" width="11" height="11" fill="#FF8888"/>
<rect x="553" y="657" width="11" height="11" fill="#FFC0E5"/>
<rect x="565" y="657" width="11" height="11" fill="#8888FF"/>
<rect x="577" y="657" width="11" height="11" fill="#D5D5FF"/>
<rect x="589" y="657" width="11" height="11" fill="#FFC0E5"/>
<rect x="1" y="669" width="11" height="11" fill="#FF5A5A"/>
<rect x="13" y="669" width="11" height="11" fill="#FF7080"/>
<rect x="25" y="669" width="11" height="11" fill="#FFC0E5"/>
<rect x="37" y="669" width="11" height="11" fill="#6B58EF"/>
<rect x="49" y="669" width="11" height="11" fill="#D60C00"/>
<rect x="61" y="669" width="11" height="11" fill="#C7C1FF"/>
<rect x="73" y="669" width="11" height="11" fill="#4500AD"/>
<rect x="85" y="669" width="11" height="11" fill="#FF8888"/>
<rect x="97" y="669" width="11" height="11" fill="#C7C1FF"/>
<rect x="109" y="669" width="11" height="11" fill="#FF8888"/>
<rect x="121" y="669" width="11" height="11" fill="#FF8888"/>
<rect x="133" y="669" width="11" height="11" fill="#4500AD"/>
<rect x="145" y="669" width="11" height="11" fill="#6B58EF"/>
<rect x="157" y="669" width="11" height="11" fill="#4500AD"/>
<rect x="169" y="669" width="11" height="11" fill="#D5D5FF"/>
<rect x="181" y="669" width="11" height="11" fill="#2700D1"/>
<rect x="193" y="669" width="11" height="11" fill="#4500AD"/>
<rect x="205" y="669" width="11" height="11" fill="#6B58EF"/>
<rect x="217" y="669" width="11" height="11" fill="#4500AD"/>
<rect x="229" y="669" width="11" height="11" fill="#D5D5FF"/>
<rect x="241" y="669" width="11" height="11" fill="#FFC0E5"/>
<rect x="253" y="669" width="11" height="11" fill="#8888FF"/>
<rect x="265" y="669" width="11" height="11" fill="#4500AD"/>
<rect x="277" y="669" width="11" height="11" fill="#FFC0E5"/>
<rect x="289" y="669" width="11" height="11" fill="#FFC0E5"/>
<rect x="301" y="669" width="11" height="11" fill="#C7C1FF"/>
<rect x="313" y="669" width="11" height="11" fill="#C7C1FF"/>
<rect x="325" y="669" width="11" height="11" fill="#FF8888"/>
<rect x="337" y="669" width="11" height="11" fill="#2700D1"/>
<rect x="349" y="669" width="11" height="11" fill="#6B58EF"/>
<rect x="361" y="669" width="11" height="11" fill="#4500AD"/>
<rect x="373" y="669" width="11" height="11" fill="#4500AD"/>
<rect x="385" y="669" width="11" height="11" fill="#C7C1FF"/>
<rect x="397" y="669" width="11" height="11" fill="#FF8888"/>
<rect x="409" y="669" width="11" height="11" fill="#D60C00"/>
<rect x="421" y="669" width="11" height="11" fill="#D5D5FF"/>
<rect x="433" y="669" width="11" height="11" fill="#FF5A5A"/>
<rect x="445" y="669" width="11" height="11" fill="#2700D1"/>
<rect x="457" y="669" width="11" height="11" fill="#8888FF"/>
<rect x="469" y="669" width="11" height="11" fill="#4500AD"/>
<rect x="481" y="669" width="11" height="11" fill="#6B58EF"/>
<rect x="493" y="669" width="11" height="11" fill="#FF8888"/>
<rect x="505" y="669" width="11" height="11" fill="#FF7080"/>
<rect x="517" y="669" width="11" height="11" fill="#8888FF"/>
<rect x="529" y="669" width="11" height="11" fill="#C7C1FF"/>
<rect x="541" y="669" width="11" height="11" fill="#2700D1"/>
<rect x="553" y="669" width="11" height="11" fill="#FF8888"/>
<rect x="565" y="669" width="11" height="11" fill="#4500AD"/>
<rect x="577" y="669" width="11" height="11" fill="#2700D1"/>
<rect x="589" y="669" width="11" height="11" fill="#FF8888"/>
<rect x="1" y="681" width="11" height="11" fill="#6B58EF"/>
<rect x="13" y="681" width="11" height="11" fill="#2700D1"/>
<rect x="25" y="681" width="11" height="11" fill="#4500AD"/>
<rect x="37" y="681" width="11" height="11" fill="#6B58EF"/>
<rect x="49" y="681" width="11" height="11" fill="#2700D1"/>
<rect x="61" y="681" width="11" height="11" fill="#4500AD"/>
<rect x="73" y="681" width="11" height="11" fill="#6B58EF"/>
<rect x="85" y="681" width="11" height="11" fill="#D5D5FF"/>
<rect x="97" y="681" width="11" height="11" fill="#2700D1"/>
<rect x="109" y="681" width="11" height="11" fill="#6B58EF"/>
<rect x="121" y="681" width="11" height="11" fill="#4500AD"/>
<rect x="133" y="681" width="11" height="11" fill="#FF8888"/>
<rect x="145" y="681" width="11" height="11" fill="#2700D1"/>
<rect x="157" y="681" width="11" height="11" fill="#D60C00"/>
<rect x="169" y="681" width="11" height="11" fill="#C7C1FF"/>
<rect x="181" y="681" width="11" height="11" fill="#FFC0E5"/>
<rect x="193" y="681" width="11" height="11" fill="#6B58EF"/>
<rect x="205" y="681" width="11" height="11" fill="#6B58EF"/>
<rect x="217" y="681" width="11" height="11" fill="#4500AD"/>
<rect x="229" y="681" width="11" height="11" fill="#8888FF"/>
<rect x="241" y="681" width="11" height="11" fill="#C7C1FF"/>
<rect x="253" y="681" width="11" height="11" fill="#C7C1FF"/>
<rect x="265" y="681" width="11" height="11" fill="#8888FF"/>
<rect x="277" y="681" width="11" height="11" fill="#6B58EF"/>
<rect x="289" y="681" width="11" height="11" fill="#FFC0E5"/>
<rect x="301" y="681" width="11" height="11" fill="#FFC0E5"/>
<rect x="313" y="681" width="11" height="11" fill="#FFC0E5"/>
<rect x="325" y="681" width="11" height="11" fill="#8888FF"/>
<rect x="337" y="681" width="11" height="11" fill="#FFC0E5"/>
<rect x="349" y="681" width="11" height="11" fill="#FFC0E5"/>
<rect x="361" y="681" width="11" height="11" fill="#4500AD"/>
<rect x="373" y="681" width="11" height="11" fill="#2700D1"/>
<rect x="385" y="681" width="11" height="11" fill="#FFC0E5"/>
<rect x="397" y="681" width="11" height="11" fill="#2700D1"/>
<rect x="409" y="681" width="11" height="11" fill="#2700D1"/>
<rect x="421" y="681" width="11" height="11" fill="#6B58EF"/>
<rect x="433" y="681" width="11" height="11" fill="#FFC0E5"/>
<rect x="445" y="681" width="11" height="11" fill="#C7C1FF"/>
<rect x="457" y="681" width="11" height="11" fill="#2700D1"/>
<rect x="469" y="681" width="11" height="11" fill="#D60C00"/>
<rect x="481" y="681" width="11" height="11" fill="#2700D1"/>
<rect x="493" y="681" width="11" height="11" fill="#2700D1"/>
<rect x="505" y="681" width="11" height="11" fill="#4500AD"/>
<rect x="517" y="681" width="11" height="11" fill="#D5D5FF"/>
<rect x="529" y="681" width="11" height="11" fill="#FFC0E5"/>
<rect x="541" y="681" width="11" height="11" fill="#FF7080"/>
<rect x="553" y="681" width="11" height="11" fill="#4500AD"/>
<rect x="565" y="681" width="11" height="11" fill="#FF5A5A"/>
<rect x="577" y="681" width="11" height="11" fill="#6B58EF"/>
<rect x="589" y="681" width="11" height="11" fill="#D5D5FF"/>
<rect x="1" y="693" width="11" height="11" fill="#FF8888"/>
<rect x="13" y="693" width="11" height="11" fill="#FFC0E5"/>
<rect x="25" y="693" width="11" height="11" fill="#8888FF"/>
<rect x="37" y="693" width="11" height="11" fill="#C7C1FF"/>
<rect x="49" y="693" width="11" height="11" fill="#4500AD"/>
<rect x="61" y="693" width="11" height="11" fill="#8888FF"/>
<rect x="73" y="693" width="11" height="11" fill="#4500AD"/>
<rect x="85" y="693" width="11" height="11" fill="#FF5A5A"/>
<rect x="97" y="693" width="11" height="11" fill="#2700D1"/>
<rect x="109" y="693" width="11" height="11" fill="#C7C1FF"/>
<rect x="121" y="693" width="11" height="11" fill="#4500AD"/>
<rect x="133" y="693" width="11" height="11" fill="#C7C1FF"/>
<rect x="145" y="693" width="11" height="11" fill="#6B58EF"/>
<rect x="157" y="693" width="11" height="11" fill="#8888FF"/>
<rect x="169" y="693" width="11" height="11" fill="#8888FF"/>
<rect x="181" y="693" width="11" height="11" fill="#FFC0E5"/>
<rect x="193" y="693" width="11" height="11" fill="#4500AD"/>
<rect x="205" y="693" width="11" height="11" fill="#FFC0E5"/>
<rect x="217" y="693" width="11" height="11" fill="#2700D1"/>
<rect x="229" y="693" width="11" height="11" fill="#2700D1"/>
<rect x="241" y="693" width="11" height="11" fill="#FFC0E5"/>
<rect x="253" y="693" width="11" height="11" fill="#C7C1FF"/>
<rect x="265" y="693" width="11" height="11" fill="#D5D5FF"/>
<rect x="277" y="693" width="11" height="11" fill="#8888FF"/>
<rect x="289" y="693" width="11" height="11" fill="#C7C1FF"/>
<rect x="301" y="693" width="11" height="11" fill="#FF8888"/>
<rect x="313" y="693" width="11" height="11" fill="#FFC0E5"/>
<rect x="325" y="693" width="11" height="11" fill="#FF8888"/>
<rect x="337" y="693" width="11" height="11" fill="#6B58EF"/>
<rect x="349" y="693" width="11" height="11" fill="#D5D5FF"/>
<rect x="361" y="693" width="11" height="11" fill="#4500AD"/>
<rect x="373" y="693" width="11" height="11" fill="#C7C1FF"/>
<rect x="385" y="693" width="11" height="11" fill="#C7C1FF"/>
<rect x="397" y="693" width="11" height="11" fill="#FFC0E5"/>
<rect x="409" y="693" width="11" height="11" fill="#2700D1"/>
<rect x="421" y="693" width="11" height="11" fill="#FF8888"/>
<rect x="433" y="693" width="11" height="11" fill="#D5D5FF"/>
<rect x="445" y="693" width="11" height="11" fill="#6B58EF"/>
<rect x="457" y="693" width="11" height="11" fill="#FFC0E5"/>
<rect x="469" y="693" width="11" height="11" fill="#D5D5FF"/>
<rect x="481" y="693" width="11" height="11" fill="#C7C1FF"/>
<rect x="493" y="693" width="11" height="11" fill="#FFC0E5"/>
<rect x="505" y="693" width="11" height="11" fill="#D5D5FF"/>
<rect x="517" y="693" width="11" height="11" fill="#4500AD"/>
<rect x="529" y="693" width="11" height="11" fill="#FFC0E5"/>
<rect x="541" y="693" width="11" height="11" fill="#C7C1FF"/>
<rect x="553" y="693" width="11" height="11" fill="#D60C00"/>
<rect x="565" y="693" width="11" height="11" fill="#2700D1"/>
<rect x="577" y="693" width="11" height="11" fill="#6B58EF"/>
<rect x="589" y="693" width="11" height="11" fill="#FFC0E5"/>
<rect x="1" y="705" width="11" height="11" fill="#D5D5FF"/>
<rect x="13" y="705" width="11" height="11" fill="#EF4040"/>
<rect x="25" y="705" width="11" height="11" fill="#2700D1"/>
<rect x="37" y="705" width="11" height="11" fill="#FFC0E5"/>
<rect x="49" y="705" width="11" height="11" fill="#8888FF"/>
<rect x="61" y="705" width="11" height="11" fill="#C7C1FF"/>
<rect x="73" y="705" width="11" height="11" fill="#6B58EF"/>
<rect x="85" y="705" width="11" height="11" fill="#8888FF"/>
<rect x="97" y="705" width="11" height="11" fill="#8888FF"/>
<rect x="109" y="705" width="11" height="11" fill="#6B58EF"/>
<rect x="121" y="705" width="11" height="11" fill="#EF4040"/>
<rect x="133" y="705" width="11" height="11" fill="#6B58EF"/>
<rect x="145" y="705" width="11" height="11" fill="#C7C1FF"/>
<rect x="157" y="705" width="11" height="11" fill="#FFC0E5"/>
<rect x="169" y="705" width="11" height="11" fill="#8888FF"/>
<rect x="181" y="705" width="11" height="11" fill="#C7C1FF"/>
<rect x="193" y="705" width="11" height="11" fill="#8888FF"/>
<rect x="205" y="705" width="11" height="11" fill="#4500AD"/>
<rect x="217" y="705" width="11" height="11" fill="#FF8888"/>
<rect x="229" y="705" width="11" height="11" fill="#4500AD"/>
<rect x="241" y="705" width="11" height="11" fill="#FF5A5A"/>
<rect x="253" y="705" width="11" height="11" fill="#8888FF"/>
<rect x="265" y="705" width="11" height="11" fill="#6B58EF"/>
<rect x="277" y="705" width="11" height="11" fill="#6B58EF"/>
<rect x="289" y="705" width="11" height="11" fill="#8888FF"/>
<rect x="301" y="705" width="11" height="11" fill="#FF8888"/>
<rect x="313" y="705" width="11" height="11" fill="#FF7080"/>
<rect x="325" y="705" width="11" height="11" fill="#FF8888"/>
<rect x="337" y="705" width="11" height="11" fill="#4500AD"/>
<rect x="349" y="705" width="11" height="11" fill="#6B58EF"/>
<rect x="361" y="705" width="11" height="11" fill="#4500AD"/>
<rect x="373" y="705" width="11" height="11" fill="#FF7080"/>
<rect x="385" y="705" width="11" height="11" fill="#6B58EF"/>
<rect x="397" y="705" width="11" height="11" fill="#FFC0E5"/>
<rect x="409" y="705" width="11" height="11" fill="#6B58EF"/>
<rect x="421" y="705" width="11" height="11" fill="#D5D5FF"/>
<rect x="433" y="705" width="11" height="11" fill="#D5D5FF"/>
<rect x="445" y="705" width="11" height="11" fill="#6B58EF"/>
<rect x="457" y="705" width="11" height="11" fill="#D60C00"/>
<rect x="469" y="705" width="11" height="11" fill="#FF8888"/>
<rect x="481" y="705" width="11" height="11" fill="#4500AD"/>
<rect x="493" y="705" width="11" height="11" fill="#8888FF"/>
<rect x="505" y="705" width="11" height="11" fill="#C7C1FF"/>
<rect x="517" y="705" width="11" height="11" fill="#2700D1"/>
<rect x="529" y="705" width="11" height="11" fill="#D60C00"/>
<rect x="541" y="705" width="11" height="11" fill="#FFC0E5"/>
<rect x="553" y="705" width="11" height="11" fill="#D5D5FF"/>
<rect x="565" y="705" width="11" height="11" fill="#D5D5FF"/>
<rect x="577" y="705" width="11" height="11" fill="#D60C00"/>
<rect x="589" y="705" width="11" height="11" fill="#6B58EF"/>
<rect x="1" y="717" width="11" height="11" fill="#FF7080"/>
<rect x="13" y="717" width="11" height="11" fill="#D5D5FF"/>
<rect x="25" y="717" width="11" height="11" fill="#FFC0E5"/>
<rect x="37" y="717" width="11" height="11" fill="#4500AD"/>
<rect x="49" y="717" width="11" height="11" fill="#6B58EF"/>
<rect x="61" y="717" width="11" height="11" fill="#FFC0E5"/>
<rect x="73" y="717" width="11" height="11" fill="#C7C1FF"/>
<rect x="85" y="717" width="11" height="11" fill="#C7C1FF"/>
<rect x="97" y="717" width="11" height="11" fill="#6B58EF"/>
<rect x="109" y="717" width="11" height="11" fill="#6B58EF"/>
<rect x="121" y="717" width="11" height="11" fill="#8888FF"/>
<rect x="133" y="717" width="11" height="11" fill="#FFC0E5"/>
<rect x="145" y="717" width="11" height="11" fill="#FFC0E5"/>
<rect x="157" y="717" width="11" height="11" fill="#FF8888"/>
<rect x="169" y="717" width="11" height="11" fill="#6B58EF"/>
<rect x="181" y="717" width="11" height="11" fill="#C7C1FF"/>
<rect x="193" y="717" width="11" height="11" fill="#FF8888"/>
<rect x="205" y="717" width="11" height="11" fill="#FFC0E5"/>
<rect x="217" y="717" width="11" height="11" fill="#C7C1FF"/>
<rect x="229" y="717" width="11" height="11" fill="#FF5A5A"/>
<rect x="241" y="717" width="11" height="11" fill="#2700D1"/>
<rect x="253" y="717" width="11" height="11" fill="#D5D5FF"/>
<rect x="265" y="717" width="11" height="11" fill="#C7C1FF"/>
<rect x="277" y="717" width="11" height="11" fill="#8888FF"/>
<rect x="289" y="717" width="11" height="11" fill="#FF8888"/>
<rect x="301" y="717" width="11" height="11" fill="#D5D5FF"/>
<rect x="313" y="717" width="11" height="11" fill="#FF8888"/>
<rect x="325" y="717" width="11" height="11" fill="#FF5A5A"/>
<rect x="337" y="717" width="11" height="11" fill="#FFC0E5"/>
<rect x="349" y="717" width="11" height="11" fill="#D5D5FF"/>
<rect x="361" y="717" width="11" height="11" fill="#6B58EF"/>
<rect x="373" y="717" width="11" height="11" fill="#D5D5FF"/>
<rect x="385" y="717" width="11" height="11" fill="#8888FF"/>
<rect x="397" y="717" width="11" height="11" fill="#FFC0E5"/>
<rect x="409" y="717" width="11" height="11" fill="#C7C1FF"/>
<rect x="421" y="717" width="11" height="11" fill="#FF8888"/>
<rect x="433" y="717" width="11" height="11" fill="#C7C1FF"/>
<rect x="445" y="717" width="11" height="11" fill="#2700D1"/>
<rect x="457" y="717" width="11" height="11" fill="#6B58EF"/>
<rect x="469" y="717" width="11" height="11" fill="#FF8888"/>
<rect x="481" y="717" width="11" height="11" fill="#8888FF"/>
<rect x="493" y="717" width="11" height="11" fill="#FFC0E5"/>
<rect x="505" y="717" width="11" height="11" fill="#C7C1FF"/>
<rect x="517" y="717" width="11" height="11" fill="#FFC0E5"/>
<rect x="529" y="717" width="11" height="11" fill="#FF8888"/>
<rect x="541" y="717" width="11" height="11" fill="#EF4040"/>
<rect x="553" y="717" width="11" height="11" fill="#D60C00"/>
<rect x="565" y="717" width="11" height="11" fill="#D5D5FF"/>
<rect x="577" y="717" width="11" height="11" fill="#FF8888"/>
<rect x="589" y="717" width="11" height="11" fill="#8888FF"/>
<rect x="1" y="729" width="11" height="11" fill="#C7C1FF"/>
<rect x="13" y="729" width="11" height="11" fill="#FF7080"/>
<rect x="25" y="729" width="11" height="11" fill="#4500AD"/>
<rect x="37" y="729" width="11" height="11" fill="#C7C1FF"/>
<rect x="49" y="729" width="11" height="11" fill="#C7C1FF"/>
<rect x="61" y="729" width="11" height="11" fill="#FFC0E5"/>
<rect x="73" y="729" width="11" height="11" fill="#4500AD"/>
<rect x="85" y="729" width="11" height="11" fill="#8888FF"/>
<rect x="97" y="729" width="11" height="11" fill="#FFC0E5"/>
<rect x="109" y="729" width="11" height="11" fill="#FF8888"/>
<rect x="121" y="729" width="11" height="11" fill="#6B58EF"/>
<rect x="133" y="729" width="11" height="11" fill="#D5D5FF"/>
<rect x="145" y="729" width="11" height="11" fill="#FF8888"/>
<rect x="157" y="729" width="11" height="11" fill="#8888FF"/>
<rect x="169" y="729" width="11" height="11" fill="#6B58EF"/>
<rect x="181" y="729" width="11" height="11" fill="#FFC0E5"/>
<rect x="193" y="729" width="11" height="11" fill="#FFC0E5"/>
<rect x="205" y="729" width="11" height="11" fill="#2700D1"/>
<rect x="217" y="729" width="11" height="11" fill="#8888FF"/>
<rect x="229" y="729" width="11" height="11" fill="#2700D1"/>
<rect x="241" y="729" width="11" height="11" fill="#FF7080"/>
<rect x="253" y="729" width="11" height="11" fill="#6B58EF"/>
<rect x="265" y="729" width="11" height="11" fill="#FF8888"/>
<rect x="277" y="729" width="11" height="11" fill="#FF7080"/>
<rect x="289" y="729" width="11" height="11" fill="#2700D1"/>
<rect x="301" y="729" width="11" height="11" fill="#D5D5FF"/>
<rect x="313" y="729" width="11" height="11" fill="#FFC0E5"/>
<rect x="325" y="729" width="11" height="11" fill="#4500AD"/>
<rect x="337" y="729" width="11" height="11" fill="#2700D1"/>
<rect x="349" y="729" width="11" height="11" fill="#2700D1"/>
<rect x="361" y="729" width="11" height="11" fill="#D5D5FF"/>
<rect x="373" y="729" width="11" height="11" fill="#FFC0E5"/>
<rect x="385" y="729" width="11" height="11" fill="#4500AD"/>
<rect x="397" y="729" width="11" height="11" fill="#FFC0E5"/>
<rect x="409" y="729" width="11" height="11" fill="#FF8888"/>
<rect x="421" y="729" width="11" height="11" fill="#FFC0E5"/>
<rect x="433" y="729" width="11" height="11" fill="#D60C00"/>
<rect x="445" y="729" width="11" height="11" fill="#C7C1FF"/>
<rect x="457" y="729" width="11" height="11" fill="#D5D5FF"/>
<rect x="469" y="729" width="11" height="11" fill="#8888FF"/>
<rect x="481" y="729" width="11" height="11" fill="#FF7080"/>
<rect x="493" y="729" width="11" height="11" fill="#4500AD"/>
<rect x="505" y="729" width="11" height="11" fill="#FFC0E5"/>
<rect x="517" y="729" width="11" height="11" fill="#FFC0E5"/>
<rect x="529" y="729" width="11" height="11" fill="#8888FF"/>
<rect x="541" y="729" width="11" height="11" fill="#8888FF"/>
<rect x="553" y="729" width="11" height="11" fill="#2700D1"/>
<rect x="565" y="729" width="11" height="11" fill="#FFC0E5"/>
<rect x="577" y="729" width="11" height="11" fill="#C7C1FF"/>
<rect x="589" y="729" width="11" height="11" fill="#FFC0E5"/>
<rect x="1" y="741" width="11" height="11" fill="#FFC0E5"/>
<rect x="13" y="741" width="11" height="11" fill="#4500AD"/>
<rect x="25" y="741" width="11" height="11" fill="#2700D1"/>
<rect x="37" y="741" width="11" height="11" fill="#6B58EF"/>
<rect x="49" y="741" width="11" height="11" fill="#6B58EF"/>
<rect x="61" y="741" width="11" height="11" fill="#2700D1"/>
<rect x="73" y="741" width="11" height="11" fill="#C7C1FF"/>
<rect x="85" y="741" width="11" height="11" fill="#FFC0E5"/>
<rect x="97" y="741" width="11" height="11" fill="#FFC0E5"/>
<rect x="109" y="741" width="11" height="11" fill="#4500AD"/>
<rect x="121" y="741" width="11" height="11" fill="#FFC0E5"/>
<rect x="133" y="741" width="11" height="11" fill="#FFC0E5"/>
<rect x="145" y="741" width="11" height="11" fill="#FFC0E5"/>
<rect x="157" y="741" width="11" height="11" fill="#6B58EF"/>
<rect x="169" y="741" width="11" height="11" fill="#FF8888"/>
<rect x="181" y="741" width="11" height="11" fill="#2700D1"/>
<rect x="193" y="741" width="11" height="11" fill="#4500AD"/>
<rect x="205" y="741" width="11" height="11" fill="#6B58EF"/>
<rect x="217" y="741" width="11" height="11" fill="#4500AD"/>
<rect x="229" y="741" width="11" height="11" fill="#8888FF"/>
<rect x="241" y="741" width="11" height="11" fill="#FF8888"/>
<rect x="253" y="741" width="11" height="11" fill="#2700D1"/>
<rect x="265" y="741" width="11" height="11" fill="#D5D5FF"/>
<rect x="277" y="741" width="11" height="11" fill="#6B58EF"/>
<rect x="289" y="741" width="11" height="11" fill="#2700D1"/>
<rect x="301" y="741" width="11" height="11" fill="#D5D5FF"/>
<rect x="313" y="741" width="11" height="11" fill="#2700D1"/>
<rect x="325" y="741" width="11" height="11" fill="#D5D5FF"/>
<rect x="337" y="741" width="11" height="11" fill="#6B58EF"/>
<rect x="349" y="741" width="11" height="11" fill="#FFC0E5"/>
<rect x="361" y="741" width="11" height="11" fill="#FF8888"/>
<rect x="373" y="741" width="11" height="11" fill="#4500AD"/>
<rect x="385" y="741" width="11" height="11" fill="#2700D1"/>
<rect x="397" y="741" width="11" height="11" fill="#FFC0E5"/>
<rect x="409" y="741" width="11" height="11" fill="#2700D1"/>
<rect x="421" y="741" width="11" height="11" fill="#FFC0E5"/>
<rect x="433" y="741" width="11" height="11" fill="#FFC0E5"/>
<rect x="445" y="741" width="11" height="11" fill="#4500AD"/>
<rect x="457" y="741" width="11" height="11" fill="#FFC0E5"/>
<rect x="469" y="741" width="11" height="11" fill="#6B58EF"/>
<rect x="481" y="741" width="11" height="11" fill="#D60C00"/>
<rect x="493" y="741" width="11" height="11" fill="#FFC0E5"/>
<rect x="505" y="741" width="11" height="11" fill="#8888FF"/>
<rect x="517" y="741" width="11" height="11" fill="#8888FF"/>
<rect x="529" y="741" width="11" height="11" fill="#2700D1"/>
<rect x="541" y="741" width="11" height="11" fill="#4500AD"/>
<rect x="553" y="741" width="11" height="11" fill="#FF7080"/>
<rect x="565" y="741" width="11" height="11" fill="#8888FF"/>
<rect x="577" y="741" width="11" height="11" fill="#6B58EF"/>
<rect x="589" y="741" width="11" height="11" fill="#C7C1FF"/>
<rect x="1" y="753" width="11" height="11" fill="#2700D1"/>
<rect x="13" y="753" width="11" height="11" fill="#FF8888"/>
<rect x="25" y="753" width="11" height="11" fill="#8888FF"/>
<rect x="37" y="753" width="11" height="11" fill="#8888FF"/>
<rect x="49" y="753" width="11" height="11" fill="#8888FF"/>
<rect x="61" y="753" width="11" height="11" fill="#6B58EF"/>
<rect x="73" y="753" width="11" height="11" fill="#FFC0E5"/>
<rect x="85" y="753" width="11" height="11" fill="#C7C1FF"/>
<rect x="97" y="753" width="11" height="11" fill="#8888FF"/>
<rect x="109" y="753" width="11" height="11" fill="#2700D1"/>
<rect x="121" y="753" width="11" height="11" fill="#FF8888"/>
<rect x="133" y="753" width="11" height="11" fill="#8888FF"/>
<rect x="145" y="753" width="11" height="11" fill="#6B58EF"/>
<rect x="157" y="753" width="11" height="11" fill="#D60C00"/>
<rect x="169" y="753" width="11" height="11" fill="#D5D5FF"/>
<rect x="181" y="753" width="11" height="11" fill="#FF7080"/>
<rect x="193" y="753" width="11" height="11" fill="#8888FF"/>
<rect x="205" y="753" width="11" height="11" fill="#D5D5FF"/>
<rect x="217" y="753" width="11" height="11" fill="#6B58EF"/>
<rect x="229" y="753" width="11" height="11" fill="#4500AD"/>
<rect x="241" y="753" width="11" height="11" fill="#8888FF"/>
<rect x="253" y="753" width="11" height="11" fill="#8888FF"/>
<rect x="265" y="753" width="11" height="11" fill="#6B58EF"/>
<rect x="277" y="753" width="11" height="11" fill="#D5D5FF"/>
<rect x="289" y="753" width="11" height="11" fill="#8888FF"/>
<rect x="301" y="753" width="11" height="11" fill="#8888FF"/>
<rect x="313" y="753" width="11" height="11" fill="#FFC0E5"/>
<rect x="325" y="753" width="11" height="11" fill="#C7C1FF"/>
<rect x="337" y="753" width="11" height="11" fill="#D5D5FF"/>
<rect x="349" y="753" width="11" height="11" fill="#FFC0E5"/>
<rect x="361" y="753" width="11" height="11" fill="#2700D1"/>
<rect x="373" y="753" width="11" height="11" fill="#6B58EF"/>
<rect x="385" y="753" width="11" height="11" fill="#6B58EF"/>
<rect x="397" y="753" width="11" height="11" fill="#FFC0E5"/>
<rect x="409" y="753" width="11" height="11" fill="#D5D5FF"/>
<rect x="421" y="753" width="11" height="11" fill="#8888FF"/>
<rect x="433" y="753" width="11" height="11" fill="#D5D5FF"/>
<rect x="445" y="753" width="11" height="11" fill="#8888FF"/>
<rect x="457" y="753" width="11" height="11" fill="#FFC0E5"/>
<rect x="469" y="753" width="11" height="11" fill="#FF8888"/>
<rect x="481" y="753" width="11" height="11" fill="#C7C1FF"/>
<rect x="493" y="753" width="11" height="11" fill="#6B58EF"/>
<rect x="505" y="753" width="11" height="11" fill="#C7C1FF"/>
<rect x="517" y="753" width="11" height="11" fill="#2700D1"/>
<rect x="529" y="753" width="11" height="11" fill="#FF8888"/>
<rect x="541" y="753" width="11" height="11" fill="#FF7080"/>
<rect x="553" y="753" width="11" height="11" fill="#C7C1FF"/>
<rect x="565" y="753" width="11" height="11" fill="#FF8888"/>
<rect x="577" y="753" width="11" height="11" fill="#D60C00"/>
<rect x="589" y="753" width="11" height="11" fill="#8888FF"/>
<rect x="1" y="765" width="11" height="11" fill="#FFC0E5"/>
<rect x="13" y="765" width="11" height="11" fill="#D5D5FF"/>
<rect x="25" y="765" width="11" height="11" fill="#6B58EF"/>
<rect x="37" y="765" width="11" height="11" fill="#D5D5FF"/>
<rect x="49" y="765" width="11" height="11" fill="#FF8888"/>
<rect x="61" y="765" width="11" height="11" fill="#FF8888"/>
<rect x="73" y="765" width="11" height="11" fill="#D5D5FF"/>
<rect x="85" y="765" width="11" height="11" fill="#FFC0E5"/>
<rect x="97" y="765" width="11" height="11" fill="#FFC0E5"/>
<rect x="109" y="765" width="11" height="11" fill="#FF7080"/>
<rect x="121" y="765" width="11" height="11" fill="#FF8888"/>
<rect x="133" y="765" width="11" height="11" fill="#4500AD"/>
<rect x="145" y="765" width="11" height="11" fill="#C7C1FF"/>
<rect x="157" y="765" width="11" height="11" fill="#4500AD"/>
<rect x="169" y="765" width="11" height="11" fill="#FFC0E5"/>
<rect x="181" y="765" width="11" height="11" fill="#4500AD"/>
<rect x="193" y="765" width="11" height="11" fill="#C7C1FF"/>
<rect x="205" y="765" width="11" height="11" fill="#FF8888"/>
<rect x="217" y="765" width="11" height="11" fill="#C7C1FF"/>
<rect x="229" y="765" width="11" height="11" fill="#4500AD"/>
<rect x="241" y="765" width="11" height="11" fill="#6B58EF"/>
<rect x="253" y="765" width="11" height="11" fill="#C7C1FF"/>
<rect x="265" y="765" width="11" height="11" fill="#2700D1"/>
<rect x="277" y="765" width="11" height="11" fill="#FFC0E5"/>
<rect x="289" y="765" width="11" height="11" fill="#6B58EF"/>
<rect x="301" y="765" width="11" height="11" fill="#FFC0E5"/>
<rect x="313" y="765" width="11" height="11" fill="#2700D1"/>
<rect x="325" y="765" width="11" height="11" fill="#D5D5FF"/>
<rect x="337" y="765" width="11" height="11" fill="#4500AD"/>
<rect x="349" y="765" width="11" height="11" fill="#6B58EF"/>
<rect x="361" y="765" width="11" height="11" fill="#8888FF"/>
<rect x="373" y="765" width="11" height="11" fill="#8888FF"/>
<rect x="385" y="765" width="11" height="11" fill="#2700D1"/>
<rect x="397" y="765" width="11" height="11" fill="#FFC0E5"/>
<rect x="409" y="765" width="11" height="11" fill="#FFC0E5"/>
<rect x="421" y="765" width="11" height="11" fill="#FFC0E5"/>
<rect x="433" y="765" width="11" height="11" fill="#FFC0E5"/>
<rect x="445" y="765" width="11" height="11" fill="#FFC0E5"/>
<rect x="457" y="765" width="11" height="11" fill="#FFC0E5"/>
<rect x="469" y="765" width="11" height="11" fill="#4500AD"/>
<rect x="481" y="765" width="11" height="11" fill="#2700D1"/>
<rect x="493" y="765" width="11" height="11" fill="#2700D1"/>
<rect x="505" y="765" width="11" height="11" fill="#FF8888"/>
<rect x="517" y="765" width="11" height="11" fill="#8888FF"/>
<rect x="529" y="765" width="11" height="11" fill="#FF7080"/>
<rect x="541" y="765" width="11" height="11" fill="#6B58EF"/>
<rect x="553" y="765" width="11" height="11" fill="#D60C00"/>
<rect x="565" y="765" width="11" height="11" fill="#2700D1"/>
<rect x="577" y="765" width="11" height="11" fill="#8888FF"/>
<rect x="589" y="765" width="11" height="11" fill="#FFC0E5"/>
<rect x="1" y="777" width="11" height="11" fill="#FFC0E5"/>
<rect x="13" y="777" width="11" height="11" fill="#4500AD"/>
<rect x="25" y="777" width="11" height="11" fill="#2700D1"/>
<rect x="37" y="777" width="11" height="11" fill="#FF8888"/>
<rect x="49" y="777" width="11" height="11" fill="#4500AD"/>
<rect x="61" y="777" width="11" height="11" fill="#D5D5FF"/>
<rect x="73" y="777" width="11" height="11" fill="#C7C1FF"/>
<rect x="85" y="777" width="11" height="11" fill="#D5D5FF"/>
<rect x="97" y="777" width="11" height="11" fill="#D5D5FF"/>
<rect x="109" y="777" width="11" height="11" fill="#6B58EF"/>
<rect x="121" y="777" width="11" height="11" fill="#FF8888"/>
<rect x="133" y="777" width="11" height="11" fill="#4500AD"/>
<rect x="145" y="777" width="11" height="11" fill="#8888FF"/>
<rect x="157" y="777" width="11" height="11" fill="#C7C1FF"/>
<rect x="169" y="777" width="11" height="11" fill="#FFC0E5"/>
<rect x="181" y="777" width="11" height="11" fill="#FF8888"/>
<rect x="193" y="777" width="11" height="11" fill="#4500AD"/>
<rect x="205" y="777" width="11" height="11" fill="#D5D5FF"/>
<rect x="217" y="777" width="11" height="11" fill="#4500AD"/>
<rect x="229" y="777" width="11" height="11" fill="#FFC0E5"/>
<rect x="241" y="777" width="11" height="11" fill="#D60C00"/>
<rect x="253" y="777" width="11" height="11" fill="#8888FF"/>
<rect x="265" y="777" width="11" height="11" fill="#4500AD"/>
<rect x="277" y="777" width="11" height="11" fill="#FFC0E5"/>
<rect x="289" y="777" width="11" height="11" fill="#6B58EF"/>
<rect x="301" y="777" width="11" height="11" fill="#FF8888"/>
<rect x="313" y="777" width="11" height="11" fill="#FFC0E5"/>
<rect x="325" y="777" width="11" height="11" fill="#FF8888"/>
<rect x="337" y="777" width="11" height="11" fill="#FF8888"/>
<rect x="349" y="777" width="11" height="11" fill="#6B58EF"/>
<rect x="361" y="777" width="11" height="11" fill="#C7C1FF"/>
<rect x="373" y="777" width="11" height="11" fill="#2700D1"/>
<rect x="385" y="777" width="11" height="11" fill="#FF5A5A"/>
<rect x="397" y="777" width="11" height="11" fill="#FF8888"/>
<rect x="409" y="777" width="11" height="11" fill="#6B58EF"/>
<rect x="421" y="777" width="11" height="11" fill="#C7C1FF"/>
<rect x="433" y="777" width="11" height="11" fill="#FF5A5A"/>
<rect x="445" y="777" width="11" height="11" fill="#D5D5FF"/>
<rect x="457" y="777" width="11" height="11" fill="#8888FF"/>
<rect x="469" y="777" width="11" height="11" fill="#FF8888"/>
<rect x="481" y="777" width="11" height="11" fill="#4500AD"/>
<rect x="493" y="777" width="11" height="11" fill="#2700D1"/>
<rect x="505" y="777" width="11" height="11" fill="#FF8888"/>
<rect x="517" y="777" width="11" height="11" fill="#FFC0E5"/>
<rect x="529" y="777" width="11" height="11" fill="#FF7080"/>
<rect x="541" y="777" width="11" height="11" fill="#D60C00"/>
<rect x="553" y="777" width="11" height="11" fill="#4500AD"/>
<rect x="565" y="777" width="11" height="11" fill="#FF8888"/>
<rect x="577" y="777" width="11" height="11" fill="#FF5A5A"/>
<rect x="589" y="777" width="11" height="11" fill="#D5D5FF"/>
<rect x="1" y="789" width="11" height="11" fill="#4500AD"/>
<rect x="13" y="789" width="11" height="11" fill="#8888FF"/>
<rect x="25" y="789" width="11" height="11" fill="#D60C00"/>
<rect x="37" y="789" width="11" height="11" fill="#FF8888"/>
<rect x="49" y="789" width="11" height="11" fill="#8888FF"/>
<rect x="61" y="789" width="11" height="11" fill="#FF8888"/>
<rect x="73" y="789" width="11" height="11" fill="#FF7080"/>
<rect x="85" y="789" width="11" height="11" fill="#2700D1"/>
<rect x="97" y="789" width="11" height="11" fill="#C7C1FF"/>
<rect x="109" y="789" width="11" height="11" fill="#4500AD"/>
<rect x="121" y="789" width="11" height="11" fill="#FF7080"/>
<rect x="133" y="789" width="11" height="11" fill="#FFC0E5"/>
<rect x="145" y="789" width="11" height="11" fill="#FFC0E5"/>
<rect x="157" y="789" width="11" height="11" fill="#FF8888"/>
<rect x="169" y="789" width="11" height="11" fill="#2700D1"/>
<rect x="181" y="789" width="11" height="11" fill="#8888FF"/>
<rect x="193" y="789" width="11" height="11" fill="#2700D1"/>
<rect x="205" y="789" width="11" height="11" fill="#FF8888"/>
<rect x="217" y="789" width="11" height="11" fill="#8888FF"/>
<rect x="229" y="789" width="11" height="11" fill="#6B58EF"/>
<rect x="241" y="789" width="11" height="11" fill="#8888FF"/>
<rect x="253" y="789" width="11" height="11" fill="#4500AD"/>
<rect x="265" y="789" width="11" height="11" fill="#6B58EF"/>
<rect x="277" y="789" width="11" height="11" fill="#C7C1FF"/>
<rect x="289" y="789" width="11" height="11" fill="#6B58EF"/>
<rect x="301" y="789" width="11" height="11" fill="#8888FF"/>
<rect x="313" y="789" width="11" height="11" fill="#6B58EF"/>
<rect x="325" y="789" width="11" height="11" fill="#2700D1"/>
<rect x="337" y="789" width="11" height="11" fill="#6B58EF"/>
<rect x="349" y="789" width="11" height="11" fill="#6B58EF"/>
<rect x="361" y="789" width="11" height="11" fill="#FF8888"/>
<rect x="373" y="789" width="11" height="11" fill="#6B58EF"/>
<rect x="385" y="789" width="11" height="11" fill="#8888FF"/>
<rect x="397" y="789" width="11" height="11" fill="#6B58EF"/>
<rect x="409" y="789" width="11" height="11" fill="#C7C1FF"/>
<rect x="421" y="789" width="11" height="11" fill="#C7C1FF"/>
<rect x="433" y="789" width="11" height="11" fill="#C7C1FF"/>
<rect x="445" y="789" width="11" height="11" fill="#FF8888"/>
<rect x="457" y="789" width="11" height="11" fill="#D5D5FF"/>
<rect x="469" y="789" width="11" height="11" fill="#FFC0E5"/>
<rect x="481" y="789" width="11" height="11" fill="#FF7080"/>
<rect x="493" y="789" width="11" height="11" fill="#D60C00"/>
<rect x="505" y="789" width="11" height="11" fill="#D5D5FF"/>
<rect x="517" y="789" width="11" height="11" fill="#6B58EF"/>
<rect x="529" y="789" width="11" height="11" fill="#D5D5FF"/>
<rect x="541" y="789" width="11" height="11" fill="#FFC0E5"/>
<rect x="553" y="789" width="11" height="11" fill="#FF8888"/>
<rect x="565" y="789" width="11" height="11" fill="#FF8888"/>
<rect x="577" y="789" width="11" height="11" fill="#C7C1FF"/>
<rect x="589" y="789" width="11" height="11" fill="#FFC0E5"/>
<rect x="1" y="801" width="11" height="11" fill="#FFC0E5"/>
<rect x="13" y="801" width="11" height="11" fill="#C7C1FF"/>
<rect x="25" y="801" width="11" height="11" fill="#D5D5FF"/>
<rect x="37" y="801" width="11" height="11" fill="#FF5A5A"/>
<rect x="49" y="801" width="11" height="11" fill="#FFC0E5"/>
<rect x="61" y="801" width="11" height="11" fill="#FF5A5A"/>
<rect x="73" y="801" width="11" height="11" fill="#FF5A5A"/>
<rect x="85" y="801" width="11" height="11" fill="#FF7080"/>
<rect x="97" y="801" width="11" height="11" fill="#FFC0E5"/>
<rect x="109" y="801" width="11" height="11" fill="#8888FF"/>
<rect x="121" y="801" width="11" height="11" fill="#EF4040"/>
<rect x="133" y="801" width="11" height="11" fill="#2700D1"/>
<rect x="145" y="801" width="11" height="11" fill="#FFC0E5"/>
<rect x="157" y="801" width="11" height="11" fill="#8888FF"/>
<rect x="169" y="801" width="11" height="11" fill="#C7C1FF"/>
<rect x="181" y="801" width="11" height="11" fill="#8888FF"/>
<rect x="193" y="801" width="11" height="11" fill="#8888FF"/>
<rect x="205" y="801" width="11" height="11" fill="#FFC0E5"/>
<rect x="217" y="801" width="11" height="11" fill="#2700D1"/>
<rect x="229" y="801" width="11" height="11" fill="#FF8888"/>
<rect x="241" y="801" width="11" height="11" fill="#FF7080"/>
<rect x="253" y="801" width="11" height="11" fill="#2700D1"/>
<rect x="265" y="801" width="11" height="11" fill="#6B58EF"/>
<rect x="277" y="801" width="11" height="11" fill="#FF7080"/>
<rect x="289" y="801" width="11" height="11" fill="#2700D1"/>
<rect x="301" y="801" width="11" height="11" fill="#6B58EF"/>
<rect x="313" y="801" width="11" height="11" fill="#D5D5FF"/>
<rect x="325" y="801" width="11" height="11" fill="#D60C00"/>
<rect x="337" y="801" width="11" height="11" fill="#4500AD"/>
<rect x="349" y="801" width="11" height="11" fill="#4500AD"/>
<rect x="361" y="801" width="11" height="11" fill="#8888FF"/>
<rect x="373" y="801" width="11" height="11" fill="#2700D1"/>
<rect x="385" y="801" width="11" height="11" fill="#4500AD"/>
<rect x="397" y="801" width="11" height="11" fill="#D5D5FF"/>
<rect x="409" y="801" width="11" height="11" fill="#FF5A5A"/>
<rect x="421" y="801" width="11" height="11" fill="#FF7080"/>
<rect x="433" y="801" width="11" height="11" fill="#8888FF"/>
<rect x="445" y="801" width="11" height="11" fill="#D60C00"/>
<rect x="457" y="801" width="11" height="11" fill="#EF4040"/>
<rect x="469" y="801" width="11" height="11" fill="#D5D5FF"/>
<rect x="481" y="801" width="11" height="11" fill="#2700D1"/>
<rect x="493" y="801" width="11" height="11" fill="#FF5A5A"/>
<rect x="505" y="801" width="11" height="11" fill="#D60C00"/>
<rect x="517" y="801" width="11" height="11" fill="#6B58EF"/>
<rect x="529" y="801" width="11" height="11" fill="#8888FF"/>
<rect x="541" y="801" width="11" height="11" fill="#6B58EF"/>
<rect x="553" y="801" width="11" height="11" fill="#FF5A5A"/>
<rect x="565" y="801" width="11" height="11" fill="#8888FF"/>
<rect x="577" y="801" width="11" height="11" fill="#C7C1FF"/>
<rect x="589" y="801" width="11" height="11" fill="#FF7080"/>
<rect x="1" y="813" width="11" height="11" fill="#FFC0E5"/>
<rect x="13" y="813" width="11" height="11" fill="#FF8888"/>
<rect x="25" y="813" width="11" height="11" fill="#6B58EF"/>
<rect x="37" y="813" width="11" height="11" fill="#8888FF"/>
<rect x="49" y="813" width="11" height="11" fill="#2700D1"/>
<rect x="61" y="813" width="11" height="11" fill="#8888FF"/>
<rect x="73" y="813" width="11" height="11" fill="#D5D5FF"/>
<rect x="85" y="813" width="11" height="11" fill="#D5D5FF"/>
<rect x="97" y="813" width="11" height="11" fill="#6B58EF"/>
<rect x="109" y="813" width="11" height="11" fill="#FF5A5A"/>
<rect x="121" y="813" width="11" height="11" fill="#FFC0E5"/>
<rect x="133" y="813" width="11" height="11" fill="#6B58EF"/>
<rect x="145" y="813" width="11" height="11" fill="#2700D1"/>
<rect x="157" y="813" width="11" height="11" fill="#2700D1"/>
<rect x="169" y="813" width="11" height="11" fill="#D5D5FF"/>
<rect x="181" y="813" width="11" height="11" fill="#4500AD"/>
<rect x="193" y="813" width="11" height="11" fill="#8888FF"/>
<rect x="205" y="813" width="11" height="11" fill="#8888FF"/>
<rect x="217" y="813" width="11" height="11" fill="#C7C1FF"/>
<rect x="229" y="813" width="11" height="11" fill="#6B58EF"/>
<rect x="241" y="813" width="11" height="11" fill="#FF5A5A"/>
<rect x="253" y="813" width="11" height="11" fill="#FF8888"/>
<rect x="265" y="813" width="11" height="11" fill="#2700D1"/>
<rect x="277" y="813" width="11" height="11" fill="#D5D5FF"/>
<rect x="289" y="813" width="11" height="11" fill="#D5D5FF"/>
<rect x="301" y="813" width="11" height="11" fill="#6B58EF"/>
<rect x="313" y="813" width="11" height="11" fill="#8888FF"/>
<rect x="325" y="813" width="11" height="11" fill="#EF4040"/>
<rect x="337" y="813" width="11" height="11" fill="#FF8888"/>
<rect x="349" y="813" width="11" height="11" fill="#EF4040"/>
<rect x="361" y="813" width="11" height="11" fill="#D5D5FF"/>
<rect x="373" y="813" width="11" height="11" fill="#6B58EF"/>
<rect x="385" y="813" width="11" height="11" fill="#FF8888"/>
<rect x="397" y="813" width="11" height="11" fill="#C7C1FF"/>
<rect x="409" y="813" width="11" height="11" fill="#D5D5FF"/>
<rect x="421" y="813" width="11" height="11" fill="#FF8888"/>
<rect x="433" y="813" width="11" height="11" fill="#FF8888"/>
<rect x="445" y="813" width="11" height="11" fill="#6B58EF"/>
<rect x="457" y="813" width="11" height="11" fill="#EF4040"/>
<rect x="469" y="813" width="11" height="11" fill="#2700D1"/>
<rect x="481" y="813" width="11" height="11" fill="#4500AD"/>
<rect x="493" y="813" width="11" height="11" fill="#D5D5FF"/>
<rect x="505" y="813" width="11" height="11" fill="#D60C00"/>
<rect x="517" y="813" width="11" height="11" fill="#D5D5FF"/>
<rect x="529" y="813" width="11" height="11" fill="#FFC0E5"/>
<rect x="541" y="813" width="11" height="11" fill="#FF8888"/>
<rect x="553" y="813" width="11" height="11" fill="#EF4040"/>
<rect x="565" y="813" width="11" height="11" fill="#D5D5FF"/>
<rect x="577" y="813" width="11" height="11" fill="#D5D5FF"/>
<rect x="589" y="813" width="11" height="11" fill="#D60C00"/>
<rect x="1" y="825" width="11" height="11" fill="#FF8888"/>
<rect x="13" y="825" width="11" height="11" fill="#4500AD"/>
<rect x="25" y="825" width="11" height="11" fill="#4500AD"/>
<rect x="37" y="825" width="11" height="11" fill="#FFC0E5"/>
<rect x="49" y="825" width="11" height="11" fill="#FFC0E5"/>
<rect x="61" y="825" width="11" height="11" fill="#C7C1FF"/>
<rect x="73" y="825" width="11" height="11" fill="#6B58EF"/>
<rect x="85" y="825" width="11" height="11" fill="#6B58EF"/>
<rect x="97" y="825" width="11" height="11" fill="#FF7080"/>
<rect x="109" y="825" width="11" height="11" fill="#6B58EF"/>
<rect x="121" y="825" width="11" height="11" fill="#D5D5FF"/>
<rect x="133" y="825" width="11" height="11" fill="#2700D1"/>
<rect x="145" y="825" width="11" height="11" fill="#8888FF"/>
<rect x="157" y="825" width="11" height="11" fill="#FFC0E5"/>
<rect x="169" y="825" width="11" height="11" fill="#8888FF"/>
<rect x="181" y="825" width="11" height="11" fill="#FF8888"/>
<rect x="193" y="825" width="11" height="11" fill="#FFC0E5"/>
<rect x="205" y="825" width="11" height="11" fill="#4500AD"/>
<rect x="217" y="825" width="11" height="11" fill="#C7C1FF"/>
<rect x="229" y="825" width="11" height="11" fill="#4500AD"/>
<rect x="241" y="825" width="11" height="11" fill="#6B58EF"/>
<rect x="253" y="825" width="11" height="11" fill="#FFC0E5"/>
<rect x="265" y="825" width="11" height="11" fill="#FFC0E5"/>
<rect x="277" y="825" width="11" height="11" fill="#C7C1FF"/>
<rect x="289" y="825" width="11" height="11" fill="#8888FF"/>
<rect x="301" y="825" width="11" height="11" fill="#FFC0E5"/>
<rect x="313" y="825" width="11" height="11" fill="#FFC0E5"/>
<rect x="325" y="825" width="11" height="11" fill="#FF8888"/>
<rect x="337" y="825" width="11" height="11" fill="#6B58EF"/>
<rect x="349" y="825" width="11" height="11" fill="#6B58EF"/>
<rect x="361" y="825" width="11" height="11" fill="#4500AD"/>
<rect x="373" y="825" width="11" height="11" fill="#6B58EF"/>
<rect x="385" y="825" width="11" height="11" fill="#2700D1"/>
<rect x="397" y="825" width="11" height="11" fill="#FF7080"/>
<rect x="409" y="825" width="11" height="11" fill="#FFC0E5"/>
<rect x="421" y="825" width="11" height="11" fill="#FF8888"/>
<rect x="433" y="825" width="11" height="11" fill="#FF8888"/>
<rect x="445" y="825" width="11" height="11" fill="#D5D5FF"/>
<rect x="457" y="825" width="11" height="11" fill="#FF7080"/>
<rect x="469" y="825" width="11" height="11" fill="#6B58EF"/>
<rect x="481" y="825" width="11" height="11" fill="#4500AD"/>
<rect x="493" y="825" width="11" height="11" fill="#4500AD"/>
<rect x="505" y="825" width="11" height="11" fill="#FF8888"/>
<rect x="517" y="825" width="11" height="11" fill="#4500AD"/>
<rect x="529" y="825" width="11" height="11" fill="#6B58EF"/>
<rect x="541" y="825" width="11" height="11" fill="#6B58EF"/>
<rect x="553" y="825" width="11" height="11" fill="#4500AD"/>
<rect x="565" y="825" width="11" height="11" fill="#C7C1FF"/>
<rect x="577" y="825" width="11" height="11" fill="#8888FF"/>
<rect x="589" y="825" width="11" height="11" fill="#D60C00"/>
<rect x="1" y="837" width="11" height="11" fill="#8888FF"/>
<rect x="13" y="837" width="11" height="11" fill="#FFC0E5"/>
<rect x="25" y="837" width="11" height="11" fill="#D5D5FF"/>
<rect x="37" y="837" width="11" height="11" fill="#FFC0E5"/>
<rect x="49" y="837" width="11" height="11" fill="#D5D5FF"/>
<rect x="61" y="837" width="11" height="11" fill="#FF8888"/>
<rect x="73" y="837" width="11" height="11" fill="#FFC0E5"/>
<rect x="85" y="837" width="11" height="11" fill="#C7C1FF"/>
<rect x="97" y="837" width="11" height="11" fill="#8888FF"/>
<rect x="109" y="837" width="11" height="11" fill="#FFC0E5"/>
<rect x="121" y="837" width="11" height="11" fill="#FF8888"/>
<rect x="133" y="837" width="11" height="11" fill="#4500AD"/>
<rect x="145" y="837" width="11" height="11" fill="#6B58EF"/>
<rect x="157" y="837" width="11" height="11" fill="#C7C1FF"/>
<rect x="169" y="837" width="11" height="11" fill="#FFC0E5"/>
<rect x="181" y="837" width="11" height="11" fill="#FFC0E5"/>
<rect x="193" y="837" width="11" height="11" fill="#C7C1FF"/>
<rect x="205" y="837" width="11" height="11" fill="#8888FF"/>
<rect x="217" y="837" width="11" height="11" fill="#D5D5FF"/>
<rect x="229" y="837" width="11" height="11" fill="#FFC0E5"/>
<rect x="241" y="837" width="11" height="11" fill="#8888FF"/>
<rect x="253" y="837" width="11" height="11" fill="#FF8888"/>
<rect x="265" y="837" width="11" height="11" fill="#C7C1FF"/>
<rect x="277" y="837" width="11" height="11" fill="#8888FF"/>
<rect x="289" y="837" width="11" height="11" fill="#C7C1FF"/>
<rect x="301" y="837" width="11" height="11" fill="#C7C1FF"/>
<rect x="313" y="837" width="11" height="11" fill="#8888FF"/>
<rect x="325" y="837" width="11" height="11" fill="#D5D5FF"/>
<rect x="337" y="837" width="11" height="11" fill="#FFC0E5"/>
<rect x="349" y="837" width="11" height="11" fill="#FFC0E5"/>
<rect x="361" y="837" width="11" height="11" fill="#FFC0E5"/>
<rect x="373" y="837" width="11" height="11" fill="#FFC0E5"/>
<rect x="385" y="837" width="11" height="11" fill="#C7C1FF"/>
<rect x="397" y="837" width="11" height="11" fill="#D5D5FF"/>
<rect x="409" y="837" width="11" height="11" fill="#D5D5FF"/>
<rect x="421" y="837" width="11" height="11" fill="#C7C1FF"/>
<rect x="433" y="837" width="11" height="11" fill="#FF8888"/>
<rect x="445" y="837" width="11" height="11" fill="#C7C1FF"/>
<rect x="457" y="837" width="11" height="11" fill="#FFC0E5"/>
<rect x="469" y="837" width="11" height="11" fill="#D5D5FF"/>
<rect x="481" y="837" width="11" height="11" fill="#D60C00"/>
<rect x="493" y="837" width="11" height="11" fill="#FF8888"/>
<rect x="505" y="837" width="11" height="11" fill="#C7C1FF"/>
<rect x="517" y="837" width="11" height="11" fill="#FF8888"/>
<rect x="529" y="837" width="11" height="11" fill="#FFC0E5"/>
<rect x="541" y="837" width="11" height="11" fill="#D5D5FF"/>
<rect x="553" y="837" width="11" height="11" fill="#FF8888"/>
<rect x="565" y="837" width="11" height="11" fill="#FFC0E5"/>
<rect x="577" y="837" width="11" height="11" fill="#8888FF"/>
<rect x="589" y="837" width="11" height="11" fill="#C7C1FF"/>
<path d="M0.5 0V849M12.5 0V849M24.5 0V849M36.5 0V849M48.5 0V849M60.5 0V849M72.5 0V849M84.5 0V849M96.5 0V849M108.5 0V849M120.5 0V849M132.5 0V849M144.5 0V849M156.5 0V849M168.5 0V849M180.5 0V849M192.5 0V849M204.5 0V849M216.5 0V849M228.5 0V849M240.5 0V849M252.5 0V849M264.5 0V849M276.5 0V849M288.5 0V849M300.5 0V849M312.5 0V849M324.5 0V849M336.5 0V849M348.5 0V849M360.5 0V849M372.5 0V849M384.5 0V849M396.5 0V849M408.5 0V849M420.5 0V849M432.5 0V849M444.5 0V849M456.5 0V849M468.5 0V849M480.5 0V849M492.5 0V849M504.5 0V849M516.5 0V849M528.5 0V849M540.5 0V849M552.5 0V849M564.5 0V849M576.5 0V849M588.5 0V849M600.5 0V849M0 140.5H707M0 152.5H707M0 164.5H707M0 176.5H707M0 188.5H707M0 200.5H707M0 212.5H707M0 224.5H707M0 236.5H707M0 248.5H707M0 260.5H707M0 272.5H707M0 284.5H707M0 296.5H707M0 308.5H707M0 320.5H707M0 332.5H707M0 344.5H707M0 356.5H707M0 368.5H707M0 380.5H707M0 392.5H707M0 404.5H707M0 416.5H707M0 428.5H707M0 440.5H707M0 452.5H707M0 464.5H707M0 476.5H707M0 488.5H707M0 500.5H707M0 512.5H707M0 524.5H707M0 536.5H707M0 548.5H707M0 560.5H707M0 572.5H707M0 584.5H707M0 596.5H707M0 608.5H707M0 620.5H707M0 632.5H707M0 644.5H707M0 656.5H707M0 668.5H707M0 680.5H707M0 692.5H707M0 704.5H707M0 716.5H707M0 728.5H707M0 740.5H707M0 752.5H707M0 764.5H707M0 776.5H707M0 788.5H707M0 800.5H707M0 812.5H707M0 824.5H707M0 836.5H707M0 848.5H707" stroke="#000" stroke-width="1" fill="none"/>
<g fill="#000" stroke="#000" stroke-width="0.2"><text transform="translate(12.0 114.9) rotate(-90) scale(1 1.05)" font-size="11.6">786-0</text><text transform="translate(24.0 114.9) rotate(-90) scale(1 1.05)" font-size="11.6">BT-549</text><text transform="translate(36.0 114.9) rotate(-90) scale(1 1.05)" font-size="11.6">CCRF-CEM</text><text transform="translate(48.0 114.9) rotate(-90) scale(1 1.05)" font-size="11.6">COLO 205</text><text transform="translate(60.0 114.9) rotate(-90) scale(1 1.05)" font-size="11.6">EKVX</text><text transform="translate(72.0 114.9) rotate(-90) scale(1 1.05)" font-size="11.6">HCC-2998</text><text transform="translate(84.0 114.9) rotate(-90) scale(1 1.05)" font-size="11.6">HCT-15</text><text transform="translate(96.0 114.9) rotate(-90) scale(1 1.05)" font-size="11.6">HOP-62</text><text transform="translate(108.0 114.9) rotate(-90) scale(1 1.05)" font-size="11.6">HOP-92</text><text transform="translate(120.0 114.9) rotate(-90) scale(1 1.05)" font-size="11.6">HS 578T</text><text transform="translate(132.0 114.9) rotate(-90) scale(1 1.05)" font-size="11.6">HT29</text><text transform="translate(144.0 114.9) rotate(-90) scale(1 1.05)" font-size="11.6">K-562</text><text transform="translate(156.0 114.9) rotate(-90) scale(1 1.05)" font-size="11.6">KM12</text><text transform="translate(168.0 114.9) rotate(-90) scale(1 1.05)" font-size="11.6">M14</text><text transform="translate(180.0 114.9) rotate(-90) scale(1 1.05)" font-size="11.6">MDA-MB-231/ATCC</text><text transform="translate(192.0 114.9) rotate(-90) scale(1 1.05)" font-size="11.6">MDA-MB-435</text><text transform="translate(204.0 114.9) rotate(-90) scale(1 1.05)" font-size="11.6">NCI-H23</text><text transform="translate(216.0 114.9) rotate(-90) scale(1 1.05)" font-size="11.6">NCI-H322M</text><text transform="translate(228.0 114.9) rotate(-90) scale(1 1.05)" font-size="11.6">NCI-H522</text><text transform="translate(240.0 114.9) rotate(-90) scale(1 1.05)" font-size="11.6">OVCAR-3</text><text transform="translate(252.0 114.9) rotate(-90) scale(1 1.05)" font-size="11.6">OVCAR-5</text><text transform="translate(264.0 114.9) rotate(-90) scale(1 1.05)" font-size="11.6">OVCAR-8</text><text transform="translate(276.0 114.9) rotate(-90) scale(1 1.05)" font-size="11.6">PC-3</text><text transform="translate(288.0 114.9) rotate(-90) scale(1 1.05)" font-size="11.6">RXF-393</text><text transform="translate(300.0 114.9) rotate(-90) scale(1 1.05)" font-size="11.6">SF-268</text><text transform="translate(312.0 114.9) rotate(-90) scale(1 1.05)" font-size="11.6">SF-295</text><text transform="translate(324.0 114.9) rotate(-90) scale(1 1.05)" font-size="11.6">SK-MEL-2</text><text transform="translate(336.0 114.9) rotate(-90) scale(1 1.05)" font-size="11.6">SN12C</text><text transform="translate(348.0 114.9) rotate(-90) scale(1 1.05)" font-size="11.6">SNB-19</text><text transform="translate(360.0 114.9) rotate(-90) scale(1 1.05)" font-size="11.6">SNB-75</text><text transform="translate(372.0 114.9) rotate(-90) scale(1 1.05)" font-size="11.6">SW-620</text><text transform="translate(384.0 114.9) rotate(-90) scale(1 1.05)" font-size="11.6">T-47D</text><text transform="translate(396.0 114.9) rotate(-90) scale(1 1.05)" font-size="11.6">U251</text><text transform="translate(408.0 114.9) rotate(-90) scale(1 1.05)" font-size="11.6">A498</text><text transform="translate(420.0 114.9) rotate(-90) scale(1 1.05)" font-size="11.6">A549/ATCC</text><text transform="translate(432.0 114.9) rotate(-90) scale(1 1.05)" font-size="11.6">ACHN</text><text transform="translate(444.0 114.9) rotate(-90) scale(1 1.05)" font-size="11.6">CAKI-1</text><text transform="translate(456.0 114.9) rotate(-90) scale(1 1.05)" font-size="11.6">HCT-116</text><text transform="translate(468.0 114.9) rotate(-90) scale(1 1.05)" font-size="11.6">LOX IMVI</text><text transform="translate(480.0 114.9) rotate(-90) scale(1 1.05)" font-size="11.6">MALME-3M</text><text transform="translate(492.0 114.9) rotate(-90) scale(1 1.05)" font-size="11.6">MCF7</text><text transform="translate(504.0 114.9) rotate(-90) scale(1 1.05)" font-size="11.6">MOLT-4</text><text transform="translate(516.0 114.9) rotate(-90) scale(1 1.05)" font-size="11.6">NCI-H460</text><text transform="translate(528.0 114.9) rotate(-90) scale(1 1.05)" font-size="11.6">OVCAR-4</text><text transform="translate(540.0 114.9) rotate(-90) scale(1 1.05)" font-size="11.6">SF-539</text><text transform="translate(552.0 114.9) rotate(-90) scale(1 1.05)" font-size="11.6">SK-MEL-5</text><text transform="translate(564.0 114.9) rotate(-90) scale(1 1.05)" font-size="11.6">SR</text><text transform="translate(576.0 114.9) rotate(-90) scale(1 1.05)" font-size="11.6">UACC-257</text><text transform="translate(588.0 114.9) rotate(-90) scale(1 1.05)" font-size="11.6">UACC-62</text><text transform="translate(600.0 114.9) rotate(-90) scale(1 1.05)" font-size="11.6">UO-31</text></g>
<text transform="translate(610.5 126.6) scale(1 1.05)" font-size="15" fill="#000" stroke="#000" stroke-width="0.2">SampleName</text>
<g fill="#000" stroke="#000" stroke-width="0.08"><text transform="translate(610.3 151.8) scale(1 1.05)" font-size="11.6">OGFR</text><text transform="translate(610.3 163.8) scale(1 1.05)" font-size="11.6">PSME1</text><text transform="translate(610.3 175.8) scale(1 1.05)" font-size="11.6">LAMP3</text><text transform="translate(610.3 187.8) scale(1 1.05)" font-size="11.6">PSME2</text><text transform="translate(610.3 199.8) scale(1 1.05)" font-size="11.6">IRF1</text><text transform="translate(610.3 211.8) scale(1 1.05)" font-size="11.6">CCRL2</text><text transform="translate(610.3 223.8) scale(1 1.05)" font-size="11.6">CXCL11</text><text transform="translate(610.3 235.8) scale(1 1.05)" font-size="11.6">IFIT2</text><text transform="translate(610.3 247.8) scale(1 1.05)" font-size="11.6">IFIT3</text><text transform="translate(610.3 259.8) scale(1 1.05)" font-size="11.6">CD47</text><text transform="translate(610.3 271.8) scale(1 1.05)" font-size="11.6">GBP2</text><text transform="translate(610.3 283.8) scale(1 1.05)" font-size="11.6">IFITM2</text><text transform="translate(610.3 295.8) scale(1 1.05)" font-size="11.6">CXCL10</text><text transform="translate(610.3 307.8) scale(1 1.05)" font-size="11.6">B2M</text><text transform="translate(610.3 319.8) scale(1 1.05)" font-size="11.6">PSMA3</text><text transform="translate(610.3 331.8) scale(1 1.05)" font-size="11.6">IFI27</text><text transform="translate(610.3 343.8) scale(1 1.05)" font-size="11.6">IRF7</text><text transform="translate(610.3 355.8) scale(1 1.05)" font-size="11.6">OASL</text><text transform="translate(610.3 367.8) scale(1 1.05)" font-size="11.6">NMI</text><text transform="translate(610.3 379.8) scale(1 1.05)" font-size="11.6">UBE2L6</text><text transform="translate(610.3 391.8) scale(1 1.05)" font-size="11.6">IFITM1</text><text transform="translate(610.3 403.8) scale(1 1.05)" font-size="11.6">TRIM25</text><text transform="translate(610.3 415.8) scale(1 1.05)" font-size="11.6">C1S</text><text transform="translate(610.3 427.8) scale(1 1.05)" font-size="11.6">TRIM14</text><text transform="translate(610.3 439.8) scale(1 1.05)" font-size="11.6">BST2</text><text transform="translate(610.3 451.8) scale(1 1.05)" font-size="11.6">MX1</text><text transform="translate(610.3 463.8) scale(1 1.05)" font-size="11.6">PSMB8</text><text transform="translate(610.3 475.8) scale(1 1.05)" font-size="11.6">CSF1</text><text transform="translate(610.3 487.8) scale(1 1.05)" font-size="11.6">PLSCR1</text><text transform="translate(610.3 499.8) scale(1 1.05)" font-size="11.6">CASP1</text><text transform="translate(610.3 511.8) scale(1 1.05)" font-size="11.6">ADAR</text><text transform="translate(610.3 523.8) scale(1 1.05)" font-size="11.6">IFI30</text><text transform="translate(610.3 535.8) scale(1 1.05)" font-size="11.6">IFI44</text><text transform="translate(610.3 547.8) scale(1 1.05)" font-size="11.6">IFITM3</text><text transform="translate(610.3 559.8) scale(1 1.05)" font-size="11.6">PSMB9</text><text transform="translate(610.3 571.8) scale(1 1.05)" font-size="11.6">ISG20</text><text transform="translate(610.3 583.8) scale(1 1.05)" font-size="11.6">CD74</text><text transform="translate(610.3 595.8) scale(1 1.05)" font-size="11.6">TAP1</text><text transform="translate(610.3 607.8) scale(1 1.05)" font-size="11.6">LY6E</text><text transform="translate(610.3 619.8) scale(1 1.05)" font-size="11.6">SP110</text><text transform="translate(610.3 631.8) scale(1 1.05)" font-size="11.6">STAT2</text><text transform="translate(610.3 643.8) scale(1 1.05)" font-size="11.6">CNP</text><text transform="translate(610.3 655.8) scale(1 1.05)" font-size="11.6">WARS</text><text transform="translate(610.3 667.8) scale(1 1.05)" font-size="11.6">SELL</text><text transform="translate(610.3 679.8) scale(1 1.05)" font-size="11.6">IL15</text><text transform="translate(610.3 691.8) scale(1 1.05)" font-size="11.6">GMPR</text><text transform="translate(610.3 703.8) scale(1 1.05)" font-size="11.6">IL7</text><text transform="translate(610.3 715.8) scale(1 1.05)" font-size="11.6">IFI35</text><text transform="translate(610.3 727.8) scale(1 1.05)" font-size="11.6">IRF2</text><text transform="translate(610.3 739.8) scale(1 1.05)" font-size="11.6">RIPK2</text><text transform="translate(610.3 751.8) scale(1 1.05)" font-size="11.6">TXNIP</text><text transform="translate(610.3 763.8) scale(1 1.05)" font-size="11.6">TDRD7</text><text transform="translate(610.3 775.8) scale(1 1.05)" font-size="11.6">IL4R</text><text transform="translate(610.3 787.8) scale(1 1.05)" font-size="11.6">LGALS3BP</text><text transform="translate(610.3 799.8) scale(1 1.05)" font-size="11.6">ELF1</text><text transform="translate(610.3 811.8) scale(1 1.05)" font-size="11.6">CASP8</text><text transform="translate(610.3 823.8) scale(1 1.05)" font-size="11.6">IFIH1</text><text transform="translate(610.3 835.8) scale(1 1.05)" font-size="11.6">PROCR</text><text transform="translate(610.3 847.8) scale(1 1.05)" font-size="11.6">TRIM26</text></g>
</svg></body></html>
